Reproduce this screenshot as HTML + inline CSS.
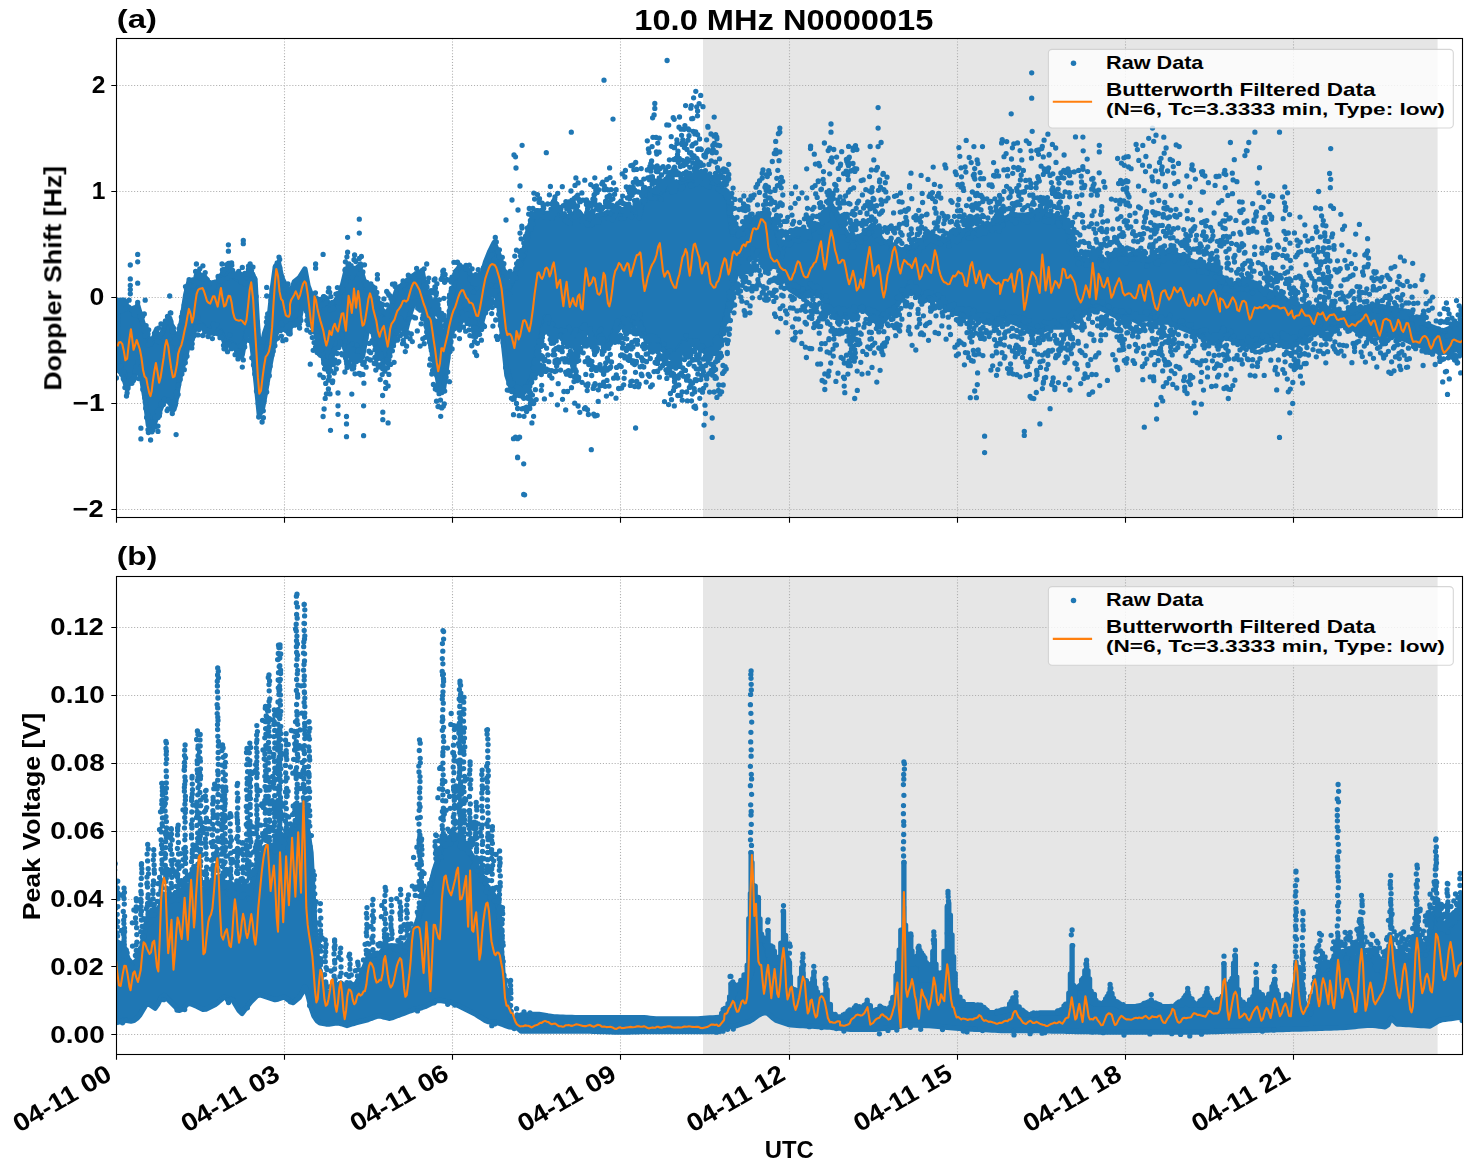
<!DOCTYPE html>
<html><head><meta charset="utf-8"><title>10.0 MHz N0000015</title><style>html,body{margin:0;padding:0;background:#fff;}</style></head><body><svg width="1471" height="1172" viewBox="0 0 1471 1172" style="display:block;font-family:'Liberation Sans',sans-serif;font-weight:bold">
<rect width="1471" height="1172" fill="#fff"/>
<clipPath id="cliptop"><rect x="116.5" y="38.5" width="1346.0" height="479.0"/></clipPath>
<rect x="703.0" y="38.5" width="734.6" height="479.0" fill="#e6e6e6"/>
<path d="M284.50 38.5V517.5M452.50 38.5V517.5M620.50 38.5V517.5M789.50 38.5V517.5M957.50 38.5V517.5M1125.50 38.5V517.5M1293.50 38.5V517.5M116.5 85.50H1462.5M116.5 191.50H1462.5M116.5 297.50H1462.5M116.5 403.50H1462.5M116.5 509.50H1462.5" stroke="#b0b0b0" stroke-width="1.1" stroke-dasharray="1.1 1.83" fill="none"/>
<g clip-path="url(#cliptop)">
<path d="M117.5 311.6 L120.7 305.2 L124.9 305.2 L129.2 307.4 L133.5 311.6 L137.7 305.2 L142 320.2 L146.3 333 L149.5 341.5 L152.7 341.5 L155.9 330.8 L159.1 337.2 L162.2 333 L165.4 322.3 L169.7 318 L172.9 330.8 L176.1 345.8 L179.3 333 L182.5 315.9 L185.7 294.6 L188.9 281.8 L193.2 290.3 L196.4 275.4 L200.6 277.5 L203.8 275.4 L208.1 281.8 L212.4 286 L216.6 288.2 L220.9 275.4 L226.2 273.2 L230.5 269 L234.8 277.5 L238 279.6 L242.2 275.4 L246.5 277.5 L250.8 271.1 L255 279.6 L257.2 320.2 L259.3 350 L261.4 350 L264.6 333 L268.9 320.2 L272.1 290.3 L275.3 266.8 L278.5 262.6 L281.7 277.5 L284.9 283.9 L290 294.6 L290 294.6 L294.3 281.8 L299.6 277.5 L304.9 269 L308.1 286 L311.3 294.6 L315.6 298.8 L319.9 303.1 L324.1 296.7 L328.4 303.1 L332.7 305.2 L336.9 298.8 L341.2 290.3 L345.4 273.2 L349.7 275.4 L354 271.1 L358.2 266.8 L362.5 275.4 L366.8 290.3 L371 290.3 L375.3 294.6 L379.6 307.4 L383.8 311.6 L388.1 315.9 L392.4 303.1 L396.6 290.3 L400.9 286 L405.2 281.8 L409.4 279.6 L413.7 275.4 L418 273.2 L422.2 271.1 L426.5 294.6 L430.8 307.4 L435 328.7 L439.3 333 L443.6 335.1 L447.8 324.4 L452.1 296.7 L456.3 271.1 L460 266 L464.3 268.2 L468.5 270.3 L472.8 283.1 L477.1 287.4 L481.3 276.7 L485.6 261.8 L489.9 251.1 L494.1 242.6 L498.4 253.2 L502.7 266 L505.9 285.2 L509.1 287.4 L513.3 278.8 L517.6 266 L524 255.4 L528.2 230.7 L532.5 217.9 L536.8 210.7 L545.3 213.3 L556 212.8 L566.6 217.1 L577.3 212.8 L588 219.2 L598.6 214.9 L609.3 212.8 L619.9 210.7 L630.6 212.8 L640 210.7 L646.6 189.1 L658.9 193.2 L671.2 185 L683.5 180.9 L695.8 176.8 L708.1 180.9 L720.4 185 L728.6 201.4 L732.7 234.2 L740.9 230.1 L749.1 221.9 L761.3 213.7 L773.6 221.9 L781.8 248.7 L790.2 237.3 L800.5 235.6 L810.7 230.4 L821 225.3 L831.2 204.8 L841.5 225.3 L851.7 240.7 L861.9 235.6 L872.2 225.3 L882.4 240.7 L892.7 245.8 L902.9 250.9 L913.2 245.8 L923.4 240.7 L933.6 235.6 L943.9 240.7 L954.1 235.6 L964.4 230.4 L974.6 230.4 L984.9 225.3 L1000 225.3 L1000 220.2 L1012.8 215.1 L1025.6 215.1 L1038.4 212.5 L1051.2 215.1 L1064 220.2 L1076.8 256 L1087.1 261.2 L1097.3 256 L1107.6 261.2 L1117.8 250.9 L1128 256 L1138.3 250.9 L1148.5 261.2 L1158.8 256 L1169 250.9 L1179.3 256 L1192.1 261.2 L1204.9 266.3 L1220 271.4 L1220 281.7 L1232.4 284.1 L1244.8 281.7 L1257.1 286.6 L1269.5 291.6 L1281.9 296.5 L1294.3 306.4 L1306.6 306.4 L1319 311.4 L1331.4 311.4 L1343.8 313.8 L1356.1 311.4 L1368.5 306.4 L1380.9 306.4 L1393.3 308.9 L1405.6 311.4 L1418 321.3 L1430.4 326.2 L1442.8 331.2 L1455.1 326.2 L1467.5 321.3 L1467.5 349.8 L1455.1 349.8 L1442.8 352.3 L1430.4 349.8 L1418 344.9 L1405.6 339.9 L1393.3 335 L1380.9 335 L1368.5 335 L1356.1 330 L1343.8 325.1 L1331.4 327.5 L1319 330 L1306.6 335 L1294.3 344.9 L1281.9 339.9 L1269.5 339.9 L1257.1 344.9 L1244.8 344.9 L1232.4 339.9 L1220 335 L1220 342.5 L1204.9 337.4 L1192.1 332.2 L1179.3 327.1 L1169 322 L1158.8 322 L1148.5 316.9 L1138.3 322 L1128 316.9 L1117.8 316.9 L1107.6 311.7 L1097.3 306.6 L1087.1 311.7 L1076.8 316.9 L1064 327.1 L1051.2 327.1 L1038.4 332.2 L1025.6 327.1 L1012.8 322 L1000 316.9 L1000 319.4 L995.1 322 L984.9 322 L974.6 316.9 L964.4 316.9 L954.1 311.7 L943.9 306.6 L933.6 296.4 L923.4 301.5 L913.2 291.3 L908 286.1 L902.9 296.4 L892.7 311.7 L882.4 322 L872.2 316.9 L861.9 306.6 L851.7 316.9 L841.5 316.9 L831.2 311.7 L821 296.4 L810.7 291.3 L800.5 296.4 L790.2 289.5 L777.7 263.8 L769.5 263.8 L761.3 255.6 L753.2 255.6 L745 263.8 L736.8 272 L728.6 304.8 L720.4 337.5 L708.1 353.9 L695.8 345.7 L683.5 341.6 L671.2 358 L658.9 345.7 L646.6 341.6 L640 322.1 L630.6 326.3 L622.1 326.3 L613.6 330.6 L607.2 347.7 L600.8 334.9 L594.4 343.4 L588 330.6 L579.4 334.9 L573 339.1 L566.6 330.6 L562.4 339.1 L556 330.6 L549.6 326.7 L545.3 317.3 L541 337.8 L536.8 356.1 L532.5 376.7 L528.2 385.3 L524 392.5 L519.7 388.3 L515.4 392.5 L511.2 388.3 L506.9 375.5 L502.7 337.1 L498.4 303 L494.1 285.9 L489.9 294.4 L485.6 307.2 L481.3 324.3 L477.1 332.8 L472.8 324.3 L468.5 311.5 L464.3 311.5 L460 324.3 L456.3 314.4 L452.1 320.3 L447.8 358.7 L443.6 388.5 L439.3 388.5 L435 362.9 L430.8 345.9 L426.5 324.6 L422.2 303.2 L418 299 L413.7 303.2 L409.4 316 L405.2 333.1 L400.9 324.6 L396.6 333.1 L392.4 341.6 L388.1 358.7 L383.8 362.9 L379.6 352.3 L375.3 345.9 L371 320.3 L366.8 333.1 L362.5 356.5 L358.2 350.1 L354 354.4 L349.7 345.9 L345.4 350.1 L341.2 337.3 L336.9 341.6 L332.7 354.4 L328.4 371.5 L324.1 362.9 L319.9 337.3 L315.6 333.1 L311.3 324.6 L308.1 316 L304.9 290.4 L299.6 318.7 L294.3 323 L290 327.2 L290 333.6 L284.9 329.4 L280.6 327.2 L276.3 331.5 L273.1 348.6 L269.9 365.6 L265.7 391.2 L262.5 408.3 L259.3 414.7 L256.1 382.7 L252.9 352.8 L249.7 327.2 L246.5 331.5 L242.2 354.9 L238 352.8 L233.7 344.3 L229.4 342.2 L225.2 344.3 L220.9 331.5 L216.6 331.5 L212.4 327.2 L208.1 331.5 L203.8 327.2 L199.6 323 L195.3 327.2 L192.1 340 L188.9 342.2 L184.6 361.3 L181.4 369.9 L178.2 386.9 L175 406.1 L171.8 406.1 L167.6 399.7 L163.3 401.9 L159.1 412.5 L155.9 418.9 L152.7 429.6 L148.4 425.3 L145.2 399.7 L142 380.5 L137.7 365.6 L133.5 380.5 L130.3 378.4 L127.1 389.1 L123.9 378.4 L120.7 367.7 L117.5 369.9 Z" fill="#1f77b4" stroke="#1f77b4" stroke-width="5.3" stroke-linejoin="round"/>
<path d="M116.2 310.7h0M115.9 314.3h0M116.5 307.4h0M116.6 319.1h0M117.6 300.2h0M118.4 311.6h0M119.5 305.6h0M118.8 302.9h0M119.8 305.8h0M121.1 300.1h0M120.6 307.7h0M122.2 303.9h0M122.1 310.6h0M123.3 303.1h0M124 300.2h0M126.3 302.6h0M125.5 309.1h0M129.1 300.2h0M132.2 309.8h0M134.2 307.9h0M133.7 314.5h0M135.3 309h0M134.9 315.3h0M136 311.6h0M137.9 310.4h0M139.7 312.1h0M140.1 316.6h0M140.9 316.7h0M141.5 318.9h0M142.6 316.5h0M144.3 313.9h0M143.6 330.6h0M144.6 328.8h0M144.8 336h0M145.7 332.2h0M145.9 331.6h0M146.1 325.7h0M146.8 333.2h0M146.6 332.3h0M148 333.9h0M147.8 344.9h0M148.7 329.8h0M150 340.6h0M150.5 344.2h0M151.7 338.8h0M154.5 333.3h0M156.9 328.8h0M156.8 340.9h0M158.5 328.2h0M159.7 334.5h0M160.1 342.4h0M161 323.8h0M162.2 332.8h0M164.3 326h0M164.5 323.8h0M165.4 320.8h0M165.7 320.9h0M167.5 316.5h0M167.6 322.2h0M170.3 312.8h0M170.8 321.5h0M170.8 325h0M172.4 326.3h0M172.1 330.9h0M173.4 328h0M173.5 331.5h0M173.5 342.5h0M175 339.4h0M176 342.9h0M177.1 341.5h0M177.3 347.9h0M178.3 333.3h0M179 328.6h0M180 325.7h0M181.4 316.9h0M182.4 313.8h0M182.9 311.9h0M182.7 312.2h0M183.3 312.9h0M184.2 305.2h0M185.5 286.6h0M186.5 289.5h0M187 286.1h0M186.8 295.9h0M187.9 287.8h0M189.1 279.6h0M190.5 291.8h0M191.9 295h0M192.8 279.9h0M193.1 280.4h0M193.6 285.9h0M195.4 281.3h0M195.6 271.5h0M198.4 271.4h0M198 283.2h0M198.7 276h0M198.8 283.1h0M199.8 268.8h0M200.5 274.8h0M200.5 275.6h0M202 275.4h0M202.9 265.8h0M204.2 278.7h0M205.2 272.6h0M205.6 283.6h0M207.2 279.7h0M206.6 286.9h0M208.8 288.7h0M209.9 282.7h0M211.5 290.6h0M213 282.6h0M212.5 289.4h0M213.9 286.3h0M213.8 294.7h0M215 282.2h0M217.5 292.3h0M218.1 276.5h0M218.4 279.4h0M220 280.9h0M222.4 269.8h0M222.5 273h0M222.6 279.4h0M224.1 269.3h0M224.5 269.8h0M226 269.2h0M226.8 264.6h0M227.2 278.3h0M228.5 263.5h0M229.2 266.6h0M229.6 263.4h0M230.2 275.4h0M230.5 265h0M231.2 275.8h0M231.8 265.3h0M232.6 270.3h0M235.3 274h0M235.7 276.5h0M236.6 273.9h0M238 275.6h0M238.7 271.4h0M239.5 277.5h0M240.6 274.5h0M241.3 281.9h0M242.3 267.4h0M242.4 274.8h0M242.9 280.5h0M244.8 273.5h0M245.3 284h0M246 283.1h0M247.5 274h0M248.4 269.4h0M248.5 266.2h0M250.1 264h0M250.4 279.9h0M250.8 267.8h0M251.5 270.2h0M251.8 267.3h0M252.7 274.5h0M253 267.1h0M254.7 278.7h0M254.6 284.7h0M256.1 296.5h0M257 321.5h0M257.6 329.6h0M259.1 341.9h0M259.7 348.2h0M260.5 353.9h0M262.2 346.7h0M262.9 341.6h0M264.7 339h0M266.4 322h0M267 317.3h0M267.7 313.8h0M268.8 326.1h0M271 300h0M272.1 289.6h0M272 296.6h0M275.5 267.2h0M276 265.8h0M277.2 262.8h0M277.8 263h0M277.7 263.2h0M279 257.1h0M279.7 259.5h0M279.8 267.7h0M281.9 276.7h0M282.7 284.7h0M283.6 289.8h0M287.4 287.1h0M287.9 284h0M287.7 295.6h0M288.9 290.6h0M290.3 299.5h0M291 299.2h0M313.3 294.6h0M313.6 297.1h0M315.4 292.8h0M315.5 304h0M316.2 297.9h0M315.5 305h0M318 307.4h0M318.9 308.2h0M320.2 299.5h0M321.9 305.2h0M323.3 304.8h0M323.5 296.6h0M325.6 297.6h0M326.2 302.7h0M326.9 299.2h0M328.3 291.8h0M328.8 288.1h0M329.7 292.3h0M329.7 309.9h0M330.8 296.6h0M332.3 302.4h0M333.3 308.2h0M333.6 308.8h0M335.9 294.1h0M337.4 287.6h0M337.1 300.3h0M337.6 293.6h0M338.1 302.6h0M338.8 302.6h0M339.7 298.1h0M341.9 286.6h0M343.2 289.8h0M344.5 284.5h0M344.9 270.1h0M345.5 269.1h0M346.2 271.9h0M346.4 281.5h0M346.9 256.8h0M347.5 272.5h0M348.1 265.3h0M348.9 263.8h0M348.6 266.9h0M349 271.2h0M350.3 267.4h0M349.6 272.6h0M350.6 267h0M351.1 265.7h0M352.3 271.3h0M352.3 277.5h0M352.7 270.2h0M352.9 275h0M354.2 268.5h0M354.3 273.3h0M354.6 254.9h0M355.8 261.5h0M355.9 271h0M358.1 266.9h0M359.3 258.4h0M359.6 265.8h0M359.6 274.4h0M360.5 267.3h0M362.3 264.9h0M362.9 271.9h0M364.5 264.8h0M365.5 282.2h0M366.4 284.7h0M367.3 286.1h0M366.8 282.4h0M368 288.9h0M369 287.9h0M368.5 287.2h0M369.4 297.1h0M369.6 287.6h0M370.9 284h0M372.4 286.3h0M372.8 289.1h0M374.9 288h0M374.5 292.7h0M376.5 297.5h0M376.8 292.5h0M376.6 307.4h0M378 298.1h0M379.2 303.2h0M378.9 313.6h0M379.7 303.2h0M381.1 306.3h0M381.6 306.6h0M382.4 310.7h0M382.8 304.7h0M383.1 311.5h0M383.9 298.9h0M385 312.2h0M384.6 318.9h0M386.1 313.6h0M387.1 311.7h0M387.1 304.9h0M386.7 291.4h0M386.5 320.3h0M388.2 293.7h0M388.3 315.7h0M389 295.2h0M388.6 309.8h0M388.8 320.9h0M390.3 296h0M390.9 298.6h0M392.1 301.3h0M392.5 284.2h0M392.7 298.8h0M394.8 283.8h0M395.1 286.5h0M399.1 286.9h0M399.6 288.1h0M400.6 293.7h0M401.5 291.9h0M403.1 281h0M403.9 284.7h0M407.6 279.8h0M408.3 275.2h0M409.6 286.3h0M410.9 283.4h0M411.8 276.3h0M414.9 279h0M416 273.7h0M416.6 268.5h0M417.7 273.2h0M419 276h0M419.8 275.4h0M422.2 270.4h0M422.6 270.1h0M424.1 268.8h0M423.9 285.3h0M425.4 285.4h0M424.8 292.8h0M426.7 264h0M427 286.9h0M427.8 282.1h0M427.7 292.6h0M428.7 278.1h0M429.3 291.9h0M430.4 293.2h0M429.7 299.9h0M430.2 298.2h0M430.7 305.1h0M431 300.4h0M430.8 304.9h0M431.2 290.7h0M431.9 311.1h0M432.7 304h0M432.6 292.7h0M432.5 323.2h0M434.2 280h0M434.1 304.3h0M433.6 306.3h0M435.4 287.9h0M435.1 311.6h0M434.9 286.9h0M435.2 320.8h0M436.4 292.7h0M436.1 294.7h0M435.8 311.1h0M435.6 299.3h0M436.3 313h0M436.9 321.7h0M437.1 311.7h0M437.2 314.2h0M437.2 324.4h0M436.9 283.7h0M438 330.4h0M438.3 326.1h0M437.6 308.4h0M438 304.6h0M439.3 299.8h0M438.9 308.9h0M439.2 325.1h0M439.3 316.6h0M438.9 311.5h0M439.9 322.9h0M439.9 332.9h0M440.2 315.5h0M439.8 319.2h0M440.4 331.8h0M441.3 325.7h0M440.7 317.5h0M441.3 329.3h0M441.1 279.3h0M442.5 325.8h0M442.1 319.9h0M442.3 277.7h0M441.8 313.4h0M442.9 274.8h0M442.8 271.2h0M442.8 319h0M442.7 316.2h0M443.2 334.7h0M442.8 340.8h0M444.1 315.4h0M443.9 298.3h0M443.6 270.1h0M444.6 282.3h0M445.1 274.4h0M445.5 339.4h0M445.6 320.1h0M445.7 324.2h0M447.4 321.5h0M446.7 279.5h0M448.2 279.9h0M449.2 311.1h0M449.2 297.4h0M449.4 301.9h0M449.6 304.2h0M449.6 294.8h0M449.6 295.9h0M451.4 288.4h0M451.3 303.6h0M451.1 291.2h0M451.3 282h0M451.5 307.9h0M452.1 280.1h0M452.1 296.7h0M452.4 277.8h0M452 277.2h0M453.2 290.7h0M453.9 262.3h0M454 277.7h0M454.9 274.1h0M455.3 272h0M454.9 274.9h0M456 271.2h0M456.8 262.4h0M457.1 275.7h0M457.5 262.1h0M459.5 264.9h0M466 265.5h0M466.5 268.9h0M469.3 265.2h0M469.9 272.9h0M470.1 278.8h0M470.5 279.8h0M472.1 268.8h0M472.9 283.2h0M473.4 276h0M473.6 279.9h0M473.7 275.7h0M473.5 292.2h0M475.5 284.2h0M474.6 279h0M475.7 275.1h0M475.7 274.6h0M476.2 283.9h0M476.6 275.5h0M478.4 280.2h0M478.2 269.7h0M479.2 282.4h0M480.2 278.1h0M480 274.2h0M481.1 275.8h0M480.6 277.6h0M482.1 275.1h0M483.4 268h0M489.4 257.3h0M491.8 254.8h0M495.3 237.4h0M496.3 241.9h0M498.1 251.9h0M499.4 249.8h0M499.2 256.5h0M500.3 264h0M502.3 257.3h0M502.4 266h0M503 264.2h0M503.7 272.3h0M503.9 263.7h0M504.6 271.5h0M505.5 279.6h0M505.1 287.3h0M506.1 282.8h0M506 279.1h0M506.5 293.1h0M507.1 275.6h0M507.3 281.3h0M507.3 273.5h0M507.5 281.8h0M507.7 283h0M508.1 294.3h0M509.4 276.7h0M509.1 286.2h0M509.5 294.4h0M510.1 271.3h0M510.7 273.5h0M511.8 280.8h0M512.4 274.4h0M513.3 278.7h0M513.6 275.9h0M514.8 256.1h0M515.8 269h0M516 277.9h0M516.6 263.6h0M516.5 250.2h0M518.4 264.8h0M518.4 261.4h0M518.9 261.2h0M519.4 262h0M519.8 252h0M520 233.1h0M520.6 256h0M521.1 238.8h0M521.4 257.7h0M520.7 264.6h0M521.8 226.2h0M522 255.4h0M521.6 250.3h0M523.4 255.9h0M523.8 243.1h0M523.7 249.7h0M524.5 246.8h0M524.8 247.6h0M524.8 248.4h0M526.3 243.4h0M525.6 236.2h0M526 239.2h0M527.4 227.8h0M527.1 233.5h0M527.3 244.5h0M527.6 228.3h0M528.1 230.5h0M527.7 237.8h0M529.3 208.4h0M528.7 214.1h0M528.9 227.2h0M530.3 224.5h0M530.4 220.5h0M531.4 222.2h0M531.4 213.4h0M531.3 228.9h0M531.9 217.1h0M532.9 208.5h0M533.2 224.1h0M533.8 193.1h0M534.6 199.1h0M536 215h0M537.5 210.6h0M536.6 217.4h0M537.5 194.6h0M537.7 210.7h0M539.1 202.3h0M538.6 210.9h0M539.5 198.7h0M540 215h0M540.9 210.6h0M541.1 210.5h0M542.2 203.1h0M542.3 210.4h0M543.3 206.5h0M542.9 204.3h0M543.7 208.2h0M544.5 216.9h0M546.5 216.2h0M547.1 217.4h0M547.6 204h0M547.5 216.3h0M549.4 194.8h0M550.4 186.5h0M549.8 213.9h0M551 209.1h0M551.9 203.7h0M552.1 218.4h0M553.5 201.5h0M552.8 203.8h0M552.6 215.6h0M553.8 211.1h0M553.8 206.2h0M553.6 209.3h0M554.1 208.1h0M554.7 199.2h0M555 196.8h0M555 214.2h0M555.7 209.2h0M555.9 203.4h0M557.4 207.4h0M557.1 209.6h0M556.8 204.2h0M557.7 193.3h0M557.9 207.3h0M558.9 207.1h0M560.5 210.7h0M560.9 208.8h0M562.3 186.7h0M562.2 213.8h0M563.3 205.7h0M564.4 213.9h0M564.1 213.9h0M565.3 220.6h0M565.9 201.6h0M566.2 220.5h0M567.1 208.7h0M566.8 208.9h0M567.9 205.1h0M567.6 222h0M568.6 201.8h0M569.3 211.1h0M569.9 212h0M570.1 223.4h0M571 191h0M572.2 203h0M571.9 206.9h0M571.9 200.2h0M572.6 202.4h0M572.9 206.9h0M573.1 201.1h0M573.9 203.3h0M574.5 198.2h0M574.3 216.8h0M575.5 207.5h0M575 185.4h0M575.4 211.8h0M575.9 177.9h0M575.8 210.6h0M575.7 216.4h0M577.1 196.9h0M577.5 205.9h0M576.5 196.6h0M576.8 210.1h0M577.8 213.2h0M578.1 182.9h0M577.7 195.1h0M577.8 215.6h0M579.5 201.1h0M578.9 199.4h0M578.7 211.6h0M579.7 212.6h0M580.3 201.7h0M580.5 213.9h0M581.9 192.9h0M581.6 221.4h0M582.8 200.1h0M582.6 220.8h0M584.5 200.3h0M583.7 218h0M584.8 180.2h0M586.5 199.8h0M586.4 204.5h0M586.2 222.6h0M587.4 211.2h0M587.3 205.3h0M586.7 213h0M587.5 225.2h0M587.6 202.2h0M587.9 203.5h0M587.6 208.6h0M587.9 214.9h0M588.8 214.4h0M588.5 213.2h0M590.2 214.9h0M589.8 216.4h0M591.3 206h0M590.7 184.6h0M590.9 217h0M592.5 212.8h0M591.7 203.2h0M592.2 224.6h0M592.9 199.2h0M593.1 211.4h0M592.6 210.8h0M593.8 200.9h0M593.9 186.8h0M594.1 195h0M593.6 221.3h0M594.8 177.8h0M594.6 194.3h0M594.9 199.6h0M594.8 202.3h0M594.7 221.8h0M595.8 190.5h0M596.4 205.5h0M596.4 185.8h0M596.5 209h0M597.2 192.6h0M597.2 219.9h0M598.3 209.4h0M598.1 206.4h0M598.4 222.3h0M598.5 189.7h0M598.7 221.6h0M599.5 205h0M600.1 207.1h0M600.1 209.8h0M600.9 208.5h0M602.3 214.2h0M601.8 183.8h0M602.1 208.8h0M602.6 208.3h0M602.7 182.1h0M603.9 189.6h0M604.3 185.8h0M603.6 207.1h0M605.2 189.6h0M605.6 201.1h0M605.9 188.9h0M605.6 203h0M607.2 212.3h0M606.8 179.5h0M607.1 196.8h0M607.6 207.1h0M607.9 203.9h0M607.6 218.4h0M608.7 189.9h0M609 207.1h0M608.9 201.6h0M609.6 167.9h0M609.8 195.5h0M610 177.6h0M611.1 189.6h0M611.3 199.6h0M611.9 205.1h0M611.6 207.4h0M612.2 218.7h0M612.8 209.5h0M612.9 198.8h0M612.5 219.5h0M613.6 182.8h0M614.6 194.2h0M614.7 215.7h0M616.4 211.3h0M616.1 189.7h0M616.7 205.1h0M616.5 208.1h0M617.7 203.6h0M619.3 208.1h0M619.7 202.3h0M621.1 201h0M621.3 201h0M621.1 218.6h0M622.2 173.8h0M622.7 196.1h0M623.1 203.5h0M622.7 211.1h0M623.5 209.4h0M624.2 218h0M625.4 170.5h0M624.9 177h0M625.2 204.2h0M624.8 215.8h0M626.3 187h0M625.8 207.8h0M625.8 214.1h0M626.8 210h0M627.5 197.9h0M628.3 189.9h0M628.1 212.4h0M629.5 192.7h0M629.1 197.2h0M628.8 204.2h0M630.2 207.7h0M629.6 198.7h0M629.9 187.2h0M629.9 192.2h0M629.9 214.8h0M631.4 208h0M630.6 193.8h0M630.8 165.6h0M630.8 215.4h0M631.7 193.3h0M631.6 192.2h0M632.1 195.3h0M631.6 216.8h0M633.1 164.8h0M633.3 182.4h0M633.2 187.5h0M633.9 169.7h0M634.5 207.5h0M634.3 192.3h0M633.6 209.5h0M634.5 200.7h0M634.7 190.2h0M635.2 203.3h0M635.1 204.4h0M636.4 191.7h0M635.7 162.5h0M635.8 178.8h0M636.6 169.4h0M637.2 200.1h0M636.5 180.6h0M638.3 192h0M638.4 208.2h0M637.8 184.1h0M637.9 206h0M638.5 208h0M639.3 208.1h0M639.1 206h0M639.2 202.6h0M639.4 217.8h0M640.3 182.4h0M639.8 210.3h0M640.4 213.8h0M640.7 206.6h0M641.2 168.6h0M640.7 210.9h0M642.4 193.4h0M641.6 183.9h0M641.7 195.6h0M642.7 200h0M643 191.5h0M643.5 188.3h0M643.8 179.1h0M644.5 201.4h0M645.2 191h0M644.8 187.4h0M645.1 200.3h0M647.3 169.9h0M647.3 140.8h0M647.8 178h0M648.4 148.9h0M649.3 179.8h0M649 152.5h0M649.9 166.3h0M649.8 188.4h0M650.5 178.6h0M649.7 195h0M650.6 176.8h0M651.4 190.3h0M650.9 171.2h0M650.8 163.6h0M650.8 198.1h0M652.1 146.6h0M652.4 176.7h0M651.6 161h0M652.1 184.2h0M652.9 137.3h0M652.6 117.8h0M653.4 167.2h0M652.8 179.5h0M652.7 190.4h0M652.7 190.7h0M654.1 183h0M654.1 115h0M654.2 183.1h0M655.3 188.6h0M654.8 108.4h0M655 198.4h0M656.4 151.8h0M655.8 182.8h0M656.1 137.4h0M655.8 192.3h0M656.5 171.6h0M656.8 154h0M657.1 165.9h0M657 180.9h0M657.4 192h0M656.6 169.9h0M657.8 143.1h0M657.7 189.1h0M658.3 186.9h0M658.3 189.2h0M658 171.6h0M659.1 152.2h0M659.2 177.8h0M659.2 181.8h0M659.3 138.1h0M659.3 179h0M660 180.3h0M659.5 187.2h0M660.2 168.4h0M661.3 182.4h0M660.5 188.4h0M661 199.4h0M662.4 184h0M661.6 175h0M662.2 184.2h0M663.3 189.5h0M663.5 180.9h0M663.1 166.6h0M663 187.2h0M664.2 186h0M664.1 187.5h0M663.6 183.8h0M665.4 171.9h0M665.8 179.2h0M665.7 170.4h0M666.3 181.2h0M667.1 180.3h0M667.4 182.5h0M666.8 124.9h0M667.8 176.9h0M668.4 166.7h0M668.2 181.7h0M669.4 159.8h0M669.4 179.2h0M669.3 172.7h0M668.7 125.1h0M669.5 174.9h0M670.5 182.2h0M670.4 185.5h0M670.2 180.8h0M669.7 182.6h0M671.4 172.4h0M671.4 146.3h0M670.7 184.1h0M671.2 136.7h0M671 184h0M670.6 189.2h0M672.4 173h0M672 180.8h0M671.9 180.2h0M672.2 178.6h0M672.2 179.8h0M671.9 191.9h0M672.7 171h0M673.2 117.7h0M672.7 174.5h0M672.6 174.8h0M673 183h0M672.9 186.7h0M674.2 147.7h0M674 159.5h0M674.5 147.5h0M674.2 119.3h0M673.8 168.2h0M674.5 167.1h0M673.9 188.7h0M675.1 183.6h0M675.1 174.5h0M674.7 168.9h0M675.3 190.9h0M676.2 181.8h0M676.1 171h0M675.8 158.3h0M676.4 181.8h0M677.5 154.6h0M677.1 174.6h0M676.9 140h0M676.9 143.6h0M677.1 159.4h0M678 151.2h0M678.1 174.7h0M678.4 172.9h0M678.2 162.3h0M677.7 186.2h0M679 158.3h0M679.3 158.4h0M678.7 173.7h0M679 127.2h0M679.5 117h0M680.3 166.6h0M680.8 176.3h0M680.9 178.2h0M681 129.2h0M680.9 189.1h0M681.9 142.9h0M682.3 160.3h0M681.6 135.3h0M681.9 144.4h0M681.9 187.5h0M682.5 165.4h0M683.1 173.8h0M682.7 179.1h0M682.8 139.8h0M683.3 187.1h0M684.4 147.6h0M683.9 173.4h0M684.1 129.3h0M683.5 165.5h0M683.9 161.6h0M685.1 163.2h0M684.9 125.6h0M685.1 164.4h0M685.2 163.5h0M685.8 143.7h0M686.3 177.6h0M686 164.2h0M686.3 171.9h0M687 149.4h0M687.3 158.8h0M687 161.6h0M687 160.1h0M687.2 175.5h0M687.5 161.7h0M688.1 140.2h0M688.3 129h0M687.7 175.1h0M687.6 175.5h0M689.1 130.1h0M689.2 177.1h0M689 135.7h0M689.2 177.1h0M689.1 160.1h0M689.8 173.1h0M689.5 152.8h0M689.8 167.3h0M690.4 184.7h0M690.9 152.6h0M690.8 176.5h0M691.3 105.6h0M690.8 108.2h0M691 186h0M692 155.2h0M691.9 145.9h0M691.7 118.7h0M691.8 185.7h0M693.1 158.1h0M692.8 163.2h0M692.8 118.5h0M693.3 131.5h0M693 144.3h0M693.6 97.8h0M694.1 155.9h0M694.4 175.5h0M694.1 174.6h0M694.4 169.9h0M694 174.1h0M694.8 133.9h0M695.3 168h0M695.4 171h0M694.6 168.2h0M695.3 173.2h0M694.8 177.5h0M695.7 132h0M696.2 174.6h0M696.3 175.2h0M695.7 163.4h0M695.8 143h0M696.4 183.7h0M696.7 106.8h0M697.5 115.8h0M696.5 158.2h0M697.1 158.9h0M697 167.5h0M697.2 180.8h0M697.6 134.7h0M697.6 111h0M697.8 149.4h0M698.3 161.4h0M697.6 166.9h0M699.1 103.7h0M698.6 148.9h0M698.8 172.3h0M700.1 177h0M700.4 162.7h0M699.6 139h0M699.7 182h0M701.3 171.4h0M700.6 165.7h0M700.6 148.9h0M701.3 149.6h0M702 177.6h0M702.1 175.2h0M702.1 173.8h0M702.2 183.6h0M703.4 172.7h0M703.3 165.1h0M703 106.7h0M702.6 173.5h0M704 155.9h0M704 175.2h0M704 173.3h0M703.9 155.1h0M703.7 183.9h0M705.4 170.6h0M705.4 156.2h0M705.4 179.4h0M705.3 157.1h0M704.7 179.7h0M705.8 174.6h0M705.9 179.2h0M706.4 185.8h0M706.7 152.2h0M707.3 150.9h0M706.6 139.8h0M707.5 182.1h0M708.2 149.8h0M707.8 126.5h0M708 127.2h0M708.9 164.4h0M709.2 187.2h0M709.8 176.4h0M709.7 176.8h0M709.8 173.8h0M711 134h0M711.3 160.9h0M711.7 151.9h0M712.3 152.8h0M712.8 145.4h0M713.5 177.3h0M713.2 149.7h0M713.4 178.2h0M714.3 143.5h0M714.1 136.2h0M714.3 178.7h0M715.5 173.3h0M715.4 162.1h0M715.5 179.8h0M715.7 134.6h0M716 177.6h0M716 176.3h0M716.2 152.5h0M716.3 180.8h0M716.9 138.8h0M717.2 181.5h0M716.8 137.2h0M717.5 145.2h0M717.5 167.6h0M718.3 181.3h0M718.1 170.8h0M717.8 169.1h0M718.3 189.1h0M718.6 176.3h0M719.2 177h0M719.2 170.7h0M719.5 158.8h0M719.7 145.6h0M720.5 177.7h0M720.4 191.1h0M721 175.1h0M722.3 183.6h0M721.5 191h0M723.3 177.1h0M722.9 184h0M723.4 192.6h0M724.4 182.2h0M723.6 168.8h0M723.9 171.4h0M725.1 171.7h0M725 184.4h0M725.4 170.7h0M724.9 179.9h0M725.2 189.6h0M726.3 184.3h0M726.2 169.9h0M725.8 195.5h0M726.5 193.3h0M727.1 181h0M726.9 197.3h0M727.1 171.4h0M727.3 191.8h0M727 191.5h0M727.1 179.5h0M727.9 179h0M728.2 177h0M727.7 194.1h0M728.8 174.4h0M729 201.9h0M728.7 164.3h0M728.7 179h0M728.8 212.4h0M729.8 208.4h0M729.8 208.1h0M729.8 220h0M731.5 209.4h0M730.7 213.5h0M731.3 206.8h0M731.3 197.1h0M731.3 227.6h0M732.2 208h0M731.8 193.3h0M732.4 217.3h0M731.8 209.6h0M731.8 203.5h0M733.1 188.1h0M733.4 222.6h0M732.7 225.9h0M733 232.1h0M734.3 220.5h0M733.8 230.6h0M734.5 208.3h0M734.9 199.4h0M735.9 223.8h0M737.4 228h0M737 217.3h0M737.8 228.7h0M738 235.8h0M739.1 209.5h0M738.8 233h0M740.3 200.1h0M740.3 230.7h0M742.4 208.5h0M742.2 228.4h0M742.6 221.7h0M743.3 210.1h0M742.7 234.2h0M744.5 205.3h0M743.9 195.9h0M743.6 203.9h0M745.1 225.9h0M744.8 223.1h0M744.9 224.8h0M745.3 210.5h0M744.6 221.6h0M745.8 206.2h0M746.1 217.3h0M746.3 220.3h0M746.3 220.1h0M747.3 223.3h0M747 223.4h0M747.1 231.5h0M747.9 206.6h0M748.1 209.6h0M748.5 216.8h0M748.6 199.9h0M750 218.6h0M750.2 200.1h0M749.7 226.3h0M750.7 214.5h0M751 196.1h0M751.2 227h0M752.1 214.2h0M752.5 197.7h0M753.2 195.6h0M752.5 225.6h0M754.1 195h0M753.7 223.5h0M754.7 225.6h0M756 187.2h0M755.7 224.4h0M757.5 204.8h0M757.6 184.2h0M758.1 213.8h0M757.8 222.3h0M759.4 192.4h0M758.9 214h0M759.6 180.7h0M759.7 214.3h0M761.3 213.7h0M762.4 213.3h0M761.8 221.6h0M763 169.9h0M764.4 209.3h0M763.6 204.8h0M765 210.9h0M765.1 195.4h0M764.9 187.2h0M764.6 215.1h0M766.2 204h0M765.7 185.5h0M766.2 190.6h0M765.6 200.8h0M767.5 210.2h0M766.9 210.6h0M767.3 176.5h0M767.2 190.9h0M766.6 216.4h0M766.5 174.6h0M767.4 223.5h0M768.4 187.1h0M768.4 189.8h0M767.7 209.6h0M768.3 217.6h0M768.5 215.1h0M768.7 170.7h0M768.6 197.8h0M769.4 173.6h0M769.1 213.4h0M770.1 198.1h0M770.3 191.8h0M770 227.1h0M770.5 203.9h0M772.3 161.5h0M771.6 200.3h0M772.6 201.9h0M772.6 226.4h0M774.3 153.5h0M773.9 219.1h0M774.3 209.8h0M774.5 224.5h0M774.6 226.1h0M775.2 221.6h0M775 190.4h0M774.9 202.4h0M775.1 189.2h0M776.2 153.5h0M776.2 228.3h0M775.9 150.1h0M775.7 141.4h0M776.8 178.3h0M776.8 217h0M776.6 215.4h0M777.5 206.8h0M777.4 185.6h0M777.8 170.3h0M777.9 222.6h0M777.7 235.2h0M778.4 133.7h0M778.3 217.4h0M779 160.7h0M779.3 233.9h0M779.1 220.7h0M779.5 242h0M780.1 203.8h0M780.4 202.9h0M780.4 215.8h0M780.5 182.5h0M779.7 237.9h0M780.4 225.3h0M780.2 248.6h0M780.9 236.3h0M781.2 187.8h0M781.3 177.4h0M780.8 231.7h0M781.2 244.6h0M780.8 234.2h0M782.2 205.3h0M782.2 204.5h0M781.6 231h0M781.9 256.4h0M783 241.8h0M782.8 195h0M782.7 181.3h0M782.9 252.6h0M784.2 221.4h0M783.8 234.9h0M785.3 243.2h0M785.4 234.7h0M785.5 231.9h0M786.4 235.8h0M786.1 243.5h0M786.6 235.6h0M786.9 221.3h0M787.7 217.3h0M787.5 238.5h0M788.6 238h0M789.9 231.7h0M789.7 244.8h0M790.9 230.4h0M790.7 207.8h0M790.9 243.5h0M792 215.1h0M791.6 193.6h0M792.5 230.9h0M792.6 224h0M792.6 236.1h0M793.7 221.4h0M793.9 230.5h0M793.6 233.7h0M794.4 240.2h0M794.7 234.7h0M795.1 203.3h0M795.6 186.9h0M796.7 228.9h0M797.8 233.6h0M798.6 198.6h0M798.7 241.1h0M799.6 222.5h0M800.5 229.3h0M802 234h0M802 192.8h0M802.1 238h0M803.3 229.3h0M804.4 218.8h0M803.7 227.2h0M804.7 230.4h0M804.9 232.1h0M805.2 239.8h0M806.2 215h0M806.4 232.4h0M806 236.3h0M807.5 208.3h0M806.7 198h0M806.7 168.8h0M808.5 222.5h0M807.9 217.7h0M807.5 232.1h0M809.3 224.7h0M809.1 231.3h0M809.1 235.1h0M809.7 225.2h0M810.5 225.9h0M810 237.8h0M810.6 146.2h0M810.7 220h0M812.4 209.3h0M812.4 187.6h0M811.9 217.9h0M812.5 225h0M812.8 215.9h0M814 207.3h0M814.3 154.2h0M814.7 223.4h0M815.1 185.6h0M815.4 164.1h0M816.4 224.6h0M815.7 194h0M816.9 216.4h0M817.2 197.4h0M817.2 224.2h0M818.3 181.5h0M818 226.4h0M818.2 180.8h0M818.7 163.3h0M819.5 203.3h0M819.5 230.6h0M820.2 214.9h0M820.2 207.4h0M819.6 165.8h0M819.8 232.1h0M820.9 219.2h0M820.6 202.6h0M821.4 189.1h0M820.9 189.6h0M822 215.3h0M822.2 222.5h0M821.9 216.1h0M823.1 179.5h0M823.5 171.6h0M823.3 212.4h0M822.8 206.7h0M824.4 143h0M823.7 183.5h0M824 218.6h0M824.5 214.4h0M825.2 209.7h0M824.7 217.1h0M825.5 216.6h0M826.4 210.5h0M826 220.4h0M827 192.2h0M826.6 201.6h0M826.7 209.8h0M827.2 214.4h0M828.2 150.6h0M828 195.1h0M828.4 203.2h0M827.7 218.9h0M829.2 190.6h0M829.3 199.3h0M829.7 173.8h0M830.3 160.7h0M829.7 147.9h0M830.1 207.6h0M831.1 197.2h0M831.1 201h0M830.8 194.9h0M831.2 207.9h0M831.7 157.8h0M832.1 193.4h0M832.1 162.1h0M833.2 194.2h0M832.7 196.9h0M833.3 198.6h0M833.8 149.5h0M833.6 209.5h0M834.5 208.8h0M834.7 184.3h0M835.7 190.1h0M836 209.4h0M835.9 185.4h0M836.6 157.1h0M836.9 213.5h0M836.8 190.2h0M838 203h0M838.3 168.4h0M837.9 199.8h0M839 215.9h0M838.8 179.4h0M839.5 218.8h0M840.1 196.8h0M839.6 207.8h0M840.3 165.6h0M839.9 229.8h0M840.8 222.2h0M840.6 164.1h0M840.7 231.9h0M841.7 151.7h0M842.3 218.2h0M841.8 203.1h0M842.5 232.2h0M843.2 215.1h0M843.5 200.9h0M844.2 202.9h0M843.6 173.6h0M844.5 220.1h0M843.8 225.4h0M845 218.2h0M845.4 223.9h0M844.7 214.3h0M845.9 223.3h0M846.4 159.3h0M845.5 196h0M846.1 171.2h0M847.3 216.8h0M846.8 161.2h0M846.9 214.3h0M846.9 215.2h0M847.4 239.8h0M848.4 192.1h0M847.7 175.1h0M848.5 165.7h0M848.3 179.7h0M847.8 163.7h0M848.6 158.4h0M848.8 203.5h0M848.8 163.2h0M849.3 157.2h0M848.6 146.4h0M850.2 189.6h0M850.4 236h0M850 204.1h0M850.3 220.3h0M850.8 229.2h0M850.6 227.3h0M850.5 222.5h0M850.7 171h0M851.2 247.1h0M851.9 213.7h0M852.5 170.4h0M852.1 224.5h0M852.2 232.4h0M853.1 150.3h0M853.1 235.2h0M853 163.5h0M852.9 211.4h0M853.2 148h0M852.9 244.9h0M853.6 187.9h0M854.1 238h0M854.2 215h0M854 246.8h0M854.9 171.4h0M855.2 228.1h0M854.7 168.7h0M855.5 145.7h0M854.9 214.3h0M855.8 228.7h0M856.2 221.2h0M856 229.5h0M856.2 208.3h0M856.5 224.6h0M856.7 168.9h0M857.3 203.1h0M856.9 149.6h0M858 236.5h0M858.6 201.1h0M860.1 212.4h0M859.8 223.4h0M860 239.5h0M860.8 235.8h0M861.2 180.6h0M861 242h0M862.4 194.9h0M862.1 225.6h0M863.2 179.9h0M863.3 220.6h0M863.6 208h0M864.2 230.3h0M865.1 205.7h0M864.7 230.3h0M865.9 223.9h0M865.8 189.7h0M865.6 237.8h0M867 214.1h0M867 221.7h0M867 213.2h0M867.7 202h0M868.6 220.5h0M869.5 176.6h0M868.9 206.3h0M869.2 233.5h0M870.4 220.4h0M869.5 191.1h0M870.2 146.5h0M870.1 208.8h0M870.8 202.4h0M871.2 192.1h0M871.4 169.9h0M870.9 219.8h0M872.2 187.6h0M872.4 207.9h0M871.9 191.6h0M871.6 216.9h0M872.8 225.4h0M873 198.3h0M873.4 207h0M873 207.9h0M873.8 199.4h0M874.1 206.4h0M873.8 159.9h0M873.9 207.6h0M874 218.9h0M875.3 211.3h0M875.2 221.6h0M874.7 228.5h0M875.3 226.8h0M874.6 235.7h0M876.2 170h0M875.6 221.2h0M876.7 205.7h0M877.4 167.5h0M877.4 239.8h0M878.5 190.3h0M877.6 232.2h0M877.5 227.6h0M878.7 229.8h0M879.1 225.9h0M879.5 181.8h0M879.5 214h0M878.8 240.1h0M879.7 180h0M879.7 227.8h0M879.6 235.7h0M880.5 187.1h0M881.3 212.5h0M881 199.9h0M881.1 142.5h0M881.4 243h0M881.6 204.2h0M881.9 231.7h0M883.3 173.4h0M882.5 210.8h0M882.9 174.3h0M883.9 189.7h0M884.9 227.6h0M885.4 230.1h0M885.3 182.7h0M885.8 200.9h0M885.8 191.9h0M887 177.2h0M887.4 232.1h0M887.3 232.3h0M888.1 198.1h0M889.4 227.4h0M888.6 241.5h0M890.4 241.1h0M890.2 228.3h0M890.1 243.3h0M891.2 225.9h0M891.2 238.2h0M891.4 249.7h0M892.3 247.5h0M893.4 228.3h0M893.5 231.1h0M893.2 253.1h0M893.6 212.9h0M893.6 245h0M894.7 232.8h0M894.5 196.3h0M895.4 254.3h0M896 246.4h0M896.2 228.1h0M896.6 241.6h0M896.6 195.6h0M896.8 251.1h0M898.3 228.2h0M898.4 239.4h0M898.1 239.9h0M899.1 201.6h0M899.4 224.5h0M899.4 256.2h0M900.2 212.1h0M900 240.8h0M900.5 193h0M901.1 211.8h0M900.7 232.7h0M901 253.5h0M902.1 235h0M902.1 202.1h0M901.9 243.3h0M903.5 252.8h0M903.8 223.2h0M903.7 249.4h0M904.1 256h0M904.9 210.2h0M906.4 222.5h0M905.9 211.3h0M905.8 217.5h0M906.5 246.6h0M906.7 221.2h0M906.6 224.5h0M908.4 208.6h0M908.2 209.3h0M907.9 256h0M909.1 234.9h0M908.9 247.6h0M909.5 187.2h0M909.7 239.5h0M909.6 185.6h0M911 173.2h0M911.5 233.3h0M911.2 228.9h0M911.5 242.5h0M911.8 198.7h0M911.9 240.8h0M914.2 239.3h0M913.9 217.4h0M914.7 239.5h0M915.1 239.2h0M916.1 219.9h0M915.9 215.6h0M915.6 252.3h0M917.3 234.4h0M917.3 234.2h0M917 251.2h0M918.3 229h0M918.2 234.5h0M919.4 218.3h0M918.7 210.3h0M918.6 240.3h0M919.1 250.2h0M920 229.4h0M919.7 232.5h0M920.4 247.6h0M920.7 222.1h0M920.6 240.2h0M921.1 175.4h0M920.6 243h0M921.6 226.9h0M922.2 193.4h0M921.7 216.1h0M922.6 202.5h0M922.9 247.1h0M924.2 237.1h0M925.2 228.9h0M925.2 244.3h0M925.6 233.3h0M926.4 214.7h0M927 214.2h0M927.2 231.3h0M926.8 235.3h0M928 179.4h0M927.6 241.8h0M929.1 196.4h0M930.3 194.2h0M929.8 233.3h0M930.2 239.3h0M930.9 196.3h0M930.8 194.4h0M931.6 236.3h0M932.4 192.6h0M933.2 167.1h0M932.9 231.8h0M932.5 198.6h0M933.4 240.8h0M934.4 223h0M934.4 184.4h0M935.4 201.7h0M934.7 208.3h0M934.8 239.6h0M936.1 212.7h0M935.8 228.3h0M936 213.2h0M935.7 237.1h0M937.3 226.3h0M937.3 196.2h0M937.4 243.2h0M937.8 221.8h0M938.2 220.3h0M938.7 193.5h0M938.9 217.8h0M939.3 243.1h0M939.7 230.8h0M940.2 186.3h0M940.8 198h0M940.5 244.1h0M942.2 213.3h0M942.8 230.8h0M943.3 236.1h0M943.8 223.6h0M944.2 216h0M944.9 164.9h0M944.8 219.8h0M945.8 233.2h0M945.8 167.9h0M946.7 218.1h0M948.4 233.8h0M947.9 216.7h0M948.9 237.3h0M948.9 246h0M950.2 222.1h0M951.2 236.3h0M950.8 200.6h0M951.4 231.6h0M952.1 202.3h0M951.5 221.5h0M952.1 237.4h0M952.7 231h0M952.9 240.4h0M954.5 230.8h0M953.7 230h0M954.5 216.3h0M955.3 171.9h0M955 232.6h0M955.9 232.4h0M956.1 224.3h0M956.3 174.5h0M956.3 239.2h0M957.3 222h0M957.5 210.8h0M957 230.3h0M956.5 224.5h0M956.9 241.5h0M957.8 205h0M958 184.7h0M958 226.1h0M958.4 238.4h0M958.9 147.6h0M959.1 216.5h0M958.8 199.4h0M959.5 229.5h0M959.2 240.3h0M959.8 216.4h0M959.8 156.3h0M960.5 210.5h0M959.7 237h0M960.9 187.1h0M960.7 210.7h0M961 167.8h0M961.5 176.8h0M962.5 221.3h0M962.2 184.1h0M961.7 235.1h0M963.2 187.9h0M963.1 218.6h0M962.7 232.5h0M964.1 214.8h0M964 224.6h0M963.6 190.4h0M964 230.7h0M965.1 167h0M964.9 219.9h0M965.9 172.1h0M966.5 205.6h0M967.1 225.8h0M967.4 229h0M968.3 217.6h0M968.3 222.4h0M968.4 238.3h0M969.2 157.5h0M969.4 199.1h0M969.4 221.1h0M968.8 238.2h0M970.1 227.4h0M969.7 225.2h0M969.8 216.3h0M971.3 206.8h0M971.4 217h0M971.2 162.6h0M971.4 237.8h0M972.4 192h0M972.2 224.1h0M972.3 205.1h0M971.7 205.7h0M973.3 175.3h0M973.2 218.9h0M972.7 210.1h0M973.5 220.5h0M973 233.4h0M974.2 174.2h0M973.9 146.6h0M973.8 221h0M974.2 177.5h0M973.7 233.2h0M975 204.8h0M974.7 168.6h0M974.9 179.1h0M976.1 217h0M975.9 203.7h0M975.7 195.6h0M975.5 207h0M977.1 159.9h0M977.1 193.3h0M977.3 224h0M977.4 215.8h0M977.9 163.5h0M978.5 185.5h0M977.6 220.6h0M978 208.2h0M978.4 235h0M978.7 222.1h0M978.7 195.3h0M979 203.6h0M979.3 231.3h0M979.5 219.3h0M980.1 172.6h0M980.3 234h0M980.7 178.7h0M981.1 195.5h0M981 209.9h0M981.2 228h0M982.2 197.2h0M982.3 222.8h0M982.6 215.7h0M982.6 215.5h0M982.8 201.5h0M982.9 229.9h0M983.6 178.7h0M983.5 216.5h0M984.2 232.9h0M985.3 233h0M985.6 230.7h0M986.9 198.8h0M987.3 223.1h0M987.9 218h0M989.1 185h0M989.1 202.3h0M989.4 227.6h0M990.4 208.1h0M990.1 224.8h0M990.6 201.5h0M991.2 211.9h0M992.2 186.5h0M991.5 184.9h0M992.1 230.6h0M993.2 220.1h0M992.8 222.4h0M993.6 162.6h0M993.6 175.4h0M994.9 176.2h0M994.9 217.8h0M994.9 198.8h0M994.8 228.1h0M995.9 206.8h0M996.5 215.4h0M996.1 210.4h0M996.8 171.2h0M996.5 220.9h0M997.4 202.4h0M996.9 216.6h0M998 218.9h0M998.4 203.8h0M997.9 227.6h0M999.4 201.9h0M999.1 210.9h0M998.6 175.9h0M999.2 230.8h0M999.6 202h0M999.5 195.5h0M999.7 213.9h0M999.7 227.5h0M1001.3 214.1h0M1000.8 199h0M1001.3 209.2h0M1000.6 218.3h0M1002.1 199.2h0M1001.6 142.9h0M1002.2 216.8h0M1003 206.5h0M1002.9 211.1h0M1003.1 206.3h0M1003.1 224.7h0M1004 156.7h0M1003.6 208.6h0M1004 191.4h0M1003.9 169.9h0M1003.8 211h0M1006.1 153.6h0M1006.5 209.1h0M1006.6 186.3h0M1006.7 141.6h0M1006.7 218.7h0M1007.6 169.5h0M1007.6 175.9h0M1008.2 217.7h0M1009.5 208.5h0M1008.9 197.8h0M1009.2 216.3h0M1010.1 196.7h0M1009.7 188.8h0M1011.5 159h0M1011.3 192.1h0M1011.2 214.3h0M1012.4 147.8h0M1012.3 203.6h0M1011.8 191.1h0M1012.3 212.2h0M1012.7 173.3h0M1013.1 208.7h0M1012.6 220.2h0M1013.7 167.3h0M1013.8 143.8h0M1014.9 203.3h0M1014.9 214.6h0M1015.4 223h0M1016.5 215.1h0M1015.8 205.2h0M1016.2 222.3h0M1016.7 188.3h0M1017.5 202.2h0M1017.4 191.2h0M1017.5 142.9h0M1018.3 167.6h0M1018 169.6h0M1018.8 185.3h0M1018.7 195.5h0M1019.1 167.8h0M1020.4 179.9h0M1020.1 150.6h0M1019.9 204.7h0M1021.2 199.4h0M1021.2 175h0M1022 192.2h0M1021.8 159.9h0M1022.3 216.3h0M1023.4 170.4h0M1022.6 209.8h0M1023.4 220.2h0M1024.3 192.1h0M1024.6 207.6h0M1024.5 191.5h0M1025.5 219.3h0M1026.3 140.8h0M1025.7 180.4h0M1025.9 218.3h0M1026.8 187.2h0M1027.8 205.7h0M1027.6 221.9h0M1029.2 143.4h0M1029.5 180.1h0M1029.8 195.2h0M1030.9 183.3h0M1030.9 187.4h0M1031.2 209.8h0M1031.1 150.8h0M1031.4 215.6h0M1031.5 158.2h0M1032.2 131.3h0M1032.3 204.1h0M1033.1 202.5h0M1032.8 195h0M1034 197.7h0M1034.1 204.3h0M1035 212h0M1035.5 212.1h0M1036.1 187.8h0M1036.2 183.4h0M1037.4 197.8h0M1037.3 210.4h0M1037.1 211.6h0M1036.7 150.5h0M1037.2 219h0M1037.8 176.7h0M1038.5 178.5h0M1038.5 154.3h0M1037.9 215.5h0M1038.7 149.8h0M1039.3 181.1h0M1040 200.6h0M1040.3 205.9h0M1040.4 215.3h0M1040.7 197.5h0M1040.8 207.5h0M1041.1 166.2h0M1041 209.7h0M1042.3 146.5h0M1042.4 203.7h0M1041.7 148.6h0M1042.4 213.2h0M1043.3 156.9h0M1043.3 174.4h0M1043.3 198h0M1044.2 168.9h0M1044.1 140.2h0M1043.8 201.1h0M1044.4 220.6h0M1045.2 203h0M1044.6 170.4h0M1045.6 199.8h0M1046.3 201.2h0M1045.7 210.2h0M1047.4 197.6h0M1046.6 207.4h0M1047.6 171.7h0M1048.2 203.4h0M1047.9 134.2h0M1047.8 222.2h0M1049.2 154.4h0M1049 155.1h0M1048.6 168h0M1048.8 220.2h0M1049.8 205.5h0M1050.4 202h0M1050 175.4h0M1050.4 205h0M1051.4 182.6h0M1050.8 203.5h0M1051 210.8h0M1052.5 193.4h0M1051.9 189.9h0M1052.4 144.4h0M1052.1 222.5h0M1052.8 173.8h0M1052.8 187.7h0M1053.4 219.4h0M1054.5 190.9h0M1054.1 206.4h0M1055.5 195.8h0M1055.3 215.6h0M1055.7 148h0M1056 162.4h0M1055.7 196.3h0M1057.5 213.7h0M1056.9 207.6h0M1057.1 196.4h0M1057.9 178.4h0M1057.6 213.3h0M1058.1 189.1h0M1058.5 194.5h0M1057.9 222.8h0M1059 183.1h0M1058.8 196.4h0M1059 203.3h0M1059.5 195h0M1058.6 224.6h0M1060.3 201.9h0M1060.3 208h0M1060 195.6h0M1059.6 226.3h0M1060.9 172.9h0M1062.1 216.6h0M1061.7 177.4h0M1062 217.6h0M1062.1 218h0M1062.7 196.4h0M1062.7 211.6h0M1063.8 170.3h0M1064.1 155h0M1063.9 178.1h0M1064.5 226.7h0M1065.1 191.9h0M1064.8 218.6h0M1065.3 212.2h0M1064.9 222.4h0M1065.8 172.5h0M1066.2 214.6h0M1066.2 210.8h0M1066.3 207.7h0M1067.5 208h0M1067.4 228.1h0M1067 227.2h0M1067.3 207.3h0M1066.7 212.2h0M1068 168.9h0M1068.3 229.7h0M1068 220.4h0M1067.8 231.3h0M1068.3 182.8h0M1069.2 174.2h0M1069 223.7h0M1069.2 192.7h0M1068.8 224.1h0M1068.8 241.4h0M1069.7 196.8h0M1069.6 175.6h0M1069.6 172.1h0M1069.8 232.2h0M1070.4 242.7h0M1071.2 223.8h0M1071.1 182.9h0M1071.4 225.7h0M1071.8 222.9h0M1071.9 231.7h0M1072.3 241.3h0M1072.4 250.4h0M1072.6 233.4h0M1072.6 222.4h0M1072.8 235.4h0M1074 229.5h0M1074.2 171.9h0M1074.3 238.6h0M1074.8 217.1h0M1075.4 243.4h0M1075.5 136.9h0M1077.3 214.3h0M1077 232.6h0M1076.7 196.4h0M1078.2 245.3h0M1077.8 254.3h0M1078 263.5h0M1078.6 170.4h0M1079.4 203.7h0M1079.3 263.4h0M1079.9 235h0M1080.4 241.9h0M1081.4 214.7h0M1081.3 251.3h0M1081.2 176.2h0M1082.3 252.7h0M1081.8 187.8h0M1081.9 195h0M1081.5 182h0M1083 169.3h0M1082.8 166.7h0M1082.5 215.6h0M1082.6 222h0M1083.2 150.8h0M1083.4 241.5h0M1084.2 254.9h0M1084.1 187.6h0M1084.4 258.7h0M1084.1 227.7h0M1085.4 258.5h0M1084.5 242.6h0M1085.5 252h0M1084.7 185.5h0M1085.2 252.2h0M1085.9 252.8h0M1085.6 264.8h0M1087.5 255h0M1087.2 159.1h0M1087 260.8h0M1088 252.1h0M1087.6 171.6h0M1088.7 243.3h0M1089.1 226.6h0M1089 252.7h0M1089.5 246.6h0M1089.6 265.1h0M1091.4 257.3h0M1091.4 223.7h0M1091.2 195.1h0M1091.7 189.2h0M1092.1 215.6h0M1091.7 179.2h0M1092.3 254.5h0M1092.7 251.6h0M1093.2 252.3h0M1093.1 186h0M1093 178.5h0M1093.1 248.4h0M1094 211.2h0M1094.1 183.8h0M1093.9 250.5h0M1093.9 229.1h0M1093.9 262.6h0M1095.5 233.1h0M1094.5 252.3h0M1094.9 190.9h0M1094.9 258.9h0M1096.4 255.9h0M1096 239.4h0M1096.4 264.3h0M1096.8 242.2h0M1097.3 195.2h0M1096.9 223.9h0M1097.4 253h0M1098.1 250.2h0M1098.6 248.9h0M1098.6 190.1h0M1099.2 172.8h0M1099.4 249.3h0M1100.1 252.1h0M1099.7 229.6h0M1100.8 244.7h0M1100.8 214.6h0M1101.3 228.4h0M1101.2 247.7h0M1101.5 245.6h0M1101.6 211h0M1102.1 231.5h0M1101.8 206.7h0M1101.6 256.6h0M1101.8 265.1h0M1102.8 222h0M1103.7 181.7h0M1103.9 243.9h0M1103.6 265.9h0M1104.9 239.3h0M1104.9 187.2h0M1105.3 264.4h0M1106.4 232.1h0M1106.5 245.7h0M1105.9 260.4h0M1107.4 253.5h0M1107.2 238.1h0M1107 229.3h0M1106.8 267.5h0M1107.5 220.9h0M1108.8 256.1h0M1109.1 255.6h0M1109.8 244.6h0M1109.8 242.4h0M1111.4 199.1h0M1111.7 254.5h0M1112 242.3h0M1112.7 229h0M1114.5 252.5h0M1114.3 240.8h0M1113.9 255.3h0M1114.6 237.4h0M1115.5 250.2h0M1115.8 200.3h0M1115.6 238.2h0M1116.8 209h0M1116.9 242.4h0M1116.7 238.9h0M1117.7 219.1h0M1117.6 158.5h0M1117.7 242.5h0M1118 218.8h0M1118.4 249.9h0M1119.3 249.6h0M1118.8 250.7h0M1119.1 244.6h0M1118.6 183.5h0M1119.4 235.9h0M1120.3 200.2h0M1119.7 228.5h0M1119.8 203.9h0M1119.7 245.6h0M1119.9 259.1h0M1120.9 216.6h0M1120.6 180.5h0M1121.4 234.6h0M1121.4 163.1h0M1122.1 183.6h0M1121.8 247.4h0M1122.4 248.4h0M1121.9 235.6h0M1122.2 260.3h0M1123.4 182.2h0M1122.6 236.4h0M1123.2 189.2h0M1122.8 232.7h0M1123 249h0M1123.8 235.4h0M1124.2 221.7h0M1123.9 157.8h0M1123.9 200.9h0M1124.3 165.3h0M1123.8 258.9h0M1124.8 182h0M1124.7 250.5h0M1125.3 252.7h0M1125.1 220.7h0M1125.1 258.8h0M1125.6 250.1h0M1126.1 204.5h0M1126.2 180.6h0M1125.7 262.9h0M1127 247.9h0M1126.7 187.9h0M1127.4 221.1h0M1126.9 192.3h0M1126.8 225.6h0M1127.8 202.9h0M1128 194.7h0M1127.9 181.5h0M1128.2 156.7h0M1128.1 228.1h0M1129.4 255.2h0M1129 197h0M1128.6 166.9h0M1129.3 254.8h0M1129.5 205.9h0M1129.6 248.9h0M1129.8 215.4h0M1129.6 258.9h0M1131.1 168.7h0M1130.8 226.8h0M1132.6 249.8h0M1132.6 233.4h0M1133.3 231.6h0M1133.7 241.1h0M1133.6 258.8h0M1135.2 235.4h0M1135.1 213.1h0M1135.2 235.5h0M1136 221.4h0M1135.5 235.9h0M1135.7 253.4h0M1137.4 149.6h0M1137.8 241.7h0M1138.5 186.2h0M1137.9 259h0M1138.6 206.9h0M1138.8 160.4h0M1139.7 234.4h0M1140.3 208.1h0M1140.2 255.2h0M1140.9 248.1h0M1141.5 239.5h0M1142.1 238.8h0M1142.4 256.6h0M1142.8 145.4h0M1142.5 165.2h0M1143.4 227.3h0M1143.1 260.4h0M1144.2 190.7h0M1144.4 251.3h0M1144.2 252.7h0M1143.6 233.7h0M1144.3 222h0M1145.5 171.6h0M1144.8 216.3h0M1145.5 217.9h0M1145.9 156.5h0M1146.3 213.5h0M1145.5 252.9h0M1146.6 211.7h0M1146.9 266.2h0M1147.5 228.7h0M1147.6 259.9h0M1149.4 166.2h0M1148.7 138.3h0M1149.1 259.1h0M1149.9 259.3h0M1150.1 244.8h0M1149.6 246.9h0M1150.9 245.3h0M1150.8 237.2h0M1150.7 222.6h0M1151.2 230.2h0M1150.7 256.8h0M1152 202.2h0M1152.2 253h0M1151.9 195.1h0M1152.1 251.5h0M1152 177h0M1152.1 259.3h0M1153 246.9h0M1153.4 212.5h0M1152.8 211.6h0M1153.1 244.3h0M1152.7 180.8h0M1154.4 229.5h0M1154.2 225.1h0M1153.7 141.3h0M1154.5 233.8h0M1153.8 254.5h0M1154.1 256.9h0M1154.5 194.1h0M1154.5 253.7h0M1154.5 225.3h0M1155.1 214.9h0M1154.9 252.4h0M1156.1 232.1h0M1155.8 212.8h0M1155.5 170.9h0M1155.8 241h0M1156 135.2h0M1156.1 262.9h0M1157.3 250.4h0M1157 228.9h0M1156.9 225.9h0M1158.2 181.7h0M1158.3 264.2h0M1158.8 200.5h0M1159.4 238.6h0M1158.5 213.7h0M1158.6 260.9h0M1159.5 162.4h0M1159.6 225.6h0M1161.3 169.8h0M1160.5 247.9h0M1161.3 249.6h0M1161 158.3h0M1160.6 249.3h0M1162.5 254.3h0M1162.3 225.4h0M1162.1 166.8h0M1162.4 173.7h0M1161.7 252.7h0M1163.5 231.5h0M1162.9 250.6h0M1163.5 246.6h0M1163.2 217.1h0M1163.3 214.5h0M1163.2 258.2h0M1163.8 137.2h0M1164.2 153.2h0M1163.9 208.2h0M1163.6 260.9h0M1164.5 246h0M1165.2 186.5h0M1164.7 202.5h0M1165.3 185.5h0M1165.9 209h0M1165.6 236.1h0M1166.1 148h0M1166 258.3h0M1167 233.3h0M1167.4 218h0M1167.1 207.4h0M1167.5 228.1h0M1167.6 171h0M1168.2 257.7h0M1169 249.9h0M1168.8 250.6h0M1168.7 226.5h0M1168.8 250.8h0M1168.9 256.2h0M1169.5 231.6h0M1170.2 159.5h0M1169.5 217h0M1170.4 238h0M1170.3 257.8h0M1171 245.3h0M1170.6 210.2h0M1171.1 232.5h0M1171.1 195.3h0M1171.5 248.8h0M1172.4 160.6h0M1172.3 248.4h0M1171.7 257.4h0M1173.3 166.6h0M1173.4 228.7h0M1173.1 237.7h0M1173.6 229.2h0M1173.7 173.1h0M1173.8 246h0M1175.4 216.4h0M1174.7 183.6h0M1174.7 215.4h0M1174.6 260.8h0M1176.2 144.9h0M1175.7 249.8h0M1176 209.3h0M1175.6 253.1h0M1175.6 256h0M1177.1 241.1h0M1176.8 217h0M1178 227.8h0M1178.5 163.4h0M1178 181.7h0M1179.9 214.4h0M1180.3 243.2h0M1180 255.7h0M1181.2 196h0M1182.2 242.1h0M1181.9 245.4h0M1183 256.3h0M1182.6 263h0M1183.7 254.4h0M1183.8 229.6h0M1183.9 260.7h0M1185.1 257.4h0M1184.9 242.5h0M1185.2 239.9h0M1184.5 255.2h0M1185.9 247.8h0M1185.9 234.5h0M1187.5 218.7h0M1187.1 210.7h0M1186.8 176h0M1187 245h0M1188.2 256.3h0M1188.1 237.6h0M1187.9 250h0M1188.8 248.2h0M1188.6 240.3h0M1189.6 186.9h0M1190.3 235.6h0M1190.3 202.6h0M1189.9 252.9h0M1191.4 231.2h0M1190.8 230.7h0M1190.5 263.9h0M1192.1 165h0M1191.7 169h0M1192 230.8h0M1192.4 267h0M1193.1 228.6h0M1193.5 170.1h0M1192.6 219.7h0M1193.6 249.2h0M1194.1 228.7h0M1193.6 265.5h0M1194.8 226.6h0M1195.4 179.1h0M1195.9 239.9h0M1196.2 249h0M1196.5 265.8h0M1196.6 235.3h0M1197.3 266h0M1198.5 248.3h0M1198.1 263h0M1197.9 261.8h0M1199.4 252.2h0M1198.5 251.9h0M1198.9 271.4h0M1200.2 243.9h0M1200 262.7h0M1200.1 271.6h0M1201.3 246.3h0M1200.6 210h0M1200.6 259.5h0M1201.5 265.7h0M1201.6 172h0M1202.3 192h0M1202.5 235.3h0M1201.6 222.6h0M1202.1 272.2h0M1202.5 174.6h0M1203.5 265.1h0M1202.8 251.4h0M1202.6 171.6h0M1203.4 192.1h0M1202.5 267h0M1204.3 221.5h0M1203.6 232h0M1204.2 254.2h0M1203.6 262.1h0M1204.3 252.5h0M1204.5 270.8h0M1205.1 253.6h0M1204.9 176h0M1205.1 239.7h0M1205.8 225.9h0M1206.2 236.7h0M1206 265.7h0M1206.1 249.1h0M1206.8 220.6h0M1207 253.2h0M1207.3 273.2h0M1207.8 246.8h0M1208.4 182.7h0M1209.1 264.2h0M1209.4 266.5h0M1210.2 240.8h0M1209.9 259.9h0M1210.6 227.3h0M1210.8 256.9h0M1211.1 266.9h0M1212.4 231h0M1212 239.2h0M1212 253.3h0M1212.9 268.9h0M1213.1 258.8h0M1213 235.8h0M1213.5 265.1h0M1214.1 213h0M1215 268h0M1215.1 185.4h0M1215.4 276.8h0M1216.2 261.7h0M1216.1 176.5h0M1217.3 241.3h0M1216.6 250.9h0M1217.2 176.6h0M1216.6 270h0M1217.1 256.9h0M1218.1 265.5h0M1217.8 261.4h0M1218 263.2h0M1218.2 268.5h0M1218.6 202.8h0M1219 176.2h0M1219.2 278.5h0M1220.4 240.5h0M1219.8 245.6h0M1220.2 224h0M1219.9 287.4h0M1220.7 267.8h0M1221.2 246h0M1220.8 278.1h0M1221.8 200.6h0M1222 277.1h0M1223.2 279.5h0M1223 227.8h0M1223 220.9h0M1222.6 281.9h0M1224.1 173.5h0M1224.2 241.6h0M1223.9 243.7h0M1223.5 236.6h0M1224.5 290.2h0M1224.7 221h0M1224.8 170.3h0M1225.2 187.7h0M1225.2 228.7h0M1225 278.1h0M1225.8 174.6h0M1225.9 251.6h0M1226.4 278.1h0M1226 214.4h0M1226.4 236.3h0M1226.2 287.8h0M1226.8 241.7h0M1227.2 267.9h0M1227.4 258h0M1227 263.6h0M1226.6 287.9h0M1227.9 195.4h0M1228.4 263.5h0M1228.3 280h0M1228.9 218.9h0M1229.1 249h0M1229.4 237h0M1230.3 283.1h0M1230.2 217.9h0M1230.4 291.1h0M1231.5 243.4h0M1231.1 270.1h0M1231.1 279.8h0M1232.5 193.7h0M1232.3 173.2h0M1233.3 233.7h0M1233.1 179.9h0M1233.8 257.6h0M1234.3 159.7h0M1234.5 262h0M1233.8 291.4h0M1234.9 255.5h0M1235.9 220.4h0M1236.5 244.4h0M1236 286.2h0M1237 273.2h0M1236.9 181.7h0M1236.6 272.1h0M1238.1 280.1h0M1237.9 288.9h0M1238.9 246.7h0M1239 250.3h0M1238.7 269.4h0M1239.9 232.3h0M1239.5 201.8h0M1239.9 211.2h0M1240.8 246.6h0M1240.8 234.2h0M1240.9 212.4h0M1242.1 243.7h0M1242.2 202.1h0M1241.6 246.8h0M1241.6 274.7h0M1242.2 288.8h0M1242.7 265.2h0M1242.6 269.3h0M1243.1 209.6h0M1243.2 278.4h0M1244.2 222.7h0M1243.6 245.1h0M1244.4 253.2h0M1243.6 282.7h0M1244.9 155.6h0M1245 252.4h0M1244.7 263.4h0M1245 281.6h0M1246.4 150.7h0M1247.5 273.7h0M1247.1 150.8h0M1246.9 221h0M1247 289.5h0M1248.4 274.7h0M1248.4 228.8h0M1248.1 260.9h0M1247.7 278.5h0M1248.8 232.4h0M1249 278.1h0M1248.7 279.4h0M1250.3 261h0M1250.1 267.3h0M1249.6 281.7h0M1251 276.7h0M1250.9 286.5h0M1252.4 281.8h0M1251.8 231.2h0M1251.7 264h0M1253.1 228.5h0M1252.5 271.3h0M1252.7 203.7h0M1252.5 292.8h0M1254.1 221h0M1254 219.9h0M1254 271.2h0M1255.3 283.2h0M1254.7 246.8h0M1254.6 254.4h0M1255.7 213.8h0M1256.1 216.2h0M1256.5 211.8h0M1255.9 286.1h0M1257.3 183.1h0M1256.8 232.2h0M1258.3 262.7h0M1259 192.7h0M1259.2 284.2h0M1259.5 167.7h0M1260 287h0M1259.6 282.8h0M1260.6 273.5h0M1261.2 207.5h0M1261.1 289.8h0M1262 248.1h0M1261.9 253.2h0M1263.4 222.2h0M1263 207.8h0M1262.6 264.3h0M1263.4 291.5h0M1264.2 278h0M1264 196.8h0M1265 267h0M1264.9 217.4h0M1265.4 269.7h0M1264.7 294h0M1265.9 222.4h0M1266 230.1h0M1266.5 289.5h0M1266 271.4h0M1266.7 286.9h0M1267.4 281.5h0M1266.5 250.6h0M1267 273.2h0M1266.8 280.1h0M1268.1 276.5h0M1268 284.5h0M1267.6 234.2h0M1267.8 247.7h0M1268.7 240.9h0M1269.2 280.3h0M1268.6 201.6h0M1269 297h0M1270.2 247.9h0M1269.8 214.3h0M1269.9 240.2h0M1270.2 294.5h0M1270.7 195.4h0M1271.3 272.2h0M1271.5 267.9h0M1270.7 278.4h0M1271.7 217h0M1271.5 219.1h0M1271.9 285.6h0M1271.8 296.1h0M1273.5 257.5h0M1272.7 196.2h0M1273.7 254.6h0M1273.7 273.3h0M1274.1 282.1h0M1274.3 273.1h0M1275.3 289.1h0M1275.1 257.4h0M1275.2 279.8h0M1275.1 292.8h0M1276.3 276h0M1276.1 293.3h0M1276.2 254.1h0M1276 273.9h0M1275.6 292.5h0M1277.1 279.4h0M1276.7 279.4h0M1277.4 281.3h0M1277.2 287.7h0M1277.5 254.6h0M1277.6 245.2h0M1278.2 298.2h0M1278.6 247.1h0M1280.2 275.3h0M1281.3 291.5h0M1281.3 278.1h0M1282.5 197h0M1283.2 218.7h0M1283 267.1h0M1282.7 255.4h0M1283.3 292.4h0M1284 231.3h0M1284.2 249.4h0M1283.9 297.8h0M1283.6 301.8h0M1284.5 202.8h0M1285.3 210.3h0M1284.8 186.9h0M1285 273.3h0M1284.6 299h0M1285.6 283.4h0M1285.7 207.1h0M1285.7 239.3h0M1285.8 233.6h0M1286.3 307.3h0M1287.2 255.9h0M1286.6 279.3h0M1287.2 280.4h0M1286.6 258.1h0M1286.5 304.1h0M1287.6 271.9h0M1287.6 192.8h0M1288.3 233h0M1288 282.7h0M1289.5 279h0M1289.5 287.9h0M1288.9 284.6h0M1289.4 302.8h0M1290.5 293.6h0M1290 243.2h0M1289.6 214.6h0M1290.3 260.5h0M1291 300.8h0M1291.1 289.3h0M1291 280.4h0M1291.1 268h0M1291.7 289.8h0M1292.3 299.1h0M1291.9 298.4h0M1292.6 288.8h0M1293 292.2h0M1293 311.4h0M1293.6 298.6h0M1293.6 287.9h0M1293.6 300.3h0M1294.4 232.9h0M1294.3 302.8h0M1295.3 290.4h0M1294.5 302.6h0M1295.4 295.1h0M1296.1 302h0M1296.2 299.4h0M1295.7 256.8h0M1295.7 277.7h0M1297.1 255h0M1297.4 303.7h0M1297 240.2h0M1298 245.6h0M1298 292.4h0M1298 314.4h0M1298.7 252.4h0M1299.1 276.2h0M1300.2 276.6h0M1300 217.1h0M1300.2 242.2h0M1299.8 312.3h0M1300.8 278.5h0M1300.9 251.7h0M1302.1 299.3h0M1302.4 287.3h0M1303.3 300.2h0M1302.9 284.9h0M1303.2 281.5h0M1303.9 298.8h0M1303.7 306.1h0M1303.7 290h0M1304.2 313.4h0M1305.2 295.4h0M1304.5 291h0M1305.3 235.8h0M1304.8 224.8h0M1304.6 306.1h0M1306 264.7h0M1305.8 304.3h0M1306.5 284.8h0M1305.6 308.1h0M1307.3 250.5h0M1306.7 250.2h0M1306.5 295.3h0M1306.7 314h0M1307.8 241h0M1307.9 313.9h0M1309.3 302.8h0M1309.3 272.9h0M1308.6 315.1h0M1310.3 275.6h0M1309.7 313.5h0M1310.7 251.1h0M1311.8 278.1h0M1312.2 238.4h0M1313.1 306.8h0M1312.5 249.6h0M1314 286.2h0M1314.4 255.1h0M1314 255.3h0M1315 308h0M1314.8 281.4h0M1314.7 283.1h0M1315.2 289.9h0M1315.6 208h0M1316.2 270.5h0M1315.9 227.1h0M1316.5 300.1h0M1316.2 258.8h0M1315.6 286.9h0M1316.4 314.5h0M1317.1 231.3h0M1316.6 232h0M1317.1 261.7h0M1317.2 317.9h0M1317.8 247.5h0M1318.3 272.4h0M1318.4 251.8h0M1318.3 305.6h0M1318 312.1h0M1319.2 279.2h0M1318.6 191.5h0M1319.3 269.1h0M1319.4 304h0M1319.6 297.2h0M1319.9 296.3h0M1320.4 236.9h0M1320.5 261.8h0M1319.5 311.9h0M1320.6 309.9h0M1320.6 208.7h0M1321 289.3h0M1320.5 265.1h0M1321.2 304.1h0M1321 318.7h0M1321.7 308.3h0M1322.1 306.4h0M1321.6 216h0M1321.9 262.2h0M1322.8 251.3h0M1323 274.2h0M1323.1 280.5h0M1322.9 305.3h0M1323 278.4h0M1323.3 220.6h0M1322.9 225h0M1323.5 247.9h0M1323.7 297.2h0M1324.2 282.7h0M1324.4 310h0M1324.5 305h0M1324.3 248.3h0M1323.5 305.8h0M1325.3 240.9h0M1324.6 300.5h0M1325.1 261.4h0M1324.7 232.9h0M1325.5 254.7h0M1325.3 291.7h0M1324.9 236h0M1324.6 315h0M1325.7 288.8h0M1326.4 280.4h0M1326.4 254.4h0M1325.9 225.8h0M1326.1 292.1h0M1325.5 307h0M1326.9 282.3h0M1327.5 256.5h0M1327.5 280.3h0M1327.1 258.9h0M1327 308.5h0M1328.2 241.4h0M1327.6 254.4h0M1327.6 267.4h0M1328.5 297.1h0M1327.6 277.1h0M1328.1 318.9h0M1329.1 293.5h0M1329.2 310.4h0M1329 247.7h0M1328.5 271.5h0M1329 279.7h0M1328.8 283.5h0M1330.3 187.7h0M1330 261h0M1329.6 173.5h0M1329.5 292.4h0M1330 261.1h0M1331 286.5h0M1331.3 306.1h0M1330.7 276.3h0M1332 301.3h0M1331.8 304.4h0M1331.8 236.9h0M1331.8 317.6h0M1333.2 306.6h0M1333.5 208.4h0M1332.6 233.9h0M1332.6 318h0M1334.1 249.2h0M1333.8 305.3h0M1334.4 308.7h0M1334 245.6h0M1334.8 301.2h0M1335.1 302.1h0M1335 269.6h0M1336.2 294.6h0M1336 309.9h0M1335.9 310.7h0M1337.5 260.8h0M1337.1 272.1h0M1337.6 293.5h0M1338.4 309.6h0M1339.2 269.7h0M1338.7 271h0M1339.2 309.1h0M1339.1 320h0M1340.4 299.1h0M1340.2 268.7h0M1340.9 285.8h0M1341.3 293h0M1340.8 214.3h0M1342.2 313.1h0M1341.8 245.1h0M1343.3 296.1h0M1342.6 229.3h0M1343.9 299.3h0M1344 279.8h0M1344.1 321.4h0M1344.9 260.3h0M1344.5 226.1h0M1345.1 321.5h0M1346 301.9h0M1345.5 313.2h0M1347 266.1h0M1347.3 279.1h0M1347.4 268h0M1348.3 307.6h0M1348.4 296.1h0M1348.9 251.7h0M1348.6 310.1h0M1350.2 276.5h0M1350.1 294.6h0M1351.4 263.6h0M1351 292.7h0M1350.8 307.6h0M1352.2 291.1h0M1352.5 305.1h0M1351.9 311h0M1353.1 291.6h0M1353.5 308h0M1353 275h0M1352.8 318h0M1354 303.9h0M1354.1 298.7h0M1355.1 254.6h0M1355.2 308h0M1355.4 309.6h0M1355.7 234.1h0M1355.5 268.6h0M1357 286.6h0M1357.2 317.2h0M1357.8 308.4h0M1359.1 296.5h0M1359.4 291.9h0M1359.7 299.9h0M1359.8 287h0M1360.5 306.6h0M1360.6 314.8h0M1362.2 292.5h0M1362.6 272h0M1363.4 275.1h0M1364.4 302h0M1364.3 267.1h0M1363.5 309.5h0M1364.8 255h0M1365.2 307.7h0M1365.8 292.7h0M1366.5 253.5h0M1365.7 292.8h0M1366.8 288.8h0M1367.5 266.8h0M1366.9 301.5h0M1368.5 258.1h0M1368.2 264.5h0M1368.5 311h0M1369.5 294.3h0M1370.9 306h0M1372 278h0M1372.3 304h0M1373.3 286.4h0M1373 289.9h0M1373.2 305.1h0M1373.9 271.7h0M1373.9 280.5h0M1374.9 273.2h0M1375.1 310.4h0M1376.4 289.9h0M1376.4 305h0M1376.2 272h0M1376.9 278.7h0M1377.4 300.9h0M1378 301.8h0M1378 311.2h0M1379.5 288.3h0M1379.9 279h0M1380.8 281.1h0M1382 277.5h0M1382.5 300.5h0M1384.3 286.6h0M1385.2 297.4h0M1385.9 296.4h0M1386.3 311.7h0M1387.1 275.5h0M1388.4 277.7h0M1388 297.8h0M1388.4 313.8h0M1389.1 295.5h0M1388.5 303.7h0M1388.7 310h0M1389.8 299.8h0M1389.9 279.4h0M1390.5 298.2h0M1391.1 268.2h0M1392.4 291.1h0M1392.5 308.4h0M1394.1 308.8h0M1394.3 311.1h0M1394.8 266.6h0M1394.5 302.6h0M1395 315.1h0M1395.8 305.1h0M1395.9 310.3h0M1396.5 305.8h0M1397.2 289.3h0M1397.2 317.3h0M1397.7 281.9h0M1397.6 297.3h0M1398.4 314.8h0M1399.1 276.4h0M1400 284.2h0M1400.3 297.9h0M1400.2 314.6h0M1400.9 300.1h0M1400.9 316.8h0M1402 305.6h0M1402.3 312.6h0M1402.7 294.6h0M1403.2 285.6h0M1402.8 317h0M1404.3 260.9h0M1403.7 314.8h0M1404.7 315.7h0M1406 303h0M1406 311.4h0M1407.2 281.5h0M1407.1 318.4h0M1408.6 303h0M1408.6 311.7h0M1410 286.3h0M1412.1 297.2h0M1412.2 312.5h0M1413 310h0M1412.5 319.1h0M1413.7 303.4h0M1415.2 285.7h0M1415.8 318.2h0M1415.7 320.6h0M1416.7 316.9h0M1417 324.2h0M1417.8 303.1h0M1417.7 328.8h0M1419 317.3h0M1419.4 320.4h0M1420.5 320.3h0M1420.3 322.7h0M1421.4 321.5h0M1421.9 279.6h0M1421.9 317.6h0M1422.7 322.5h0M1423.4 319.8h0M1422.9 314.9h0M1423.6 311.1h0M1423.8 313.6h0M1424.5 317.3h0M1426.1 291.8h0M1426.3 317.4h0M1426.1 303.7h0M1427.2 324.6h0M1428.2 324.8h0M1428.6 323.7h0M1428.6 310.3h0M1429.9 300.9h0M1430.1 330.2h0M1431.2 334.3h0M1432.3 308.1h0M1432.6 297.1h0M1434.1 334.4h0M1435 331.4h0M1436.2 320.9h0M1438.7 329h0M1439.8 314.1h0M1440.3 322.5h0M1441 321.2h0M1442.6 330.3h0M1444.2 308.6h0M1444.5 321.9h0M1446.4 303h0M1447.2 322.4h0M1447 336.2h0M1447.6 319.4h0M1447.7 309.5h0M1449.1 313.8h0M1449 329.8h0M1450.3 331.7h0M1450.8 323.8h0M1452 318.2h0M1451.6 335.5h0M1453 332.7h0M1454.3 325.5h0M1454.6 321h0M1455.3 329.1h0M1456.5 300.6h0M1455.6 333.6h0M1457.4 323.6h0M1457.5 333.1h0M1458.1 314.8h0M1457.9 330.2h0M1459.2 305.8h0M1459.4 328.3h0M1460.1 319.1h0M1461 310.2h0M1461.3 315.1h0M1460.8 325.5h0M1461.9 309.4h0M1462.2 321.3h0M116.4 378h0M116.3 370.1h0M120.1 371.8h0M120.6 366h0M121.5 374.2h0M123.3 378.5h0M123.8 379.4h0M124.3 372.1h0M124.9 387.6h0M126.5 396h0M128 388.3h0M129.9 374.6h0M131.4 379.7h0M132.4 379.7h0M131.9 383.3h0M132.9 380.3h0M133.8 378.7h0M134.9 370.8h0M136 366.7h0M137.2 371.5h0M138.1 369.1h0M138.1 362h0M139.4 371.3h0M138.6 378.6h0M139.9 378.2h0M140.7 369.5h0M142.8 389.5h0M144.2 387.5h0M145.3 402.3h0M144.8 397.7h0M145.7 408.3h0M146.2 407.2h0M146.6 417.4h0M148 429.7h0M147.7 414.4h0M149.4 429.6h0M150 422.5h0M150.6 440h0M152 431.8h0M152.2 422.3h0M153.8 426.6h0M154.4 421.8h0M155.1 426.8h0M154.9 416.8h0M157.3 411.7h0M158.1 417.6h0M158.2 413.9h0M159.4 415.8h0M158.8 409.9h0M159.8 413.1h0M160.9 404.1h0M161.7 405.1h0M163.4 404.5h0M164.4 399.1h0M167.1 410.6h0M168 408.9h0M172 409.5h0M172.3 413.5h0M173.3 409.8h0M172.8 401.7h0M174.1 408.7h0M174.5 406.9h0M175.5 403.8h0M176.4 392.4h0M177 396.7h0M178.1 394.5h0M178.6 385h0M178.5 376.6h0M180.2 379.5h0M181.1 372.4h0M181.9 373.9h0M183 368.3h0M184.3 369.7h0M185.3 362.8h0M185.2 356.7h0M185.5 357.6h0M187 356.2h0M188.9 343h0M192.2 343.8h0M191.8 347.9h0M192.6 337.4h0M193.7 335.9h0M196.1 326.8h0M196 327.3h0M198 334.9h0M198.2 317h0M199 329.4h0M199.6 326.2h0M202 326.4h0M202.8 335.5h0M204.3 329.4h0M203.8 328.4h0M204.7 332.1h0M206.9 330.5h0M209.6 332.6h0M209.8 331.3h0M211.4 333.2h0M211.7 330.9h0M213.4 331.3h0M213.5 324h0M214.1 333.4h0M213.9 327.8h0M216.9 324.6h0M218 333.8h0M220.2 332.3h0M220 337.7h0M221.9 337.3h0M223.5 345.3h0M224 348.8h0M225.6 348.7h0M227.3 345h0M226.8 344.1h0M227.5 351.7h0M228.8 344h0M229.7 334.9h0M231.3 346h0M231.6 348.7h0M233.2 345.5h0M235.1 354.7h0M235.3 347.2h0M236.5 350.4h0M237.7 354.1h0M239.2 354.9h0M238.9 352h0M240 355.6h0M240.4 345.9h0M241.4 356.4h0M240.6 351.8h0M242.3 367.1h0M242.6 343.1h0M244.7 347h0M246.3 335.1h0M246.3 337.5h0M246.7 334.4h0M246.9 331.2h0M247.8 332.2h0M247.9 331.5h0M248.7 340.3h0M249.1 321.3h0M250.4 329.9h0M250.6 333.7h0M251.8 357.8h0M253.3 349.7h0M253.5 364.9h0M254.8 373.9h0M256.4 391h0M256.1 374.8h0M257.2 392.5h0M258.2 403.5h0M258.7 417h0M260 411.7h0M260.9 412h0M261.1 408.8h0M262.1 422h0M263.4 417.7h0M263.3 410.8h0M264 401.2h0M265.9 381.4h0M266.7 392.1h0M266.7 384.3h0M269.3 375.7h0M270.1 366.3h0M272 355h0M271.9 350.2h0M273.2 351.3h0M273.7 338.5h0M274.9 345.7h0M274.8 337h0M275.5 339.6h0M276.4 337.3h0M276.9 332.3h0M277.6 338.3h0M280.5 330.4h0M281.4 336.1h0M281.3 322.9h0M281.7 324.1h0M282.8 340.7h0M284.6 329.5h0M287.4 326.3h0M288.7 333.5h0M289.1 326.3h0M289.9 333.9h0M291.1 326.3h0M290.5 323.9h0M293.3 325.2h0M295 324.4h0M294.7 325.2h0M296 324.3h0M296.9 320.8h0M298.1 323.5h0M299.5 323.8h0M300.2 319h0M300.9 320.5h0M301.6 308.7h0M302.8 304.8h0M302.9 306.5h0M303.9 307.1h0M305 303.4h0M304.7 298.3h0M304.8 283.7h0M306.1 308h0M306.3 301h0M306.1 309.1h0M306.2 302.1h0M306.8 320.4h0M306.9 330.1h0M306.5 311.3h0M308.4 319.9h0M307.9 315.9h0M308.2 324.5h0M308.6 324.8h0M308.8 310.4h0M310.4 315.2h0M310.6 332.3h0M311.1 317.4h0M312.3 337.6h0M311.9 320.3h0M313.2 350.3h0M313.1 322.8h0M314.1 342.6h0M315.2 343.3h0M315.5 347.3h0M315.5 328.7h0M315.8 347.1h0M315.9 336.8h0M315.8 329.5h0M316.6 348.8h0M317.2 352.6h0M316.7 338.1h0M317.2 331h0M318.1 350.4h0M317.6 336.3h0M318.4 347.4h0M318.6 341.5h0M319.3 354h0M318.6 344.9h0M319.3 337.1h0M319.9 374.9h0M319.7 338.6h0M320.9 349.9h0M320.5 355.2h0M321.5 355.4h0M323.4 377.5h0M323.8 363.2h0M324.6 368.8h0M325.2 398.4h0M325.4 361.1h0M325.7 383.4h0M326.4 393.8h0M325.8 363.7h0M328.4 388.9h0M328.4 380.2h0M329.2 376.5h0M328.8 372h0M329.4 361.8h0M330 393.9h0M331 370.8h0M330.7 363.3h0M331.2 356.1h0M332.4 361.6h0M332.4 382.6h0M333.3 364.6h0M332.7 381h0M333.7 350.6h0M334.2 373.1h0M334.8 360h0M335.3 348.9h0M336.3 369h0M337 353.5h0M337.6 363h0M338.8 361.7h0M338.8 347.5h0M340.2 344.5h0M340.1 341.9h0M341.5 353.6h0M342.1 354.8h0M342.3 334.4h0M344.2 354.2h0M344.9 372h0M345.3 341.1h0M345.6 358h0M346.4 361.1h0M346.3 351.1h0M346.7 363.8h0M347.1 367.5h0M348.4 355h0M347.8 364.1h0M347.7 365.2h0M348 354.7h0M349 350.7h0M349.3 351.1h0M348.9 361.9h0M348.7 354.8h0M348.8 346.8h0M350 354.6h0M349.9 354.6h0M350.7 357h0M351 351.2h0M350.6 365.7h0M351.8 365.9h0M352.3 368.9h0M351.9 359.2h0M352.1 344.1h0M353.5 355h0M353.2 349.9h0M354.2 362.1h0M353.9 365.5h0M353.6 368.3h0M355 356.5h0M355 373.8h0M356.5 361.6h0M355.5 356.4h0M356.9 359.5h0M357.3 345.3h0M358.1 355.9h0M359 373.5h0M359.6 357.9h0M360.7 373.8h0M360.6 374.8h0M361 360.4h0M362.9 374.4h0M362.8 364.3h0M362.8 348.4h0M363.9 383.2h0M364.3 362.2h0M366.1 367.2h0M365.9 337.9h0M367.3 358.7h0M368.3 329.4h0M367.9 326.3h0M369.3 343.4h0M368.7 330.7h0M369 351.2h0M369.4 321h0M370 329.1h0M370.3 360h0M369.5 323.1h0M371.1 328.2h0M370.5 323h0M370.7 352.7h0M370.6 313h0M372.2 340.6h0M372 331.7h0M371.6 324.1h0M373.4 332h0M372.7 329.7h0M374.1 343.2h0M374.3 363.5h0M374.9 357.5h0M375 349.8h0M375.8 370.1h0M375.8 362.2h0M376.9 354.7h0M376.6 348.5h0M378.2 358.4h0M378.4 350.5h0M377.9 364.9h0M378.6 367h0M380.2 379.6h0M381 364.7h0M381.3 356.5h0M380.8 353.7h0M382.2 374.6h0M382.6 395.5h0M382.7 368.8h0M383.8 367.2h0M384.9 371.2h0M385.7 382.3h0M385.6 388.4h0M386.7 360.2h0M388.1 385.9h0M388.2 363.5h0M387.6 367.8h0M388.9 359.8h0M388.9 374.4h0M389.5 352.3h0M390 356h0M390.6 364.4h0M390.6 351h0M392.4 350.8h0M393.5 345.7h0M393.4 342.7h0M394 341.7h0M394.1 362.3h0M395.1 337.7h0M396.3 330.7h0M397.3 340.2h0M398.3 330.6h0M397.7 339.4h0M398.3 323.4h0M400.5 335.6h0M399.8 326.4h0M399.8 319.7h0M401.4 325.9h0M400.6 318.1h0M402 334h0M402 321.8h0M403.3 340.5h0M402.6 343.7h0M403.5 333.3h0M403.7 343.5h0M404.4 323.7h0M405.3 351.6h0M406.3 336.6h0M406.6 346.2h0M408.2 332.9h0M409 318.7h0M410.1 338.7h0M411.3 333.9h0M411.2 305.5h0M412.3 341.6h0M412.2 301.6h0M412.8 316.8h0M413.1 304.7h0M414.4 304h0M415.1 317.9h0M415.5 317.9h0M416.2 301.3h0M416.9 303.9h0M417.3 330.9h0M416.7 293.5h0M418.4 303.9h0M417.7 307.9h0M418.4 292.1h0M418.9 309.1h0M418.7 300.7h0M420.4 310.2h0M421.1 323.8h0M422.5 318.5h0M422.4 306.3h0M422.8 338.8h0M423.1 315.5h0M424.2 343.7h0M424.4 311.7h0M425.3 337.3h0M426 325.7h0M426.8 327.8h0M426.7 332h0M427.8 335.8h0M427.8 330.2h0M429.2 338.3h0M429.5 342.1h0M428.5 336.8h0M430.4 359h0M429.6 365h0M431.4 350.6h0M430.8 365.2h0M431.1 348.1h0M430.5 340.8h0M431.8 374h0M432.2 354.1h0M432.6 370.5h0M433.4 384.5h0M433.8 360.4h0M434 353.2h0M435.3 389.1h0M434.5 369h0M436.5 372.8h0M435.5 386h0M437.1 390.1h0M436.7 375.3h0M436.5 401.2h0M437.1 367.3h0M438 406.6h0M438.4 406.5h0M438.3 376h0M439.1 393.7h0M439.2 391.8h0M439.2 382.7h0M439.7 391.1h0M440.3 392.5h0M440.7 416.3h0M440.5 400.1h0M440.8 387h0M441.9 392.5h0M441.7 407.9h0M442.6 389.4h0M443.3 406.3h0M444.3 403.8h0M444.7 391.1h0M444.6 371h0M446.1 377.2h0M447.7 372h0M447.7 358.1h0M447.5 349.1h0M449.4 381.7h0M448.5 349.3h0M450.2 346.1h0M449.8 351.7h0M450.2 331.9h0M450.7 330.7h0M450.8 342.5h0M451 341.3h0M450.9 322.9h0M452 323.5h0M452.1 349h0M452.3 331.5h0M453 324.8h0M453.3 328.7h0M454.4 328.8h0M453.6 324.4h0M453.7 320.6h0M454.1 335.9h0M455 325.2h0M455.4 320h0M455.2 311.9h0M455.9 324h0M457 318.9h0M456.8 320.6h0M457.8 328.1h0M458.3 320h0M458.7 328h0M462.3 318.7h0M461.9 312.3h0M463.4 327.2h0M463.6 315.7h0M464.5 305h0M464.6 320.2h0M465.7 331.2h0M465.6 315.7h0M467.2 323.4h0M467 304.5h0M467.9 320.1h0M467.6 314.1h0M469.1 329.8h0M468.7 323.3h0M469.8 324.3h0M469.9 335.6h0M471.1 320.6h0M470.7 323h0M471.1 314.4h0M471.7 345.8h0M471.9 345.3h0M473.4 328.1h0M473.2 336.2h0M474.5 341.6h0M473.8 331.5h0M474.9 352.2h0M475.4 334.4h0M474.7 322h0M475.9 336.3h0M475.5 337.1h0M475.6 327.7h0M477.4 343.3h0M477.6 331.2h0M478.6 333.4h0M479.6 334.3h0M481.4 340.2h0M480.8 329.4h0M482.3 327.3h0M481.6 329.4h0M482.6 317.8h0M483 324.8h0M483.4 310.6h0M484.5 326.5h0M484.6 310.5h0M485.7 312.8h0M487.5 308.8h0M488.2 304.3h0M487.6 293.9h0M488.9 302.7h0M489.2 303.1h0M488.9 291.2h0M489.6 295.4h0M490.2 294.3h0M490.4 290.7h0M490.9 300.9h0M490.8 305.5h0M490.6 285.3h0M491.6 300h0M491.7 313.6h0M492.2 307.6h0M492.9 326.1h0M492.5 294.1h0M493.6 295h0M494.4 291.2h0M494.3 302.5h0M495.4 295.5h0M495.1 295.8h0M496.5 305.4h0M496.4 336.5h0M495.7 320h0M496.4 285.6h0M497.5 339.4h0M497.5 302.7h0M496.8 290.8h0M498.3 298h0M498.7 314.2h0M500.4 325.5h0M500.4 312.8h0M501.3 335.9h0M501.2 324h0M502.3 336.8h0M503.2 342.8h0M503.8 345.6h0M505.6 367.4h0M508.1 371.3h0M508.8 383.5h0M509.3 375.6h0M510 390.4h0M510.2 379h0M511.6 391.5h0M512.2 384.5h0M512.6 399.3h0M512.8 383.2h0M513.7 398.6h0M514.1 398.9h0M514.8 396.2h0M516.5 403.5h0M517.3 391.4h0M517.2 386.8h0M518.2 394.1h0M519.2 395.5h0M519.2 415.7h0M519.7 388.4h0M521.4 395h0M520.8 394.1h0M521.9 408.8h0M522.6 391.7h0M522.7 396.7h0M524 416.3h0M523.8 398.3h0M524.5 388.7h0M525.3 386.9h0M525.7 390.1h0M526.2 390.4h0M526.5 407.1h0M526.3 389.6h0M527.5 388.7h0M526.6 411.6h0M526.7 386.9h0M527.6 388.4h0M528 396.6h0M528.6 391.5h0M528.7 397.9h0M529.5 390.8h0M529.7 399.2h0M530.5 403.4h0M529.8 386.5h0M531.4 400.3h0M530.7 383.3h0M530.7 393.1h0M530.5 404h0M531.7 382.2h0M532.4 395.1h0M532.2 375.5h0M533.4 367.7h0M533.6 416.3h0M533.6 403.5h0M533.9 362.4h0M535.4 389.7h0M535.1 377.8h0M534.8 360.1h0M536.2 367.2h0M536.2 399.6h0M535.9 374.3h0M536.5 353.8h0M537 368.7h0M536.8 372.9h0M537.4 351.1h0M538 360.2h0M538.5 357.8h0M537.5 347.5h0M538.5 364.2h0M539 351.3h0M538.6 341.1h0M539.6 355.1h0M539.7 369.7h0M540.2 365h0M540 342.7h0M541.3 374.5h0M540.7 371.9h0M541.3 390.3h0M541.4 358.8h0M540.9 346.6h0M541.7 385.3h0M541.5 355.6h0M542.5 334.4h0M541.9 341.3h0M542.4 337.4h0M542.4 356.3h0M541.7 329.5h0M543.1 370.3h0M542.8 358.4h0M542.7 329h0M543.5 366h0M544.1 345.3h0M544.1 360.7h0M544.4 398.9h0M543.8 331.2h0M545.1 325.2h0M545.5 332h0M544.9 359.3h0M546.1 368.8h0M546 319.5h0M545.6 371.4h0M546.6 348.2h0M547.8 354.9h0M547.8 328.7h0M548 316.8h0M548.6 370.1h0M549 332.6h0M548.8 361.7h0M548.9 318.4h0M549.7 375.5h0M550.2 339.6h0M549.5 334h0M551 337.9h0M551.3 334.9h0M551.2 394.5h0M551.3 343.3h0M550.7 327.3h0M551.9 378.1h0M551.8 370.6h0M552 330.2h0M552 330.6h0M552.7 338.7h0M553 354.8h0M553 334.8h0M552.7 324.1h0M553.7 354.8h0M554 341.9h0M553.8 350.7h0M554 330.5h0M553.6 343.1h0M554.1 350.2h0M554.1 330.7h0M555 331.7h0M555.1 360.6h0M554.8 338.6h0M554.9 371.6h0M554.7 354.8h0M555 362.6h0M555.3 330.1h0M556 371h0M556.2 340.9h0M555.8 348.7h0M556.1 334.8h0M556.7 337.5h0M556.6 365.9h0M557.4 404.8h0M556.8 365.4h0M557.3 359.7h0M557.1 331.3h0M558.2 383.7h0M558.4 359.8h0M558.6 347.2h0M558.7 362.2h0M559.7 349.7h0M560.6 370.1h0M561 330.1h0M562.2 351.7h0M562.3 358.8h0M562.5 399.3h0M562.5 347.2h0M563.5 342.8h0M564.2 336.6h0M563.9 391.5h0M564.8 358.6h0M564.6 340.1h0M565 361.9h0M564.6 331.2h0M565.7 372.2h0M565.6 358.9h0M565.7 409.9h0M567.2 343.2h0M567.5 333.8h0M566.5 374.2h0M566.6 336.5h0M567.4 346.7h0M567.5 391.5h0M567.9 360.5h0M568.4 335.2h0M568.5 370.6h0M569 338.5h0M569.1 362.2h0M568.9 355.1h0M568.7 327.5h0M570.3 337h0M570.3 375.6h0M570.3 343.1h0M570.4 351.3h0M570 329.6h0M571.2 346.3h0M571.5 387.7h0M570.9 371.4h0M571.1 357.3h0M572.5 364.6h0M571.9 358.6h0M571.8 338.7h0M571.5 358.9h0M571.6 356.3h0M572.4 344.9h0M573 366.7h0M572.8 340.8h0M572.9 362.9h0M572.6 365.3h0M573.1 368.6h0M573.1 345.6h0M574 368.3h0M574 381.5h0M573.9 376.6h0M574.2 363.7h0M574.1 365.8h0M574.2 333.5h0M574.9 355.9h0M575.1 348.5h0M574.7 403.2h0M575 370.4h0M575.2 369.3h0M574.5 353.7h0M575.1 335h0M576.2 371.5h0M576.3 351h0M576.4 341.6h0M576 358.7h0M576 375h0M576.1 329.6h0M577.5 345.1h0M576.8 361.6h0M576.7 351.6h0M576.6 346.2h0M576.9 380.7h0M577.5 340.3h0M578.1 406h0M577.9 355.9h0M578.1 336.1h0M578.4 345.2h0M578.4 344.6h0M578.3 349.8h0M578.4 379h0M578.7 346.1h0M578.8 339.1h0M579.3 348.8h0M579 335.4h0M578.7 360.5h0M578.7 377.4h0M579.8 412.3h0M579.7 338.2h0M579.6 343h0M580.5 348.5h0M579.9 351.9h0M581.4 337.6h0M580.7 349.2h0M581.2 341.8h0M582 382.3h0M581.8 342.5h0M582.3 327.6h0M583.2 352.8h0M583.5 334.4h0M583.7 341.4h0M584.5 408.7h0M584.3 333.2h0M584.1 325.2h0M585.3 407.6h0M584.6 345.9h0M585.2 361.7h0M585.2 333.7h0M584.9 337.5h0M585 324.7h0M586 384.9h0M585.8 374.4h0M585.9 329.1h0M587.5 409.7h0M587.4 385.9h0M586.6 346.1h0M587 341.5h0M587.2 390.6h0M587.6 345.3h0M587.8 357.8h0M588.4 414.5h0M588.3 362.5h0M588 384h0M588.3 344.1h0M589.3 339.1h0M588.8 364.6h0M589.4 330.8h0M590.1 343.1h0M589.8 360.5h0M590.4 328.9h0M591 362.8h0M590.9 339.1h0M591.5 369.6h0M590.5 336.2h0M592.2 347h0M591.7 375.5h0M591.9 361.4h0M591.6 334.2h0M592.9 368.4h0M592.6 366.3h0M593.2 388.4h0M592.9 344.6h0M592.5 341.1h0M594.3 345h0M594 350h0M594.4 385.5h0M593.7 414.2h0M593.9 386h0M594.4 339h0M595 383.7h0M595 415.9h0M595.4 352.4h0M595.2 346.5h0M594.6 354.5h0M595.4 348.8h0M595.4 348.4h0M594.6 353h0M596.1 367.7h0M596.5 350.1h0M596.3 370.4h0M596.5 351.2h0M597.4 348.5h0M597.5 368.7h0M597.2 415.3h0M598.2 401.4h0M597.6 342.2h0M597.7 342.3h0M598.3 389.8h0M598.7 343.1h0M599.2 331.3h0M599.8 385.2h0M599.8 367.3h0M600 364.7h0M600.3 340.9h0M600.7 338.8h0M601.3 385.5h0M601.4 370.2h0M601 329.2h0M602.3 354.2h0M602.2 351.1h0M601.5 369h0M602.1 343.5h0M603.5 374h0M602.9 340.7h0M603.3 346.9h0M603.2 339h0M603.8 372.7h0M604.1 351h0M603.7 374.3h0M603.6 382.2h0M604.4 348.7h0M605.1 386.3h0M605 367.3h0M605.7 362.9h0M605.9 369h0M606.4 396.1h0M606.6 370h0M607.3 370.1h0M607 380.4h0M607.4 358.1h0M608.2 347h0M607.9 360.9h0M607.8 359.8h0M608 344.8h0M609 386.1h0M608.8 348.3h0M609.2 368.3h0M610.3 354.3h0M609.8 368.3h0M610.1 344.4h0M611.3 393.8h0M610.7 367h0M610.8 343.3h0M611.5 362h0M611.7 338.8h0M612.7 335.3h0M613.1 335.3h0M613.6 378.2h0M615.4 331.4h0M615 342.3h0M615.1 327.6h0M616 398.2h0M616 333.1h0M615.9 336.9h0M616.3 374.9h0M616.5 323.8h0M617.1 336.3h0M616.6 339.1h0M616.6 367.4h0M617.5 328.8h0M617.6 378h0M617.5 330.6h0M618.2 329.1h0M617.5 321.5h0M618.7 341.8h0M618.6 388.5h0M619.6 365.5h0M620.5 335.3h0M620 338.5h0M620.6 355.5h0M621.2 366.6h0M621.6 388h0M622 354.8h0M623.1 343.6h0M622.6 343.4h0M622.6 348h0M623.4 318.5h0M624.4 355.8h0M624.1 378.3h0M624.2 338.3h0M623.7 384.8h0M624.1 322.1h0M624.8 357.9h0M624.7 372h0M624.5 330.4h0M626.1 348.3h0M625.7 333.7h0M625.9 357.2h0M626.4 350.6h0M625.6 327.9h0M626.7 328.3h0M626.9 333.6h0M627.4 332.4h0M626.8 338.8h0M627.3 321.6h0M628.1 359.7h0M628.3 345.7h0M627.7 319.4h0M628.7 328.4h0M629.2 360.4h0M629.2 348h0M628.5 324.6h0M629.8 355.7h0M630.5 359.8h0M629.9 347.8h0M630.4 385.4h0M629.8 326.1h0M630.9 381.6h0M631.4 348.9h0M630.9 330.9h0M631.4 331.8h0M632.5 347.1h0M631.8 342.4h0M632.4 330.8h0M632 381.1h0M632.6 363h0M633.4 361h0M632.9 347.3h0M634.2 333.5h0M634.2 328.9h0M633.7 317.1h0M634.6 364.6h0M635.1 340.3h0M635.5 372.3h0M634.7 386.5h0M635.1 322.9h0M635.7 340.4h0M636.4 361.5h0M636.2 363h0M636.1 333.9h0M637 323.5h0M636.7 381.4h0M637.5 340.5h0M637 344.1h0M637.3 354.5h0M637.4 344.2h0M637.8 355.6h0M638 324.8h0M637.8 324.6h0M638.5 386.2h0M637.7 330.5h0M637.6 319.2h0M639 328.4h0M639.1 333.4h0M639 326.7h0M638.5 386.8h0M638.6 329.9h0M639.2 384.2h0M638.7 330.7h0M640.1 366.8h0M639.5 324.4h0M640.4 329h0M640.1 314.4h0M641.3 374.7h0M641.3 374.1h0M640.5 326h0M642.5 346.2h0M642 375.7h0M642.1 366.1h0M641.5 357.7h0M641.8 335.9h0M643.3 360.1h0M642.6 360.7h0M643.3 329h0M643.8 367h0M643.7 344.4h0M644.1 348.8h0M643.5 344.5h0M645.4 348h0M644.5 345.7h0M646.2 382.1h0M646.2 354.2h0M647.2 346.9h0M646.5 361.7h0M646.6 337.7h0M647.8 353.8h0M648.2 374.5h0M648.5 340.5h0M648.8 336.2h0M649.8 346.7h0M650.3 358.5h0M649.5 376.3h0M650.5 350h0M650.6 386.8h0M651.3 337.6h0M652.3 384.9h0M651.7 335.8h0M652.6 346.4h0M652.6 352h0M653.4 351.3h0M653.4 340.7h0M654 371.6h0M654.4 344.7h0M655.1 362.5h0M655.2 336.6h0M655.5 349h0M655.8 363h0M656.1 350.9h0M657.2 371.2h0M657.5 363.4h0M657.1 359.2h0M656.8 339.6h0M657.6 361.3h0M657.6 371.5h0M658.1 351.9h0M658.3 340.2h0M658.7 356.4h0M659.4 377.2h0M658.9 347.7h0M658.7 346.1h0M660.3 368.1h0M660.8 355.9h0M661.3 358.5h0M662.5 365.5h0M663.5 359.6h0M662.9 349.6h0M663.9 355.3h0M664.2 363.2h0M664.1 344.3h0M664.5 401.6h0M665.3 356.3h0M665.9 369.8h0M665.6 352.9h0M665.7 359.2h0M667.2 373h0M666.8 378.4h0M666.5 363.6h0M667.7 363h0M667.6 370.9h0M667.6 364.1h0M667.8 352.1h0M668.6 404.6h0M668.8 368.4h0M668.8 357.2h0M669.2 369.6h0M669.4 351.1h0M669.7 370.9h0M670.4 393.5h0M670.4 363.3h0M670 368h0M669.7 350.7h0M671.5 399.7h0M671.3 367h0M671.1 366.4h0M671.4 363h0M671.1 375.2h0M672.2 373.5h0M672.1 372.8h0M671.7 365.7h0M672.5 363.2h0M673.1 360.9h0M673.5 373.8h0M673.3 357.5h0M673.5 390.4h0M673.2 354.6h0M674.3 387.3h0M674.3 365.1h0M674.5 378.1h0M674.1 364.6h0M674.3 405.9h0M674.8 357.5h0M674.5 381.4h0M674.6 382h0M674.8 358.8h0M675.4 353.8h0M676.4 354.1h0M676.4 376.4h0M675.6 386.5h0M675.7 364.1h0M675.8 368.2h0M677.5 356.3h0M677.4 364.2h0M678.3 378.1h0M678 361.2h0M677.7 351.7h0M677.8 395.5h0M678.8 385h0M679.2 350.4h0M678.7 356.6h0M679 366.4h0M679.9 364h0M679.6 374.6h0M680.1 357.3h0M681.5 352.4h0M680.7 395.4h0M680.5 359.5h0M682.2 400.2h0M682.1 392h0M681.5 352.6h0M681.5 372.8h0M681.6 346.1h0M682.7 367.8h0M683.1 349.7h0M682.7 348.5h0M683.4 350.5h0M683.9 369.6h0M683.8 342.8h0M683.5 376.2h0M683.8 352.8h0M685 346.7h0M684.8 354.3h0M685.5 370.4h0M684.5 359.5h0M684.9 347.5h0M685.7 351.7h0M685.8 356.3h0M686.2 378h0M686.3 335.6h0M686.7 392h0M686.6 380.2h0M686.7 378.4h0M687.3 400.8h0M687.4 343.9h0M688.1 375.8h0M688.2 357h0M688 347.9h0M687.6 345.9h0M689.4 350.7h0M689 354.1h0M688.7 364.3h0M689.4 387.4h0M689.4 352.4h0M689.7 349.8h0M689.6 346.5h0M689.6 380.8h0M689.9 362.9h0M691.5 382.7h0M690.9 354.8h0M690.8 385h0M691.5 400.8h0M690.6 340.6h0M692.5 359.4h0M692.5 383.3h0M692.3 394.1h0M691.6 344.1h0M693 350.4h0M693.1 360.1h0M694 407h0M694.2 388.7h0M694.1 366.3h0M695.3 346.8h0M695.2 379.6h0M694.7 391.9h0M695.1 406.1h0M694.6 351.5h0M696.2 368.8h0M695.6 359.7h0M695.6 407.6h0M695.7 408.3h0M696.1 380.7h0M695.7 340.7h0M697 355.6h0M696.6 355.8h0M696.8 379.9h0M697.2 340.7h0M698.2 359.9h0M698.5 358.2h0M697.5 357h0M698 347.3h0M697.8 374.1h0M697.9 342.9h0M699.2 369h0M699.4 348.6h0M699 356h0M699.2 354.5h0M698.9 346h0M700.5 350.9h0M699.8 363.3h0M699.8 398.3h0M699.9 390.1h0M699.8 346.5h0M701.3 366.7h0M700.8 379.6h0M700.7 347.3h0M701.7 375.4h0M702.5 392.2h0M701.9 366.4h0M702.9 368.6h0M703.5 372h0M702.5 345.9h0M703.5 388.3h0M703.9 358.7h0M703.5 359.2h0M705.4 356.5h0M705.4 413.5h0M705 405.2h0M705.9 385.1h0M705.8 365.4h0M706.3 355.2h0M706.5 376.5h0M706.7 378.7h0M706.8 350.4h0M707.8 354.1h0M708.2 362.4h0M707.8 359.7h0M708.6 373.9h0M709 358.5h0M710 358.6h0M710 373h0M709.6 392.1h0M709.6 351.8h0M710.8 356.4h0M711.4 364.2h0M711.2 370.4h0M710.5 353.5h0M710.9 349.2h0M712.2 418h0M712.9 351.1h0M713.1 353.6h0M712.6 375.2h0M713 350.7h0M714.1 370.6h0M714.2 392h0M713.7 366.6h0M714.7 353.3h0M715.1 378.3h0M715 348.6h0M715.2 376.6h0M715.2 347.6h0M714.6 340.1h0M716.3 378.2h0M715.6 369.5h0M715.6 361.9h0M716.3 347.1h0M715.9 343.4h0M716.3 344.9h0M717.5 357.9h0M716.8 352.2h0M717.2 359.2h0M716.9 397.4h0M717.2 337.3h0M717.9 360.5h0M718.1 357h0M718.4 341.5h0M717.5 341.8h0M717.6 353.5h0M718.4 390.5h0M717.7 352.9h0M719 355.3h0M719.4 346.6h0M718.8 385h0M718.8 347.8h0M719.2 355.9h0M719.7 340.7h0M720.5 353.2h0M720.2 357.4h0M720 394h0M720.1 340.5h0M721.5 344.9h0M721.4 355.9h0M721.6 391.8h0M722 341.4h0M722.6 373.4h0M723 340.3h0M723 365.5h0M723.2 385h0M722.9 324.2h0M723.7 333.6h0M723.8 331.2h0M724.2 371.4h0M723.9 331.3h0M725.5 320.7h0M725.5 329.8h0M725.2 319.9h0M725.1 366.6h0M724.7 323.8h0M725.8 321.6h0M725.8 340h0M726.4 321.4h0M726.1 318.2h0M726 328.7h0M726.2 368.9h0M727.3 352.3h0M726.7 311.1h0M727.4 343.6h0M727.4 330.3h0M726.8 313.3h0M727.3 353.6h0M727.1 317.3h0M726.9 312.5h0M728.2 340.6h0M728.2 317.5h0M728 314.2h0M727.8 311.9h0M727.6 319.7h0M727.9 315.8h0M728.4 304h0M728.6 310.7h0M729.4 305.1h0M729.2 334.3h0M728.6 296.4h0M729.6 328.9h0M729.6 310.8h0M730.1 304h0M730.4 320.5h0M729.7 307h0M729.5 292.5h0M731 297.4h0M731.4 306.6h0M730.6 307.7h0M731.2 298.1h0M731.9 298.5h0M731.8 301h0M731.5 294h0M733.2 295.2h0M732.5 279.9h0M734 312.8h0M734 288h0M733.7 297.5h0M733.9 293.6h0M734.6 305h0M735.7 287.8h0M736.7 286h0M737.5 284h0M738.2 293.1h0M737.8 292.1h0M738.4 269.3h0M738.8 285.4h0M738.5 290.4h0M739.5 272.5h0M740 274h0M740.5 290.9h0M740 261.7h0M740.9 268.5h0M740.9 297.2h0M741.3 260.3h0M742.2 285.3h0M741.9 301.2h0M741.6 276.4h0M743 280.7h0M743.4 272.7h0M742.8 274.5h0M743.3 273.3h0M743.8 268.7h0M744 265.5h0M744.2 310.7h0M744.5 281.8h0M743.8 259.4h0M744.6 279.2h0M745.5 280.4h0M745.1 315.2h0M745 312.4h0M744.7 264.1h0M745.8 280h0M745.7 279.8h0M745.6 288.2h0M745.6 277.4h0M746.3 255.5h0M746.8 302.7h0M746.6 271.7h0M746.7 289.3h0M748.1 268.6h0M747.8 267.1h0M747.7 262.9h0M747.9 254h0M749.1 282.6h0M749.1 288.8h0M748.6 265.3h0M750.4 259.1h0M749.9 312.8h0M750.1 305.9h0M750.8 268.1h0M751.5 271.6h0M750.9 274h0M751.4 253.2h0M752.4 297.8h0M752 290.9h0M752.3 268.5h0M753.1 257.3h0M752.6 286.3h0M753 266.1h0M752.7 248.6h0M754.3 256h0M753.8 269.6h0M753.8 263.1h0M755.2 270h0M756.3 288.7h0M755.9 256.2h0M755.7 260h0M756.7 266.2h0M756.7 285.6h0M757.1 251.7h0M758.3 282.7h0M757.9 279.7h0M758.3 250.6h0M759.3 284.9h0M759.4 284.9h0M759.2 270.5h0M759.8 297.5h0M760.4 259.8h0M760.5 275.1h0M761.4 258.7h0M760.7 262.6h0M761.1 256.5h0M762.2 293h0M762.4 265.7h0M761.6 258.5h0M763.2 291.6h0M763.2 286.7h0M762.5 262.8h0M764 267.1h0M763.9 260.7h0M763.8 253.1h0M764.5 299.6h0M765.4 264.8h0M765.4 272.2h0M765 268.4h0M765.5 254.9h0M766 300.2h0M766.3 271h0M766.1 260.6h0M766 295.4h0M765.7 261.1h0M767.4 266.9h0M766.9 300.2h0M767 300.2h0M766.7 288.1h0M767.1 298.6h0M767.3 256.9h0M768.3 299.2h0M768.2 266.9h0M767.8 271h0M768.3 273.3h0M769.3 292.8h0M769.4 268.9h0M769.1 282.2h0M770.2 280.3h0M769.9 264.2h0M770 260h0M771.2 267.1h0M771 256.4h0M771.7 280.7h0M771.6 280h0M773.1 280.3h0M772.6 295.4h0M773.9 266.3h0M773.9 291.9h0M773.8 301.4h0M774.6 314h0M775 279.9h0M774.7 278.1h0M774.6 290.1h0M775.5 259.6h0M776.1 297.6h0M776.2 290.3h0M776.4 266.9h0M777.1 264.8h0M777.3 266.1h0M776.6 281.3h0M778.1 279.4h0M778.3 282.6h0M778 277.9h0M777.6 259.2h0M779.2 276.1h0M778.7 271.1h0M780.4 271h0M780.1 308.6h0M779.5 261.5h0M781.1 287.2h0M780.6 318.5h0M780.6 272.5h0M781.4 282.6h0M781.7 295.2h0M781.8 279h0M781.7 267h0M783.1 296h0M782.8 305.8h0M782.8 272.6h0M784.4 288.5h0M785 279.7h0M785.6 310.9h0M787 314.1h0M788.1 286.7h0M787.6 280.8h0M789 288.1h0M789.3 280.9h0M790.4 307.9h0M790.7 296.3h0M792.4 299.8h0M792.4 284.5h0M792.7 339.2h0M792.6 326.9h0M793.1 308.2h0M792.5 297.3h0M794 339.9h0M794.3 298.7h0M794.3 286.1h0M795 337.6h0M795.1 284.9h0M795.6 318.8h0M795.5 332.5h0M797 310.9h0M797.8 287h0M798.6 319.1h0M800.5 331.8h0M800.4 296.2h0M800.7 310.1h0M801.8 343.4h0M802.8 306.6h0M803.1 297.6h0M802.8 288.7h0M804.1 298.4h0M803.7 299.3h0M804.5 307.2h0M805.4 347.2h0M805.3 305.6h0M805.1 322.5h0M806.4 324h0M805.6 311.3h0M806 294.6h0M806.7 301.8h0M807.6 295.9h0M807.9 303.4h0M808.3 292.8h0M809.3 317.2h0M810.1 304.1h0M809.7 348.5h0M810.1 283.7h0M810.7 311.2h0M811.4 295.5h0M811.2 305.6h0M812.1 314.5h0M811.7 348.7h0M811.8 318.4h0M812.3 285.6h0M812.7 312h0M812.8 299.1h0M813 299.5h0M813.7 327.6h0M813.9 309.2h0M814.1 287.4h0M814.6 304.5h0M814.7 323.6h0M815.2 308.6h0M816.3 307.8h0M816.8 295.7h0M816.9 311.7h0M816.7 325.7h0M816.9 286.5h0M817.5 304.8h0M817.7 364.1h0M818.1 321.4h0M818.3 292.4h0M819.2 333.2h0M818.9 326.6h0M818.9 295.1h0M820.3 349.2h0M819.6 317.8h0M819.8 303.2h0M819.8 288.3h0M820.7 326.4h0M820.6 364h0M821.2 313.7h0M822.1 380.5h0M821.7 313.6h0M821.6 343.6h0M823.1 307.5h0M822.6 318.9h0M823.3 305.7h0M823.3 318.7h0M824.1 317.4h0M823.6 311.9h0M823.9 300.4h0M824.5 312.5h0M825.2 343.6h0M826 311.4h0M825.6 316.6h0M825.9 296.2h0M826.6 306.5h0M827.1 351.9h0M827.3 321.6h0M827.4 301.2h0M828 313h0M827.6 323.2h0M828.3 376h0M829 338.7h0M828.8 339.7h0M829 371.2h0M829.3 306.6h0M830 324.3h0M829.7 352.9h0M831 331h0M830.7 363h0M830.5 308.1h0M831.7 317.1h0M832.4 328.5h0M833 349.1h0M832.9 312.7h0M833.3 356.1h0M833.9 339h0M834.3 334.2h0M834.3 310.6h0M835 345h0M834.9 317.4h0M835.2 316h0M836.4 345h0M835.9 381.4h0M836 330.4h0M836.5 333.4h0M837.4 318.6h0M837.1 308.8h0M838.5 323.5h0M837.6 322.3h0M838.3 332.9h0M838 373.2h0M838.3 308.2h0M839.2 324.3h0M839.2 309.5h0M839.5 333.9h0M840.2 330h0M840.3 312.7h0M841.2 321.4h0M841.1 357.4h0M841 313.6h0M841.7 331h0M842.3 333.1h0M843.5 377.1h0M843.3 331.5h0M843.1 358.8h0M843.4 308.9h0M844.4 378.6h0M844.2 386.1h0M844.3 363h0M844.8 392.7h0M845.4 310.3h0M845.6 331.3h0M846.4 322.7h0M846.5 355.2h0M846.7 328.9h0M847 340.9h0M846.7 317.7h0M847.9 331.1h0M848.2 365.6h0M847.9 374.1h0M848 332.3h0M849 360.9h0M849.4 361.9h0M849 336.3h0M848.8 310.5h0M850.1 352.8h0M850.3 365.7h0M850.1 344.3h0M849.8 313.4h0M851 331.7h0M851 338.4h0M851.5 357.4h0M851.5 349h0M851.1 315.4h0M851.7 339.3h0M852.3 319.4h0M851.8 340.7h0M851.8 329h0M853.2 335.8h0M853 346.2h0M852.5 319.8h0M852.5 355.1h0M853.2 309.9h0M853.7 316.5h0M854.1 329.9h0M854.3 361.2h0M854.2 306.9h0M854.7 349.7h0M854.7 333.2h0M855.4 357.6h0M855 331.4h0M855.3 352.8h0M855.2 307.8h0M856.1 339.5h0M856.5 344.4h0M855.7 329.4h0M856.4 333h0M856.7 319.1h0M857.2 371.1h0M857.3 318.7h0M857.3 390.4h0M856.8 315.5h0M857.9 316.6h0M858.3 324.9h0M858.8 340.1h0M858.5 344.6h0M860 332.8h0M859.9 343.5h0M861.2 334.2h0M860.8 362.3h0M860.6 307.8h0M862.4 307.5h0M862 374.1h0M862.8 351.4h0M862.6 311.4h0M863.2 307.5h0M863.9 327.2h0M864.9 323.3h0M866 319.3h0M866.6 354.5h0M868.1 373.2h0M867.7 347h0M869.4 323.6h0M869.4 332.2h0M868.7 308.9h0M869.7 319.9h0M870 339.2h0M870.4 318.4h0M870 348.7h0M870.4 310.5h0M871.4 338.7h0M871.4 332.5h0M871.2 318h0M870.6 309.9h0M872 367.4h0M872 320.5h0M873.5 317.3h0M872.5 345.3h0M873.9 317.9h0M873.6 318.3h0M874.3 353h0M873.8 311h0M874.8 343.1h0M874.7 318.7h0M875.9 321.4h0M876.3 328.6h0M876.2 317.9h0M877 320.6h0M877.4 313.2h0M877.5 324.7h0M878.4 324.6h0M878.8 331.9h0M878.8 347.9h0M878.8 319.7h0M880.2 348.8h0M879.9 320.9h0M880.1 370.3h0M880.9 327h0M881.4 325.3h0M881.8 347.8h0M881.8 351.9h0M882.3 320.7h0M883 354.7h0M882.6 344.8h0M883.1 314.1h0M883.9 331.7h0M884.1 343.2h0M884.8 346h0M884.7 319.3h0M886.4 342.3h0M885.8 315h0M887.3 324h0M886.6 315h0M887.6 338.4h0M888.1 310.6h0M888.5 325.6h0M890.1 309.7h0M891.4 319.4h0M892.3 325.3h0M892.9 319.1h0M892.9 312.5h0M892.8 310.9h0M893.8 315h0M894.4 315.3h0M893.8 307.3h0M894.7 327.7h0M895.7 335.7h0M896.3 315.6h0M896.7 324h0M897.1 328.1h0M897 297.7h0M898.1 312.4h0M898.4 310.5h0M899.2 330.1h0M899.4 314.7h0M898.6 296.6h0M899.7 331.1h0M900 325.2h0M900.1 296.5h0M900.9 308.3h0M901.3 298.2h0M901.9 319.2h0M901.5 290.2h0M902.8 299.8h0M903.1 289.8h0M904.2 300.8h0M905.3 303.2h0M905.8 291.3h0M905.5 305.8h0M905.6 294.4h0M907 296h0M906.8 302.5h0M906.8 305.8h0M908.2 290.3h0M908.2 291.5h0M908.4 330.6h0M908.3 287.8h0M909.4 314.4h0M908.9 327.2h0M909.4 291.9h0M910.2 333.9h0M909.8 282.3h0M910.7 306.9h0M911.3 293.6h0M911 282.4h0M911.7 304.7h0M912.1 345.3h0M911.5 286.5h0M913.1 291.3h0M915.5 297.4h0M915.8 350h0M916 286.9h0M917 327.1h0M916.9 288.8h0M918.1 313.4h0M918.1 309.5h0M918 292.9h0M919.3 319.4h0M918.8 290.3h0M920.4 334.2h0M919.7 323.6h0M920.3 301.6h0M921.5 332.9h0M921.8 304.2h0M921.7 299.2h0M923.5 334.7h0M923.4 315.8h0M924.2 296.6h0M925.5 325.5h0M926 292.6h0M926.9 323.8h0M928 291.8h0M928.5 340.3h0M928.9 292.7h0M929.7 322.5h0M930.1 300.4h0M930.5 307.7h0M930.7 311.2h0M931.4 292.6h0M931.6 299.3h0M931.9 309.6h0M932.6 303.7h0M932.7 301.2h0M934.5 306.7h0M935.1 332.5h0M935 308.1h0M936 315.8h0M936.3 299.2h0M935.5 306.8h0M937.2 305.6h0M938.5 333.5h0M938 294.6h0M939 295.4h0M940.3 304.2h0M939.6 307.7h0M941.3 305.9h0M940.6 302.2h0M942.2 312.7h0M941.8 325.9h0M942.8 315.9h0M943.4 298h0M944.8 310.8h0M944.8 302.1h0M946.1 339.2h0M947.3 309.5h0M948.3 317.2h0M948.2 309.6h0M949 327.2h0M949.1 305.7h0M949.9 307.4h0M950.5 334.5h0M952.2 314.5h0M952 305.2h0M954.2 304.4h0M954.9 347.2h0M956.4 319.7h0M956.4 355.6h0M955.9 313.3h0M957.4 344.7h0M957.4 308.9h0M958.4 354h0M958.2 320.9h0M957.5 310h0M958.9 319.4h0M959.2 340.9h0M959.8 323.7h0M960.3 308.7h0M961.1 342.6h0M960.8 323.9h0M961.7 319.7h0M963.4 320.6h0M963 309.1h0M964.1 344.5h0M964.4 364.8h0M965.4 352.6h0M966.1 310.5h0M967 332.7h0M966.9 323.6h0M967.6 353h0M968.3 313.5h0M968.7 357.4h0M969.4 327.8h0M969.3 323.5h0M969 309h0M969.9 321h0M970 337.5h0M969.8 324.7h0M971.1 322.2h0M971.3 360.5h0M971.2 318.6h0M970.8 332.5h0M972.5 322.7h0M971.7 341.9h0M972.7 335.4h0M973.3 350.4h0M973.2 361.2h0M972.8 313.2h0M974.1 354.3h0M973.8 317h0M973.9 328.3h0M973.7 310.4h0M974.7 391h0M975.4 354.7h0M976.1 325.1h0M975.7 333.2h0M975.6 316.8h0M977.3 384.6h0M976.7 319.2h0M977 318.2h0M976.9 316.1h0M978.2 350h0M978.5 322.5h0M977.6 372.9h0M978.3 322.3h0M979 353.9h0M979 320.5h0M978.8 315.1h0M979.6 335.4h0M980.3 329.5h0M980.4 314.6h0M980.6 338.4h0M980.6 333.2h0M982.1 333.6h0M983 327.4h0M982.9 355.6h0M982.9 317.3h0M983.8 338h0M984.3 339.1h0M983.7 318h0M984.8 322.3h0M986.2 330.6h0M985.6 314.7h0M986.9 332.7h0M988.1 321.7h0M989.1 336.6h0M988.8 315.8h0M990.1 333h0M989.8 323.3h0M990.9 370.1h0M992.3 355.8h0M991.8 317.7h0M992.7 365.8h0M994.1 326.4h0M994.5 339.6h0M994.2 330.6h0M995.2 327h0M994.8 323h0M994.8 324.6h0M996.1 345.7h0M996.3 351.8h0M996.5 375.3h0M996.6 329.8h0M996.5 352.9h0M997.8 369.6h0M997.6 343.3h0M997.7 324.6h0M998.9 333.3h0M998.8 332.3h0M999.1 322.2h0M998.8 318.6h0M1000.1 363.9h0M999.9 322.3h0M1000.6 343.9h0M1000.6 339.1h0M1001.7 321.8h0M1002 352.7h0M1001.7 313.3h0M1002.6 319.8h0M1002.5 326.7h0M1002.9 311.6h0M1004.3 358.1h0M1004.3 345.1h0M1004.6 333.8h0M1004.9 356.7h0M1004.7 337.5h0M1005.9 324.2h0M1005.7 331.8h0M1007.4 320.1h0M1007.4 324h0M1007.5 368.6h0M1008.2 323.1h0M1008.6 330.9h0M1009.1 373.2h0M1009 318.3h0M1009.5 346.8h0M1010.5 363.8h0M1010.1 316.9h0M1010.8 371.8h0M1010.9 368.8h0M1012.4 350.9h0M1012 328.3h0M1011.6 336.3h0M1012.6 328.3h0M1013.2 374.1h0M1013 335.8h0M1012.5 318.8h0M1014.2 335.9h0M1015.2 356.8h0M1015.3 352.8h0M1015 316.7h0M1015.5 347.5h0M1016.4 345.2h0M1015.8 321.2h0M1016.8 374.7h0M1016.9 330.4h0M1017.7 337h0M1018.3 346.9h0M1018.1 353.5h0M1018.2 321.4h0M1019.5 325.2h0M1019.5 349.7h0M1020.4 331.9h0M1020.1 376.8h0M1019.8 325.5h0M1020 317.5h0M1021 333.6h0M1021.7 338.9h0M1022.4 349.4h0M1022.4 318.2h0M1023.5 352.4h0M1022.5 357.4h0M1023.2 327.8h0M1024 349.4h0M1023.6 333.1h0M1024.5 322h0M1025 327.6h0M1024.8 319.3h0M1025.8 361.9h0M1026.2 375.6h0M1027.3 331.1h0M1027.6 366.5h0M1029.4 374.4h0M1029.4 320.6h0M1030 332h0M1030.1 396.4h0M1029.5 361.7h0M1031.5 335h0M1030.8 359.1h0M1031.4 398.1h0M1030.7 342.4h0M1032.2 338.4h0M1032.9 340.2h0M1033 334h0M1033.8 398.6h0M1034.2 350.8h0M1034.9 344.7h0M1035.8 379.3h0M1036.3 392.5h0M1036.6 370.5h0M1036.9 372.2h0M1037.1 374.9h0M1037 326.3h0M1038.1 340.9h0M1038.4 338.5h0M1037.8 354.2h0M1037.9 326.3h0M1039.5 342.8h0M1040.5 367.4h0M1039.9 361.8h0M1040.5 331h0M1041.5 331.3h0M1042.4 388.6h0M1042.4 355.1h0M1041.9 335h0M1043.3 383.2h0M1043 360.8h0M1043.3 339.6h0M1043.5 382h0M1044.4 377.9h0M1044.4 322.3h0M1045.4 352.9h0M1045 336.1h0M1045.4 336h0M1045.7 377.5h0M1046.5 369.1h0M1047.3 328.4h0M1048 364.4h0M1047.8 355.5h0M1048.1 334.7h0M1048.8 338.9h0M1048.7 350.7h0M1048.9 323h0M1050.4 329h0M1050.2 338.9h0M1050.2 322.6h0M1051.1 351.2h0M1050.8 330.8h0M1050.9 326.6h0M1051.7 384.6h0M1051.6 350.7h0M1052.3 325.1h0M1053.2 378h0M1052.6 381.8h0M1052.6 350.1h0M1054.5 335.4h0M1054.3 320.8h0M1054.8 389.5h0M1054.9 387.7h0M1055.6 357.7h0M1055.9 341.3h0M1056.3 355.3h0M1055.7 340.4h0M1056.7 343.1h0M1056.9 340h0M1057.3 323.8h0M1058.3 343.2h0M1057.5 355.8h0M1058.4 382.6h0M1058.6 354.6h0M1058.7 350h0M1058.7 325.6h0M1060.2 348.7h0M1060.3 350.6h0M1061.1 345.9h0M1061.4 334.9h0M1062 342.5h0M1061.8 319.9h0M1063 322h0M1063.7 336.8h0M1063.6 338.9h0M1064.4 319.6h0M1064.8 348.2h0M1064.8 362.6h0M1065.3 384.4h0M1064.9 323.4h0M1065.5 334.2h0M1066.4 333.7h0M1066.2 356.8h0M1065.9 326.1h0M1067.3 359.1h0M1067.3 357.9h0M1066.7 330.5h0M1067.7 344.2h0M1067.8 349.9h0M1068.3 327.5h0M1069.1 377.8h0M1069 331.7h0M1068.8 327.6h0M1069.4 316.5h0M1070 390h0M1070 334.7h0M1070.5 337.4h0M1069.7 315.9h0M1070.6 338.3h0M1071.4 353.7h0M1070.8 348.5h0M1070.5 315.5h0M1072.3 337.4h0M1072.4 338.9h0M1071.8 325.1h0M1071.7 323.6h0M1073.2 344.4h0M1072.8 345.9h0M1074 325.4h0M1073.5 311.8h0M1074.9 363.2h0M1076.3 364.1h0M1075.9 327.2h0M1076.9 317.1h0M1077.3 369.2h0M1077.1 312.9h0M1078.3 343.2h0M1077.6 321.2h0M1078.1 341.3h0M1078.4 312h0M1078.8 310.5h0M1080.1 350.7h0M1080.3 318.6h0M1080.5 327.6h0M1080.7 383.6h0M1081.2 321.1h0M1082.5 324.7h0M1082.2 330h0M1081.9 352.5h0M1082.7 325h0M1083 315.1h0M1084.3 326.9h0M1083.8 378.6h0M1083.8 324.2h0M1085.2 355.5h0M1085 374h0M1084.7 312.4h0M1086.2 345.9h0M1087.4 377.2h0M1087.9 364.3h0M1088.1 365.5h0M1088.6 318.6h0M1089.4 314.8h0M1090.1 334h0M1090.6 311h0M1090.8 359.6h0M1092 334.6h0M1091.9 374.5h0M1092.6 392h0M1092.5 322.3h0M1093 309.9h0M1092.7 302.2h0M1093.9 339.8h0M1093.9 340.5h0M1094.5 300.8h0M1095.4 356.9h0M1094.6 311.8h0M1094.7 301.1h0M1096.1 374.6h0M1096 355.7h0M1097.2 312h0M1097.6 325.8h0M1097.6 318.8h0M1098 309.5h0M1098.8 352.9h0M1098.7 301h0M1099.7 385.6h0M1100 308.4h0M1100.7 340.5h0M1101.2 334.9h0M1101.4 327.8h0M1101.5 317.2h0M1101.6 324h0M1101.6 321.5h0M1102.4 303.1h0M1103 324.4h0M1103.3 301.9h0M1103.7 325.3h0M1103.7 317.9h0M1104.4 318.3h0M1103.7 309.3h0M1105.2 322.8h0M1105.6 334.7h0M1106.5 315.8h0M1107.4 380.4h0M1107.3 323.4h0M1107.6 320.1h0M1108 306.2h0M1108.8 327.9h0M1109.2 306.8h0M1111.2 323.6h0M1111.7 320.7h0M1111.8 326h0M1112.8 354.7h0M1113.5 329.1h0M1115.3 359.8h0M1115.3 310h0M1115.6 330h0M1116 311h0M1117.2 367.5h0M1117 336.8h0M1118 318h0M1118.4 330.7h0M1117.8 323.4h0M1118.3 316.3h0M1119.2 329h0M1119.3 350.2h0M1119.2 321.3h0M1118.7 324.1h0M1119.7 340.3h0M1120.4 312.1h0M1120.9 330.4h0M1121.2 336h0M1120.6 310.7h0M1122.3 343.4h0M1121.7 349.8h0M1123.1 322.4h0M1122.9 343.5h0M1123 346.2h0M1122.9 311.5h0M1123.7 349.3h0M1124.4 339.3h0M1124.3 360.4h0M1123.5 320.3h0M1125.2 325.3h0M1125 323.1h0M1124.5 317.9h0M1125.7 326.3h0M1126.2 363h0M1126.9 332.9h0M1127 358.7h0M1127.1 324.3h0M1127.4 318.9h0M1128.1 318.8h0M1127.5 332.7h0M1127.5 326h0M1129.4 322.6h0M1129.2 325.7h0M1129.1 346.5h0M1129.3 311.1h0M1130 327.5h0M1130.2 318.8h0M1131.2 328.5h0M1132.5 335.4h0M1132.1 316.7h0M1133 332.6h0M1133.1 360.7h0M1132.6 336.1h0M1134.5 331.3h0M1134.3 315.4h0M1134.6 363.4h0M1135.4 344.4h0M1136.3 327.2h0M1136.4 329.1h0M1136.2 313.6h0M1136.5 351h0M1137.4 318.1h0M1137.9 336.9h0M1138 348.1h0M1138 318.5h0M1138.8 332h0M1138.9 330.4h0M1139.2 316.8h0M1139.8 323.4h0M1140.8 330.8h0M1142.4 366.5h0M1142.2 324.8h0M1142.4 318h0M1142.8 379.7h0M1143 329.3h0M1142.8 316.8h0M1143.6 346.5h0M1143.6 326.8h0M1143.7 353.3h0M1144 324.7h0M1145 330.5h0M1144.9 363.6h0M1145.2 312.1h0M1145.9 318.9h0M1146.8 359.1h0M1146.9 313.8h0M1147.6 312.3h0M1148.6 324.3h0M1149.1 345.2h0M1150.2 376.9h0M1149.7 319.8h0M1150.2 323.9h0M1150.7 328.5h0M1150.9 355h0M1152 330.8h0M1152.3 338.5h0M1152.4 326.8h0M1151.9 352.6h0M1153.5 376.9h0M1153.3 342h0M1154.4 343.8h0M1153.8 380.7h0M1153.6 379.3h0M1154.1 339.7h0M1154.1 311.7h0M1154.7 364.7h0M1154.5 323.1h0M1154.5 352.4h0M1154.9 316.9h0M1156 326.7h0M1155.7 343.7h0M1157.2 322.2h0M1156.8 339.5h0M1158.2 360.5h0M1158.3 353.5h0M1157.5 323h0M1159.2 350.8h0M1158.6 332.8h0M1160.4 329.8h0M1159.8 331.1h0M1160.2 320.5h0M1161 397.4h0M1160.9 351.5h0M1160.5 348.2h0M1161.5 323.7h0M1161.5 317h0M1162.4 326.2h0M1162.1 343.9h0M1161.6 337.2h0M1162.3 332.6h0M1162.2 355.3h0M1162.7 370.9h0M1162.9 330.7h0M1162.7 400.9h0M1163.3 386.6h0M1164.3 327.9h0M1163.5 332.6h0M1164.2 359.5h0M1164.9 360.8h0M1165 335.3h0M1165.2 320h0M1165.5 342h0M1165.5 364.9h0M1166.1 382.7h0M1166.8 383h0M1168.3 342.6h0M1168.1 364.5h0M1168.3 362.4h0M1168.9 336.2h0M1169.3 378.3h0M1168.8 339.8h0M1168.9 318.6h0M1170.4 323h0M1170.4 340.6h0M1169.6 364.1h0M1169.9 330.8h0M1170.3 315.3h0M1171 329.9h0M1171.3 370.8h0M1170.7 346.9h0M1171.1 324.6h0M1170.7 351.5h0M1172.2 354.9h0M1171.8 334.6h0M1172.3 332.2h0M1172.8 342.4h0M1173.3 324.9h0M1172.8 384.4h0M1172.8 334.7h0M1174.3 339.4h0M1173.6 343.6h0M1174.8 373.6h0M1175.4 349.8h0M1174.7 332.1h0M1175.7 349.8h0M1176.2 366.3h0M1176.3 327.5h0M1176.8 388h0M1177.8 347.5h0M1178.4 334.6h0M1178.6 343.1h0M1179.1 367.5h0M1179.9 368.6h0M1179.9 321.3h0M1182.1 343.4h0M1182.5 320.9h0M1183.7 380.5h0M1184.7 387.2h0M1184.5 376.9h0M1184.8 390.7h0M1185.9 356h0M1185.9 335.8h0M1187.3 345.9h0M1187.1 393.5h0M1188.3 352.6h0M1188.5 325.3h0M1188.7 381.6h0M1190.5 378.3h0M1190.4 384.5h0M1190.2 375.5h0M1190.7 348.6h0M1191.4 324.6h0M1192 336.4h0M1192.8 377.3h0M1193.4 333.7h0M1192.8 360.5h0M1194 346h0M1194.1 402.9h0M1194.4 331.9h0M1195 340.8h0M1194.7 338.5h0M1195.5 340.7h0M1197 362.5h0M1199.1 331.8h0M1200.1 364.8h0M1200 331.1h0M1200.5 336.8h0M1201.4 404.2h0M1200.8 381.7h0M1202 360.9h0M1201.6 372.3h0M1203.2 339.7h0M1203.5 390.1h0M1202.8 345.1h0M1204.1 340.7h0M1204.3 347.9h0M1204.2 340.4h0M1203.8 330.2h0M1205.1 344.4h0M1206.2 338.9h0M1205.7 360.6h0M1206.4 330.3h0M1207.5 376.9h0M1207.5 334.7h0M1207.6 367.9h0M1208 336h0M1208.8 345.9h0M1208.7 353.7h0M1209.5 342.9h0M1210.2 336.8h0M1210.7 342.7h0M1211.6 386.5h0M1212.4 360.8h0M1212.3 338.9h0M1213.2 343.1h0M1213.4 340.7h0M1212.6 337.8h0M1214.2 355.5h0M1214 334.8h0M1214.5 368.3h0M1216.5 366.1h0M1215.9 385.8h0M1216 338.1h0M1217.3 364h0M1217.1 346.2h0M1217.4 335.1h0M1217.6 376.9h0M1218.2 349.2h0M1218.8 375.1h0M1219.1 355.1h0M1220.1 345.9h0M1220 337.4h0M1219.8 335h0M1220.8 365.5h0M1220.5 337.2h0M1221.6 339.6h0M1221.5 331.8h0M1223.1 354.3h0M1223.1 328.2h0M1223.9 355h0M1224 388.5h0M1224.3 329.7h0M1224.9 360.5h0M1224.9 346.5h0M1225.9 348.1h0M1226.5 387.1h0M1226.3 375h0M1226.2 338.5h0M1226.5 345.1h0M1227.2 356.8h0M1226.7 355h0M1228.5 389.1h0M1228.2 351.2h0M1227.6 335h0M1228.6 359h0M1230.4 389.4h0M1231 368.7h0M1231.3 331.4h0M1232.8 385.6h0M1233.4 342.9h0M1234.1 359h0M1233.6 336.4h0M1234.9 380.2h0M1237.1 355.4h0M1237.7 344.6h0M1238.8 359.7h0M1240 349.9h0M1241.2 359.8h0M1242.3 364h0M1241.8 341.7h0M1242.8 346h0M1243.5 347.9h0M1244.6 354.6h0M1245.1 344.8h0M1246.2 349.6h0M1247.4 358.9h0M1248.3 359.7h0M1248.3 337.3h0M1249.4 346.8h0M1248.6 341.2h0M1250.2 375.2h0M1249.9 342.2h0M1252.3 350.4h0M1252.3 365.9h0M1252 340.6h0M1252.7 359.7h0M1252.6 347.1h0M1255.2 346.6h0M1255 376h0M1255.6 351.9h0M1256 338.6h0M1257.4 366.4h0M1258.3 345.4h0M1257.6 362.6h0M1259.8 352h0M1259.9 358.7h0M1261 351.5h0M1262 336.8h0M1262.7 349.8h0M1262.6 334.7h0M1264.2 375.4h0M1263.8 334.7h0M1266.1 350h0M1266 340.5h0M1266.7 342h0M1267 347.5h0M1267 336.2h0M1267.8 349.6h0M1268.2 339.4h0M1268.9 342.8h0M1270.8 360.2h0M1271.7 348.8h0M1273 348h0M1272.8 344.3h0M1274 345.9h0M1275 369.9h0M1275 335.5h0M1275.8 340.6h0M1275.6 367.4h0M1276.7 389.9h0M1277.4 374.2h0M1277.3 337.7h0M1278.4 359.9h0M1279 345.4h0M1280.1 342.6h0M1280.8 345h0M1281.8 342.2h0M1282 333.2h0M1282.8 369.6h0M1282.7 336.8h0M1284.4 354.5h0M1284 346.4h0M1283.6 333.8h0M1285.1 361.8h0M1284.6 373.2h0M1286.3 346.9h0M1286.1 344.1h0M1286.5 352.2h0M1285.6 338.3h0M1287.3 379.1h0M1287.5 346.9h0M1286.8 346.8h0M1287.1 336h0M1288.3 391.8h0M1288.6 353.3h0M1290.3 389.1h0M1290 338.4h0M1290.8 365.3h0M1291.2 355.4h0M1291.3 346.1h0M1291.4 339.4h0M1291.7 366.1h0M1292.1 347.6h0M1291.8 353.4h0M1292.7 403.5h0M1292.8 382.5h0M1293.4 337.5h0M1294.3 359h0M1294.1 359.4h0M1294.3 369.6h0M1293.7 351.9h0M1295.3 344.6h0M1295.4 364.2h0M1295.3 336.9h0M1296.3 352.1h0M1295.7 367.9h0M1297 344h0M1296.7 366.5h0M1297.8 362.8h0M1297.9 361.2h0M1298.9 348.5h0M1299.4 355.8h0M1300.4 376.2h0M1300.4 367.2h0M1300.3 349.4h0M1301.2 354.2h0M1301.1 331.7h0M1302.5 383.1h0M1301.6 334.6h0M1302.6 340.6h0M1302.7 343.1h0M1304.2 363.7h0M1303.7 330.7h0M1304.8 338.3h0M1304.6 353.6h0M1305 354h0M1304.9 328.9h0M1306.2 363.5h0M1305.7 343h0M1306.9 347.5h0M1306.6 339.2h0M1307 332.8h0M1308.5 355h0M1307.9 329h0M1309 340.6h0M1309.3 328.4h0M1310.1 331.7h0M1311 338.6h0M1313 349.6h0M1313.5 327.8h0M1314.2 334.7h0M1314.1 344.1h0M1313.9 329.2h0M1315.1 343.7h0M1315.8 332.2h0M1315.5 333.6h0M1316.3 356.8h0M1315.7 324.7h0M1316.9 332.3h0M1316.8 324.4h0M1318.3 351.1h0M1318.5 332.6h0M1320.1 351.1h0M1319.9 322.2h0M1321.3 335.6h0M1321.4 344.8h0M1322.1 330.9h0M1323 331.4h0M1323.6 353.7h0M1324.2 334.1h0M1324.9 338.5h0M1324.9 336.2h0M1324.7 327.1h0M1326.1 344.3h0M1326 339.2h0M1325.8 362.8h0M1327.1 334h0M1326.5 324.3h0M1328.1 337.8h0M1327.6 351.7h0M1328 322.2h0M1330.1 339.1h0M1329.8 328.8h0M1331 332h0M1331 334.4h0M1332 332.4h0M1331.9 322h0M1332.8 330h0M1333.1 346.4h0M1334.4 331.2h0M1333.7 329.5h0M1334.4 323.3h0M1334.9 341.9h0M1334.6 349.2h0M1336.2 351.7h0M1336.4 330.3h0M1337.4 329.8h0M1337.2 318.5h0M1338 353.2h0M1338.1 318.5h0M1339.3 333.7h0M1339.2 322.3h0M1339.6 344.8h0M1341.1 351.2h0M1343.3 345.3h0M1342.9 319.6h0M1344 355.8h0M1345.6 328.1h0M1346.1 318.9h0M1346.5 345.8h0M1347.9 331.3h0M1349.4 330.7h0M1351.4 328.7h0M1351.9 362.7h0M1353.1 343.4h0M1352.8 321.4h0M1354.5 347.4h0M1354.6 351.5h0M1355.4 322.3h0M1356.1 343h0M1357.4 341.8h0M1356.6 331h0M1357.6 334.2h0M1358.5 326.7h0M1358.8 341.3h0M1358.9 324.9h0M1360.3 336h0M1361.1 352.2h0M1362.3 356.6h0M1363.1 333.7h0M1364.3 346.1h0M1365.4 362.1h0M1365.3 327.6h0M1366.5 343.3h0M1366.6 342.3h0M1366.9 329.9h0M1368.4 338.9h0M1369.4 336.8h0M1370.2 353.9h0M1369.5 332.7h0M1370.6 338.4h0M1372.3 341.3h0M1372.6 331.2h0M1373.5 358.3h0M1374.3 327.5h0M1375.2 339.8h0M1375.5 343.3h0M1376.2 329.1h0M1376.8 367h0M1377.5 348.3h0M1379.2 337.5h0M1378.8 329.7h0M1380.5 352.8h0M1379.8 347h0M1381.3 340.8h0M1381.4 330h0M1382.4 343.9h0M1382.1 328.5h0M1383.3 355.5h0M1383.7 358h0M1383.8 336.8h0M1383.6 331.9h0M1385.5 343.6h0M1385.3 339.4h0M1385.6 354.8h0M1386.8 328.7h0M1387.6 340.4h0M1388.4 351.3h0M1388.4 339.6h0M1388.8 372.1h0M1390.5 335h0M1390.3 332.1h0M1391.5 337.5h0M1391 373.4h0M1390.8 327h0M1391.6 361.8h0M1393.5 348h0M1393 335.5h0M1394.3 346.7h0M1394 370.8h0M1395.5 356.9h0M1396 341h0M1396.3 356.7h0M1395.6 329.5h0M1396.5 337h0M1397.5 340h0M1397.6 344.7h0M1397.7 339.4h0M1399.3 358.6h0M1399 353.5h0M1399.7 366.2h0M1399.6 339.6h0M1400.8 369.6h0M1401.8 351.7h0M1402.8 344.5h0M1403.4 333.6h0M1404.2 355.2h0M1404.3 337.7h0M1405.5 331.8h0M1406.5 367.3h0M1406 334.3h0M1406.9 359.4h0M1407.3 336.2h0M1408.4 348.2h0M1407.6 367.1h0M1409.4 358.7h0M1409.2 336.2h0M1410.4 341.8h0M1410.8 335.7h0M1413.5 346.5h0M1412.9 338.3h0M1414.2 343.8h0M1413.9 336.9h0M1414.5 343.1h0M1415.6 348.7h0M1418.4 337.1h0M1420.3 340.6h0M1422 350.9h0M1423.1 365.5h0M1423.3 349.3h0M1423.9 348.3h0M1424.5 349.4h0M1426 352.2h0M1426.2 344.3h0M1427.2 352.1h0M1428.4 343.9h0M1429 352.3h0M1429.4 347.2h0M1430.3 349.7h0M1429.8 341.9h0M1431.5 350h0M1431.2 342h0M1431.6 343.4h0M1432.5 354.2h0M1434 349.5h0M1435.2 364.5h0M1435.5 350.3h0M1436.9 344.7h0M1439.5 357.6h0M1439.5 347h0M1439.9 361.4h0M1439.8 353.5h0M1441.2 348.4h0M1442.2 359.5h0M1441.9 352.6h0M1442.7 381.9h0M1443.6 358.9h0M1443.7 344.3h0M1445.4 371.8h0M1447.1 352.3h0M1446.5 371.3h0M1448.2 357.8h0M1449.3 378.9h0M1449.5 354.9h0M1451.1 352.4h0M1451.4 344.5h0M1452.4 354.1h0M1451.7 357.1h0M1453.1 357.4h0M1453.6 356.5h0M1454.4 342.6h0M1454.9 355.2h0M1454.6 360h0M1456 360h0M1457.2 363.1h0M1456.7 345.9h0M1457.6 362.7h0M1459.3 355.9h0M1459.3 349.9h0M1459.6 351.9h0M1461.4 354.8h0M1460.7 372.9h0M1462 343.4h0M130.3 265h0M137.7 254.4h0M137.7 261.8h0M130.3 278.9h0M130.3 285.3h0M137.7 283.2h0M145.2 300.2h0M169.7 296h0M170.8 313h0M196.4 264h0M228.4 244.8h0M228.4 251.2h0M243.3 240.5h0M243.3 243.7h0M222 264h0M231.6 262.9h0M140.9 428.2h0M140.9 438.9h0M158 426.1h0M158 431.4h0M176.1 434.6h0M266.7 287.4h0M266.7 296h0M285.9 339.7h0M208.1 336.5h0M212.4 338.6h0M226.2 347.2h0M238 358.9h0M243.3 359.9h0M127.1 393h0M130.3 289.6h0M130.3 293.8h0M137.7 302.4h0M122.8 300.2h0M131.3 381.3h0M134.5 377h0M148.4 432.5h0M152.7 430.3h0M359.3 219.2h0M359.3 233.1h0M347.6 237.3h0M347.6 252.2h0M323.1 254.4h0M361.4 256.5h0M315.6 264h0M315.6 268.2h0M377.4 274.6h0M377.4 278.9h0M435 278.9h0M435 287.4h0M435 290.6h0M436.1 300.2h0M459.5 330.1h0M459.5 338.6h0M299.6 328h0M310.3 364.2h0M420.1 346.1h0M330.5 430.3h0M346.5 436.7h0M363.6 435.7h0M346.5 423.9h0M346.5 416.5h0M363.6 405.8h0M338 414.3h0M338 405.8h0M323.1 416.5h0M324.1 409h0M382.8 419.7h0M388.1 422.9h0M382.8 412.2h0M338 393h0M351.8 394.1h0M345.4 261.8h0M354 259.7h0M360.4 264h0M524.6 494.8h0M604 80.2h0M667.1 60.5h0M779.8 128.1h0M779.8 132.2h0M779.8 151.9h0M779.8 185.5h0M762.2 173.2h0M762.2 178.1h0M476.6 355.5h0M517.6 457.1h0M513.5 438.7h0M517.6 438.7h0M591.3 449.7h0M635.6 428h0M712.2 437.4h0M704 425.1h0M777.7 332.1h0M775.7 316.6h0M785.9 322.7h0M654.8 103.5h0M613 119.1h0M571.3 132.2h0M522.1 145.3h0M515.5 156.8h0M546.3 152.7h0M685.6 105.6h0M695.8 91.3h0M700.7 95.4h0M714.2 117.1h0M878.1 107.6h0M878.1 128.1h0M878.1 146.6h0M1031.7 72.8h0M1031.7 98.2h0M1011.2 113.8h0M984.6 436.2h0M984.6 452.6h0M1024.3 431.3h0M1024.3 435.4h0M1039.9 423.9h0M854.7 398.5h0M824.8 373.9h0M824.8 382.1h0M824.8 389.5h0M806.4 357.5h0M876.8 382.1h0M970.3 397.7h0M976.4 397.7h0M1089.1 394.4h0M1117.7 369.8h0M810.5 148.6h0M831 124h0M831 132.2h0M966.2 140.4h0M982.5 146.6h0M1002.2 139.6h0M1082.9 137.1h0M1099.3 145.3h0M1099.3 151.9h0M1125.9 156.8h0M1050.1 408.7h0M1144.3 427.2h0M1156.6 404.7h0M1156.6 419h0M1195.5 412.8h0M1228.3 398.5h0M1279.5 437.4h0M1289.8 412.8h0M1330.7 148.6h0M1330.7 179.3h0M1330.7 206h0M1359.4 224.4h0M1367.6 238.7h0M1254.9 132.2h0M1279.5 132.2h0M1248.8 142.5h0M1230.4 142.5h0M1179.2 146.6h0M1136.1 144.5h0M1152.5 128.1h0M1447.5 394.4h0M1367.6 251h0M1400.4 257.2h0M1412.7 263.3h0M1422.9 275.6h0M514 155h0M516 168h0M520 186h0M512 200h0M518 210h0M506 220h0M522 228h0M513.5 414.7h0M517.6 408.5h0M523.7 408.5h0M529.8 408.5h0M531.9 422.9h0M515.5 437.2h0M519.6 437.2h0M517.6 457.7h0M523.7 463.8h0M523.7 494.5h0M511.4 398.3h0M507.3 390.1h0M527.8 398.3h0" stroke="#1f77b4" stroke-width="5.3" stroke-linecap="round" fill="none"/>
<path d="M117.5 346.4 L118.9 342.4 L120.7 342 L122.3 344.2 L123.9 351.3 L125.4 360.3 L127.1 358.8 L129 342 L130.9 329.2 L132.2 338.6 L133.5 349.8 L135 345.5 L136.7 340 L138.3 344.7 L139.9 349.5 L141.5 357.9 L143.1 370.3 L144.6 376.6 L146.3 378.2 L147.7 385.9 L149.2 392.8 L150.5 396.1 L151.7 391 L152.7 382.4 L154.2 372 L155.9 363 L157.5 372 L159.1 382.6 L160.6 377.5 L162.2 366.9 L163.6 358 L165.1 345.7 L166.5 340 L168.2 346.2 L169.7 357.9 L171.3 368.9 L172.9 377.3 L174.6 376.3 L176.1 369.1 L177.2 363 L178.2 353.9 L179.8 348.6 L181.4 345.1 L183 338.5 L184.6 330.5 L186 324.7 L187.5 316 L188.9 308.9 L190.6 313.9 L192.1 322.5 L193.6 316.4 L195.3 302.8 L196.6 294.2 L198.1 290 L199.6 288.7 L201 288.6 L202.5 288 L203.8 290.8 L205.5 296 L207 301 L208.6 302.8 L210.2 303.6 L211.6 300 L213.1 296.2 L214.5 296.4 L216.2 301.9 L217.7 306.6 L219.3 297.1 L220.9 288 L222.5 298.3 L224.1 306.5 L225.6 305.4 L227.3 299.5 L228.6 295.7 L230.1 296.3 L231.6 302.6 L233 312.4 L234.5 317.7 L235.8 319.8 L237.5 320.3 L239 320.7 L240.6 320.1 L242.2 320.9 L243.6 322.9 L245 324.4 L246.5 320 L248.1 305.5 L249.7 289.7 L251.2 282.3 L253.1 298.9 L255 329.4 L256.4 351.8 L257.9 377.4 L259.3 393.7 L261 390.7 L262.5 377.7 L264.1 366 L265.7 356.8 L267.3 354.9 L268.9 351.6 L270.4 344.4 L272.1 327.4 L273.5 303.7 L275 282.2 L276.3 269.1 L278 275.9 L279.5 291.4 L281.1 299 L282.7 300.7 L284.3 308.9 L285.9 315.4 L287.4 316.4 L288.9 316.8 L290 313.4 L290 304.4 L291.1 300.1 L292.7 297.5 L294.3 294.7 L295.7 291.3 L297.2 294.7 L298.5 298.9 L300.1 295.1 L301.7 288.4 L303.1 283.7 L304.6 281.3 L306 283.1 L307.7 294 L309.2 306.5 L310.9 321.7 L312.4 331.1 L313.5 314.7 L314.5 296.4 L316 300.2 L317.7 310.1 L319.1 315.8 L320.5 321.1 L322 326.1 L323.5 331.6 L324.9 339.3 L326.3 345.6 L328 339.7 L329.5 330.9 L330.5 333.8 L331.6 334.9 L333.1 327.5 L334.8 323.8 L336.3 328.8 L338 331.3 L339.7 323 L341.7 313.8 L343.3 313.2 L344.8 324.1 L345.9 330.7 L347.2 313.8 L348.6 295.8 L350.3 303.2 L351.8 312.9 L353 300 L354 288.6 L355 298.4 L356.1 307.7 L357 298.9 L358.2 291 L359.5 300 L361 314.9 L362.5 325.7 L364 324.4 L365.4 318.2 L366.8 309.8 L368.4 298.9 L370 293.4 L371.6 298.6 L373.2 309 L374.8 315.2 L376.4 321 L377.9 331 L379.6 336.7 L380.9 331.8 L382.4 328.3 L383.8 325.9 L385.9 337.4 L387.7 346.6 L388.9 339.6 L390.2 328.7 L391.5 323.9 L393 321.8 L394.5 319.6 L395.9 315.1 L397.3 311 L398.8 309.1 L400.2 307.2 L401.7 304.1 L403 300.9 L404.7 300.6 L406.2 301.6 L407.8 300 L409.4 294.4 L410.8 289.5 L412.2 285.4 L413.7 282.6 L415.1 282.6 L416.5 284.4 L418 287.2 L419.4 289.7 L420.8 294.2 L422.2 298.8 L423.6 303.5 L425.1 307.3 L426.5 311.8 L427.9 316.8 L429.3 317.4 L430.8 320.4 L432.2 329.7 L433.7 340.4 L435 348.7 L436.7 362.2 L438.2 371.3 L439.9 363.6 L441.4 348.2 L442.4 348.2 L443.6 351.3 L444.8 346.3 L446.3 339.9 L447.8 333.7 L449.2 326.2 L450.7 319.9 L452.1 314.6 L453.5 310.4 L455 307.6 L456.3 303.7 L458.2 297.3 L460 292.6 L461.6 290.4 L463.2 290.2 L464.6 293.6 L466.4 297.8 L467.8 299.1 L469.5 302.8 L471.2 302.8 L472.8 304.3 L474.7 310.2 L476.4 315.8 L478.1 315.9 L479.9 308.5 L481.7 298.4 L483.5 287.7 L485.3 278.6 L487.2 272.8 L488.8 268.3 L490.5 265.1 L492 264.1 L493.3 264.5 L494.7 265 L496.3 267.8 L498 273.4 L499.8 279.8 L501.6 288.7 L503.1 303.1 L504.5 316.4 L505.9 329.2 L507.3 335.1 L508.7 333.9 L510.1 334.1 L511.6 336.5 L513.1 342.6 L514.4 348 L515.6 340.7 L516.5 331.1 L517.5 333.7 L518.6 339.4 L520.1 335.9 L521.8 327.5 L523.2 320.8 L524.7 320.1 L526.1 322.3 L527.6 327.1 L529.3 331.3 L531 322.9 L532.9 309.1 L534.6 294.1 L536.2 282.8 L537.6 273.1 L538.9 272.4 L540.6 277.2 L542.1 278.9 L543.6 275.3 L545.3 268.6 L546.6 267.7 L548.1 269.8 L549.6 276.5 L551 272.8 L552.5 265.6 L553.8 262.4 L555.5 274.1 L557 287.8 L558.6 282.8 L560.2 279.8 L561.8 294.1 L563.4 306.1 L565 292.1 L566.6 281.8 L568.2 296.3 L569.8 306.9 L571.4 302.4 L573 298.1 L574.6 304.2 L576.2 306.2 L577.8 296.3 L579.4 294.4 L581 307.8 L582.6 309.5 L584.2 286.9 L585.8 268.4 L587.4 276.2 L589 285.8 L590.4 284 L591.8 282.2 L593.3 277.3 L594.8 278.6 L596.2 286.7 L597.6 293.6 L599.2 294.7 L600.8 292.1 L602.1 284.6 L603.6 272.9 L605 275.6 L606.4 290.4 L607.9 303.1 L609.3 306.4 L610.7 300.8 L612.1 291 L613.6 278.3 L615.2 271.1 L617.1 268 L618.9 263 L620.7 264.7 L622.5 269.1 L624.2 270.6 L625.8 266.2 L627.3 263.1 L628.5 264 L629.5 269.7 L630.6 276.2 L631.8 272.1 L633.3 266.9 L634.9 260.9 L636.7 255.3 L638.6 254.5 L640 252.4 L640.5 253.1 L641.5 261.7 L642.9 279.5 L644.6 291 L646 285.6 L647.7 277.5 L649.3 272.6 L650.7 268 L652.2 264.5 L653.5 262.5 L654.8 260.1 L656.5 255 L658.2 246.4 L659.8 243.2 L661.3 255.8 L663 271 L664.4 276.7 L666 273.6 L667.6 271 L669.2 273.7 L671 280.4 L672.8 284.6 L674.5 287.7 L676.1 287.7 L677.7 279.6 L679.4 274.2 L680.9 266.1 L682.5 257.2 L684.1 254.3 L685.6 249.1 L687.1 252.8 L688.4 267 L689.7 275.7 L691 267.3 L692.4 253.3 L693.8 244.6 L695.1 243.7 L696.5 248.8 L697.8 253.3 L699.2 257.6 L700.6 267.6 L701.9 273.5 L703.2 267.9 L704.5 265.1 L706 262.3 L707.4 263.6 L709 273.3 L710.6 283.3 L712.2 285.5 L713.7 287.8 L715.3 287.3 L716.8 282.4 L718.3 281 L719.9 276.4 L721.5 268.4 L723.1 262.9 L724.5 258.2 L726 259.9 L727.3 267.7 L728.6 274.5 L729.9 270.5 L731.3 261.6 L732.7 253.8 L734 251.3 L735.4 253.3 L736.8 255.1 L738.1 253 L739.3 252.9 L740.9 249.7 L742.3 245.7 L743.8 244.4 L745.4 246.3 L747 242.1 L748.5 242.1 L750.1 241.5 L751.6 234.3 L753.2 228.8 L754.7 228.3 L756.2 229.4 L757.8 228.6 L759.3 224.3 L760.9 219.4 L762.5 219.5 L764.1 221.8 L765.4 223.3 L767 234 L768.3 247.2 L769.5 252.2 L770.8 257.3 L772.1 259 L773.6 261.2 L775.1 261.5 L776.8 259.9 L778.4 262.7 L780 266.7 L781.8 268.7 L783.4 269.9 L785.1 270 L786.6 272.2 L788.2 276 L789.9 279.5 L791.5 279.4 L793.1 274.6 L794.6 272 L796.2 265.6 L797.9 261.2 L799.8 262.9 L801.8 270.3 L803.8 276 L805.6 277.5 L807.5 277 L809.1 273 L810.7 268.4 L812.4 266.3 L814.1 263 L815.9 261.8 L817.6 255.6 L819.4 246.7 L821 241.3 L822.8 256.7 L824.8 269.3 L826.3 263 L828 249.2 L829.7 238.3 L831.2 230.4 L833.2 238.6 L835.1 250.3 L836.7 255.4 L838.5 263.2 L840.2 262.6 L842.1 259.8 L844 260.4 L845.7 268 L847.5 277.7 L849.1 284.3 L851.1 278.4 L853 270.7 L854.9 278.7 L856.8 290.5 L858.8 287.4 L860.7 279.2 L862 284.9 L863.2 287.8 L864.4 280.1 L865.8 269.7 L867.6 258.4 L869.6 247 L871.5 259.8 L873.5 275.9 L875.1 273.7 L876.8 267 L878.6 265.2 L880.3 274.7 L882.1 289.7 L883.7 297.4 L885.6 289.5 L887.6 274.5 L889.2 269.6 L891 262.3 L892.7 251.4 L894.7 246.9 L896.5 253.4 L898.4 266.7 L900.4 273.5 L902.3 265.2 L904.2 259.9 L906.1 261.7 L908 264.1 L910 264.8 L911.9 268 L913.8 262.2 L915.7 258.1 L917.6 268.7 L919.6 279.2 L921.5 276 L923.4 267 L925.3 264.4 L927.2 266.6 L929.2 270.9 L931.1 272.9 L933 262.5 L934.9 250.2 L936.8 256.5 L938.8 269 L940.4 274.8 L942.2 279.4 L943.9 282 L945.9 282.8 L947.7 284.2 L949.6 284 L951.6 278.8 L953.2 275.7 L954.9 276.5 L956.7 274.3 L958.4 271.4 L960.1 273.2 L961.8 273.4 L963.5 277.2 L965.2 285.2 L966.9 286.2 L968.7 276.4 L970.4 265.9 L972.1 262.2 L974.1 273.4 L975.9 283.1 L977.8 277.6 L979.7 270.7 L981.7 279.4 L983.6 288 L985.4 280.2 L987.4 274.4 L989 275.1 L990.6 278.5 L992.5 280.5 L994.4 282.5 L996.6 284 L998.6 282.5 L1000 284.3 L1000 293.9 L1001.7 286.9 L1003.8 280.1 L1005.8 279.7 L1007.7 280.9 L1009.7 277.7 L1011.5 273.7 L1012.8 283.8 L1014.1 291.7 L1015.9 283 L1017.9 271.1 L1019.9 269 L1021.8 275.1 L1023 295.4 L1024.3 309.8 L1026.2 301.4 L1028.2 288.3 L1030.1 279.2 L1032 271.9 L1033.9 274.2 L1035.9 277.3 L1037.9 285.8 L1039.7 292.9 L1041 272.3 L1042.3 254.5 L1043.9 269.8 L1045.6 290.5 L1047.2 280.3 L1048.7 267.1 L1049.9 279.3 L1051.2 292.8 L1053.1 287.3 L1055.1 281 L1057 282.9 L1058.9 287.8 L1060.8 282.3 L1062.7 268.8 L1064.7 269.8 L1066.6 278 L1068.5 277.8 L1070.4 275.1 L1072.4 278.4 L1074.3 281.7 L1075.5 286.2 L1076.8 293.6 L1078.6 298.5 L1080.7 302.4 L1082.3 299.3 L1084.1 292.9 L1085.8 285.4 L1087.8 290.6 L1089.6 297.4 L1091.2 280.1 L1092.7 263 L1094.4 278 L1096 299.1 L1097.3 290.2 L1098.6 273.9 L1100.4 277.7 L1102.4 286.2 L1104.1 287.3 L1105.9 282.8 L1107.6 277.7 L1109.6 287.3 L1111.4 297.7 L1113.3 294.1 L1115.2 287.3 L1117.2 282.8 L1119.1 278.3 L1121 282.6 L1122.9 292.4 L1124.8 295.5 L1126.8 294.2 L1128.6 293.3 L1130.6 293.7 L1132.2 296.2 L1134 297.9 L1135.7 298.2 L1137.5 292.7 L1139.2 285.3 L1140.8 284.8 L1142.8 293.8 L1144.7 300.7 L1146.5 288.7 L1148.5 281.1 L1150.2 286.4 L1152 292.8 L1153.6 301.5 L1155.6 308.3 L1157.5 309.9 L1159.4 302.9 L1161.3 293.2 L1163.3 290.7 L1165.2 290.4 L1167 295.6 L1169 299.6 L1170.6 297.5 L1172.3 293.1 L1174.1 287.3 L1175.7 290.1 L1177.4 292.3 L1179.1 290.4 L1180.5 287.8 L1182.5 291.2 L1184.4 298 L1186 302.1 L1187.8 305.5 L1189.5 306.1 L1191.5 300.9 L1193.3 298 L1195.3 305.5 L1197.2 303.7 L1199.1 294.6 L1201 295.8 L1202.9 301.8 L1204.9 304.9 L1206.5 304.3 L1208.3 300 L1210 295.2 L1211.8 292 L1213.8 290.1 L1215.3 293.2 L1217.1 299.5 L1218.8 307.6 L1220 311.6 L1220 298.3 L1221.2 298.9 L1223 299.9 L1225 304.1 L1226.4 307.7 L1228 307 L1229.6 304.1 L1231.1 300.3 L1232.7 297.3 L1234.3 299.8 L1235.9 303.2 L1237.3 310 L1239.1 311.1 L1240.8 305.4 L1242.3 301.2 L1244.2 300.9 L1246 302.8 L1247.8 311.9 L1249.7 319.4 L1251.3 317.1 L1253 311.2 L1254.7 307.4 L1256.3 308.1 L1258 308.1 L1259.6 307 L1261.3 307.8 L1262.9 307.5 L1264.6 305.3 L1266.2 305.1 L1267.9 305.9 L1269.5 308.6 L1271.1 307.4 L1272.7 305.6 L1274.5 305.9 L1276 306.2 L1277.6 306.3 L1279.2 308 L1280.6 308.4 L1282.7 307.8 L1284.4 307.6 L1286.2 310.5 L1288.1 315.2 L1290 313.1 L1291.8 310.6 L1292.9 316.1 L1294.3 318.4 L1295.8 316 L1297.6 315.5 L1299.2 315.2 L1300.5 311.9 L1301.7 309.4 L1303.5 312.7 L1305.4 315.6 L1307.2 315.6 L1309.1 315.6 L1310.7 317.8 L1312.5 322.4 L1314.1 324.1 L1315.9 318.5 L1317.8 313.1 L1319.4 314.5 L1321.1 314.3 L1322.7 312.3 L1324.7 316.7 L1326.4 320.2 L1328.3 317 L1330.1 315 L1331.9 314.9 L1333.9 314.2 L1335.4 316.1 L1337.1 319.5 L1338.8 319.9 L1340.5 318.9 L1342.1 318.9 L1343.8 318.1 L1345.4 320.6 L1347.1 324.9 L1348.7 326.6 L1350.4 325.6 L1352 324.1 L1353.7 324.7 L1355.3 325.8 L1357 323.5 L1358.6 321.8 L1360.4 321.3 L1362.1 319.4 L1363.6 318.1 L1364.8 315.3 L1366 314.3 L1367.6 317 L1369.3 321.9 L1371 324.8 L1372.8 321.1 L1374.7 320.5 L1376.3 326 L1378 331.9 L1379.7 335.6 L1381.5 329.3 L1383.4 320.5 L1384.9 319.2 L1386.6 318.7 L1388.3 320.1 L1390 320.7 L1391.6 325.7 L1393.3 331.1 L1394.9 329.5 L1396.6 325.7 L1398.2 319.8 L1399.9 322.7 L1401.5 329.6 L1403.2 331.9 L1404.8 328 L1406.5 323.1 L1408.1 323.3 L1409.8 329.5 L1411.4 337.1 L1413.1 341.9 L1414.7 341.5 L1416.4 341.5 L1418 342.4 L1419.7 342.6 L1421.3 339.2 L1423 336.7 L1424.6 336 L1426.3 337 L1427.9 339.6 L1429.5 345.2 L1431.1 348.6 L1432.9 345.3 L1434.4 340.3 L1436 338.5 L1437.6 336.3 L1439.1 336.2 L1440.8 342.4 L1442.4 349.4 L1444 352.9 L1445.7 351.4 L1447.3 349.6 L1449 347.5 L1450.6 345.1 L1452.3 340.6 L1453.9 339.5 L1455.4 340.1 L1456.9 341 L1458.9 341.7 L1460.5 342.3 L1462.5 340.4 L1464.5 339.9 L1466.3 342.4 L1467.5 347" stroke="#ff7f0e" stroke-width="2.08" stroke-linejoin="round" fill="none"/>
</g>
<rect x="1048.4" y="49.4" width="404.9" height="78.6" rx="3.7" fill="#ffffff" fill-opacity="0.8" stroke="#cccccc" stroke-opacity="0.8" stroke-width="1.1"/>
<circle cx="1073.5" cy="63.3" r="2.75" fill="#1f77b4"/>
<path d="M1052.8 101.7H1092.1" stroke="#ff7f0e" stroke-width="2.08"/>
<g style="opacity:0.999">
<text font-size="18.5" transform="matrix(1.1699 0 0 1.0077 1106.03 69.10)">Raw Data</text>
<text font-size="18.5" transform="matrix(1.2140 0 0 0.9769 1105.99 96.00)">Butterworth Filtered Data</text>
<text font-size="18.5" transform="matrix(1.2247 0 0 0.9353 1105.98 115.16)">(N=6, Tc=3.3333 min, Type: low)</text>
</g>
<rect x="116.5" y="38.5" width="1346.0" height="479.0" fill="none" stroke="#000" stroke-width="1.1"/>
<path d="M116.50 517.5v5.2M284.50 517.5v5.2M452.50 517.5v5.2M620.50 517.5v5.2M789.50 517.5v5.2M957.50 517.5v5.2M1125.50 517.5v5.2M1293.50 517.5v5.2M116.5 85.50h-5.2M116.5 191.50h-5.2M116.5 297.50h-5.2M116.5 403.50h-5.2M116.5 509.50h-5.2" stroke="#000" stroke-width="1.1"/>
<clipPath id="clipbot"><rect x="116.5" y="576.5" width="1346.0" height="478.0"/></clipPath>
<rect x="703.0" y="576.5" width="734.6" height="478.0" fill="#e6e6e6"/>
<path d="M284.50 576.5V1054.5M452.50 576.5V1054.5M620.50 576.5V1054.5M789.50 576.5V1054.5M957.50 576.5V1054.5M1125.50 576.5V1054.5M1293.50 576.5V1054.5M116.5 627.50H1462.5M116.5 695.50H1462.5M116.5 763.50H1462.5M116.5 831.50H1462.5M116.5 899.50H1462.5M116.5 966.50H1462.5M116.5 1034.50H1462.5" stroke="#b0b0b0" stroke-width="1.1" stroke-dasharray="1.1 1.83" fill="none"/>
<g clip-path="url(#clipbot)">
<path d="M116 940.6 L119 944.5 L122 949.3 L125 954.1 L128 958.9 L131 962.2 L134 965.2 L137 968.2 L140 956.5 L143 940 L146 923.5 L149 917.1 L152 915.6 L155 914.1 L158 910 L161 904 L164 898 L167 895 L170 895 L173 895 L176 895 L179 895 L182 892.3 L185 889.3 L188 886.3 L191 883.3 L194 881.9 L197 884.9 L200 887.9 L203 889.8 L206 886.8 L209 883.8 L212 880.8 L215 877.8 L218 878.2 L221 881.2 L224 884.2 L227 887.2 L230 890.2 L233 889 L236 887.5 L239 886 L242 888.3 L245 891.3 L248 894.3 L251 886.9 L254 876.4 L257 865.9 L260 858.5 L263 852.5 L266 846.5 L269 846 L272 849 L275 852 L278 850.3 L281 844.3 L284 838.3 L287 833.6 L290 830.6 L293 827.6 L296 823.5 L299 817.5 L302 811.5 L305 812.7 L308 832.7 L311 852.7 L314 911.2 L317 954.3 L320 974.3 L323 992.1 L326 992.1 L329 992.1 L332 992 L335 989 L338 986 L341 983 L344 985.7 L347 988.7 L350 991.7 L353 988.2 L356 983.7 L359 979.2 L362 972.4 L365 964.9 L368 957.4 L371 955.1 L374 955.1 L377 955.1 L380 953.2 L383 950.2 L386 947.2 L389 945.9 L392 945.9 L395 945.9 L398 945.9 L401 945.9 L404 945.9 L407 943.6 L410 937.6 L413 931.6 L416 924.8 L419 915.8 L422 906.8 L425 897.8 L428 889.3 L431 884.2 L434 870.8 L437 861.8 L440 852.8 L443 844 L446 841 L449 838 L452 835 L455 836.3 L458 837.8 L461 839.3 L464 843.5 L467 848 L470 852.5 L473 858.2 L476 864.2 L479 870.2 L482 876.2 L485 882.2 L488 888.2 L491 892.3 L494 895.3 L497 898.3 L500 926 L503 973.8 L506 991.8 L509 1009.8 L512 1018 L515 1022 L518 1024.3 L521 1014.8 L524 1014.8 L527 1014.8 L530 1014.7 L533 1014.5 L536 1014.3 L539 1014.4 L542 1014.9 L545 1015.4 L548 1015.9 L551 1016.3 L554 1016.8 L557 1016.9 L560 1017.1 L563 1017.2 L566 1017.3 L569 1017.4 L572 1017.5 L575 1017.6 L578 1017.6 L581 1017.6 L584 1017.6 L587 1017.6 L590 1017.6 L593 1017.6 L596 1017.6 L599 1017.6 L602 1017.6 L605 1017.6 L608 1017.6 L611 1017.6 L614 1017.6 L617 1017.6 L620 1017.6 L623 1017.6 L626 1017.6 L629 1017.6 L632 1017.6 L635 1017.6 L638 1017.6 L641 1017.6 L644 1017.7 L647 1018 L650 1018.3 L653 1018.6 L656 1018.9 L659 1018.9 L662 1018.9 L665 1018.9 L668 1018.9 L671 1018.9 L674 1018.9 L677 1018.9 L680 1018.9 L683 1018.9 L686 1018.9 L689 1018.9 L692 1018.9 L695 1018.9 L698 1018.8 L701 1018.6 L704 1018.4 L707 1018.2 L710 1018 L713 1017.8 L716 1017.6 L719 1017.4 L722 1017.2 L725 1017 L728 1015.9 L731 1003.9 L734 994.1 L737 988.4 L740 988.4 L743 988.4 L746 984.4 L749 978.4 L752 970.4 L755 933.5 L758 939.5 L761 939.5 L764 939.5 L767 950.7 L770 962.7 L773 962.7 L776 962.7 L779 962.7 L782 962.7 L785 981.6 L788 989.6 L791 995 L794 995 L797 995 L800 995 L803 995 L806 987.8 L809 987.8 L812 996.6 L815 1000.3 L818 1000.3 L821 1000.3 L824 1008.1 L827 1013.8 L830 1015.3 L833 1016.8 L836 1016.8 L839 1016.8 L842 1016.8 L845 1016.8 L848 1016.1 L851 1013.9 L854 1011.6 L857 1009.3 L860 1008.6 L863 1008.6 L866 1012.1 L869 1012.1 L872 1012.1 L875 1012.1 L878 1012.1 L881 1011.1 L884 1010.4 L887 1010.4 L890 1010.4 L893 1010.4 L896 1009 L899 998 L902 984.5 L905 955.2 L908 963.5 L911 963.5 L914 963.5 L917 963.5 L920 964.6 L923 980.2 L926 980.2 L929 980.2 L932 980.2 L935 980.2 L938 979.6 L941 979.6 L944 979.6 L947 976.8 L950 989.4 L953 996.6 L956 1001.1 L959 1004.7 L962 1004.7 L965 1004.7 L968 1004.7 L971 1004.7 L974 1004.7 L977 1007.1 L980 1010.1 L983 1012.7 L986 1012.7 L989 1012.7 L992 1012.7 L995 1012.7 L998 1012.4 L1001 1011.7 L1004 1010.9 L1007 1010.2 L1010 1009.4 L1013 1008.8 L1016 1010.6 L1019 1012.4 L1022 1014.2 L1025 1014.8 L1028 1014.8 L1031 1014.8 L1034 1014.8 L1037 1014.8 L1040 1012.8 L1043 1012.8 L1046 1012.8 L1049 1012.8 L1052 1012.8 L1055 1012.8 L1058 1012.8 L1061 1012.8 L1064 1011.4 L1067 1009.9 L1070 1007.5 L1073 1001.5 L1076 988.2 L1079 988.2 L1082 988.2 L1085 986.2 L1088 994.9 L1091 1001.5 L1094 1003.5 L1097 1004.2 L1100 1004.2 L1103 1004.2 L1106 1004.2 L1109 1004.2 L1112 1002.7 L1115 1004.2 L1118 1005.7 L1121 1006.7 L1124 1006.7 L1127 1006.7 L1130 1006.7 L1133 1006.7 L1136 1006.4 L1139 1005.9 L1142 1005.4 L1145 1004.9 L1148 1004.1 L1151 1004 L1154 1005.5 L1157 1006.6 L1160 1006.6 L1163 1006.6 L1166 1006.6 L1169 1006.6 L1172 1006.5 L1175 1006 L1178 1005.5 L1181 1005 L1184 1003.3 L1187 1002 L1190 1004.5 L1193 1004.5 L1196 1004.5 L1199 1004.5 L1202 1004.5 L1205 1002.4 L1208 1004.7 L1211 1004.7 L1214 1004.7 L1217 1004.7 L1220 1004.7 L1223 1002 L1226 998.4 L1229 988 L1232 989.5 L1235 1001.5 L1238 1003 L1241 1004.5 L1244 1004.5 L1247 1004.5 L1250 1004.5 L1253 1004.5 L1256 1002.6 L1259 999.6 L1262 999.6 L1265 999.6 L1268 999.6 L1271 999.6 L1274 1004 L1277 1004 L1280 1004 L1283 1004 L1286 1004 L1289 1003.1 L1292 1003.1 L1295 983.8 L1298 983 L1301 976.4 L1304 1002.5 L1307 1014.4 L1310 1014.4 L1313 1003.7 L1316 987.7 L1319 969.1 L1322 969.4 L1325 969.4 L1328 969.4 L1331 962.4 L1334 957.9 L1337 957.9 L1340 957.9 L1343 956.2 L1346 950.2 L1349 955.5 L1352 957.5 L1355 957.5 L1358 957.5 L1361 942.8 L1364 955.5 L1367 956.2 L1370 956.2 L1373 956.2 L1376 964.1 L1379 965.2 L1382 965.2 L1385 965.2 L1388 959.2 L1391 941.8 L1394 957.5 L1397 957.5 L1400 957.5 L1403 953.5 L1406 955.6 L1409 956.8 L1412 956.8 L1415 956.8 L1418 940.4 L1421 949.7 L1424 949.7 L1427 949.7 L1430 933.3 L1433 916.7 L1436 908.2 L1439 919.9 L1442 923.9 L1445 925.3 L1448 925.3 L1451 925.3 L1454 920.2 L1457 914.2 L1460 909 L1463 907 L1463 907 L1463 1017 L1463 1017 L1460 1017.3 L1457 1017.7 L1454 1018.1 L1451 1018.5 L1448 1018.9 L1445 1019.3 L1442 1019.7 L1439 1020.6 L1436 1022.4 L1433 1024.2 L1430 1026 L1427 1025.8 L1424 1025.6 L1421 1025.5 L1418 1025.3 L1415 1025.1 L1412 1024.9 L1409 1024.7 L1406 1024.5 L1403 1024.4 L1400 1024.2 L1397 1024 L1394 1021 L1391 1018 L1388 1024.8 L1385 1026.8 L1382 1026.4 L1379 1026.1 L1376 1025.7 L1373 1025.4 L1370 1025 L1367 1025.3 L1364 1025.6 L1361 1025.9 L1358 1026.2 L1355 1026.5 L1352 1026.8 L1349 1027.1 L1346 1027.4 L1343 1027.6 L1340 1027.7 L1337 1027.8 L1334 1027.9 L1331 1028 L1328 1028.1 L1325 1028.2 L1322 1028.3 L1319 1028.4 L1316 1028.5 L1313 1028.6 L1310 1028.7 L1307 1028.8 L1304 1028.9 L1301 1029 L1298 1029.1 L1295 1029.2 L1292 1029.2 L1289 1029.3 L1286 1029.4 L1283 1029.5 L1280 1029.6 L1277 1029.7 L1274 1029.8 L1271 1029.9 L1268 1030 L1265 1030 L1262 1030.1 L1259 1030.2 L1256 1030.3 L1253 1030.4 L1250 1030.5 L1247 1030.6 L1244 1030.7 L1241 1030.8 L1238 1030.9 L1235 1031 L1232 1031 L1229 1031.1 L1226 1031.2 L1223 1031.3 L1220 1031.4 L1217 1031.5 L1214 1031.6 L1211 1031.7 L1208 1031.8 L1205 1031.8 L1202 1031.9 L1199 1032 L1196 1032 L1193 1032 L1190 1032 L1187 1032 L1184 1032 L1181 1032 L1178 1032 L1175 1032 L1172 1032 L1169 1032 L1166 1032 L1163 1032 L1160 1032 L1157 1032 L1154 1032 L1151 1032 L1148 1032 L1145 1032 L1142 1032 L1139 1032 L1136 1032 L1133 1032 L1130 1032 L1127 1032 L1124 1032 L1121 1032 L1118 1032 L1115 1032 L1112 1032 L1109 1032 L1106 1032 L1103 1032 L1100 1032 L1097 1031.9 L1094 1031.9 L1091 1031.8 L1088 1031.7 L1085 1031.7 L1082 1031.6 L1079 1031.6 L1076 1031.5 L1073 1031.4 L1070 1031.4 L1067 1031.3 L1064 1031.2 L1061 1031.2 L1058 1031.1 L1055 1031 L1052 1031 L1049 1030.9 L1046 1030.9 L1043 1030.8 L1040 1030.7 L1037 1030.7 L1034 1030.6 L1031 1030.5 L1028 1030.5 L1025 1030.5 L1022 1030.5 L1019 1030.5 L1016 1030.5 L1013 1030.5 L1010 1030.5 L1007 1030.5 L1004 1030.5 L1001 1030.5 L998 1030.3 L995 1030.2 L992 1030 L989 1029.9 L986 1029.7 L983 1029.6 L980 1029.4 L977 1029.3 L974 1029.1 L971 1029 L968 1028.8 L965 1028.7 L962 1028.5 L959 1028.4 L956 1028.2 L953 1027.9 L950 1027.6 L947 1027.3 L944 1027 L941 1026.7 L938 1026.4 L935 1026.1 L932 1025.9 L929 1025.7 L926 1025.6 L923 1025.4 L920 1025.3 L917 1025.1 L914 1025 L911 1024.8 L908 1025 L905 1025.5 L902 1026 L899 1026.5 L896 1027 L893 1027.4 L890 1027.7 L887 1028 L884 1028.4 L881 1028.7 L878 1029 L875 1029.4 L872 1029.4 L869 1029.4 L866 1029.4 L863 1029.4 L860 1029.4 L857 1029.4 L854 1029.4 L851 1029.3 L848 1029 L845 1028.7 L842 1028.4 L839 1028.1 L836 1027.8 L833 1027.5 L830 1027.2 L827 1027 L824 1026.8 L821 1026.7 L818 1026.5 L815 1026.4 L812 1026.2 L809 1026.1 L806 1025.9 L803 1025.7 L800 1025.5 L797 1025.3 L794 1025.1 L791 1024.9 L788 1024.3 L785 1023.3 L782 1022.3 L779 1021.3 L776 1020.3 L773 1017.9 L770 1015.3 L767 1012.7 L764 1012.8 L761 1013.8 L758 1015.3 L755 1017.6 L752 1019.8 L749 1021.6 L746 1022.6 L743 1023.6 L740 1024.6 L737 1025.6 L734 1026.1 L731 1026.4 L728 1026.7 L725 1027 L722 1029.7 L719 1031.7 L716 1031.7 L713 1031.7 L710 1031.7 L707 1031.7 L704 1031.7 L701 1031.7 L698 1031.7 L695 1031.6 L692 1031.5 L689 1031.5 L686 1031.5 L683 1031.5 L680 1031.5 L677 1031.5 L674 1031.5 L671 1031.5 L668 1031.5 L665 1031.5 L662 1031.5 L659 1031.5 L656 1031.5 L653 1031.5 L650 1031.5 L647 1031.6 L644 1031.6 L641 1031.7 L638 1031.8 L635 1031.9 L632 1031.9 L629 1032 L626 1032.1 L623 1032.2 L620 1032.1 L617 1032.1 L614 1032 L611 1031.9 L608 1031.8 L605 1031.7 L602 1031.6 L599 1031.5 L596 1031.4 L593 1031.3 L590 1031.2 L587 1031.2 L584 1031.1 L581 1031 L578 1031 L575 1031 L572 1031 L569 1031 L566 1031 L563 1031 L560 1031 L557 1031 L554 1031 L551 1031 L548 1031 L545 1031 L542 1031 L539 1031 L536 1031 L533 1031 L530 1031 L527 1031 L524 1031.1 L521 1031.2 L518 1028.3 L515 1027 L512 1027 L509 1026.8 L506 1025.7 L503 1024.5 L500 1023.4 L497 1022.6 L494 1022.2 L491 1021.9 L488 1021.5 L485 1020.2 L482 1018.3 L479 1016.4 L476 1014.5 L473 1013 L470 1011.5 L467 1010 L464 1008.5 L461 1007 L458 1005.5 L455 1004 L452 1002.7 L449 1002.1 L446 1001.5 L443 1000.9 L440 1000.3 L437 1000.6 L434 1002.1 L431 1003.6 L428 1005.1 L425 1006.6 L422 1007.6 L419 1008.4 L416 1009.1 L413 1009.9 L410 1010.9 L407 1012.1 L404 1013.2 L401 1014.3 L398 1015.4 L395 1016.6 L392 1017.7 L389 1018.3 L386 1017.5 L383 1016.8 L380 1016 L377 1016.2 L374 1017.3 L371 1018.4 L368 1019.6 L365 1020.4 L362 1021.2 L359 1021.9 L356 1022.7 L353 1023.6 L350 1024.6 L347 1025.6 L344 1024.6 L341 1023.6 L338 1022.8 L335 1023.2 L332 1023.6 L329 1024 L326 1024 L323 1023.5 L320 1023 L317 1020.6 L314 1016.1 L311 1007.3 L308 995.3 L305 986.9 L302 992.9 L299 997.8 L296 1000.2 L293 1002.6 L290 1001 L287 999 L284 997.1 L281 998.1 L278 999.1 L275 999.7 L272 998.7 L269 997.7 L266 996.7 L263 995.7 L260 994.7 L257 995.7 L254 998.7 L251 1001.7 L248 1005.4 L245 1009.4 L242 1013.4 L239 1010.3 L236 1005.3 L233 1000.3 L230 999 L227 998 L224 997.3 L221 999.8 L218 1002.3 L215 1004.6 L212 1006.1 L209 1007.6 L206 1009.1 L203 1009.3 L200 1007.8 L197 1006.3 L194 1005 L191 1003.8 L188 1003.3 L185 1006.3 L182 1009.3 L179 1010.4 L176 1007.4 L173 1004.4 L170 1001.4 L167 998.4 L164 995.4 L161 997.9 L158 1003.9 L155 1008.1 L152 1006.1 L149 1004.1 L146 1004.7 L143 1009.7 L140 1014.7 L137 1018.2 L134 1020.5 L131 1021.1 L128 1020.6 L125 1020.1 L122 1020.8 L119 1022 L116 1022.8 Z" fill="#1f77b4" stroke="#1f77b4" stroke-width="5.3" stroke-linejoin="round"/>
<path d="M721.6 1017.2V1013.5M723.2 1017.1V1009.3M724.8 1017V1008.4M726.4 1016.9V1009.6M728 1015.9V1003.7M729.6 1007.9V996.7M731.2 1003.9V989.7M732.8 997.1V981.8M734.4 994.1V984.3M736 988.4V987.4M737.6 988.4V986.7M739.2 988.4V984.4M740.8 988.4V980.5M742.4 988.4V982.9M744 988.4V975M745.6 984.4V976.3M747.2 982.4V965.2M748.8 978.4V918.6M750.4 976.4V893.3M752 970.4V862.3M753.6 964.4V885.7M755.2 933.5V886.2M756.8 937.5V914.6M758.4 939.5V897.5M760 939.5V918.8M761.6 939.5V934.1M763.2 939.5V937.6M764.8 941.3V940M766.4 946.3V940.5M768 954.7V941.6M769.6 962.7V946.5M771.2 962.7V945.8M772.8 962.7V947M774.4 962.7V951.2M776 962.7V959.2M777.6 962.7V961.2M779.2 962.7V956.9M780.8 962.7V943.2M782.4 962.7V945.8M784 976V944.9M785.6 984.3V935.3M787.2 987V957.5M788.8 992.3V960.5M790.4 995V976.3M792 995V988.3M793.6 995V989.3M795.2 995V989.9M798.4 995V993.3M800 995V977.9M801.6 995V967.6M803.2 995V972.7M804.8 993.2V980.5M806.4 987.8V980.6M809.6 987.8V983.8M811.2 992V985.7M812.8 1000.3V978.3M814.4 1000.3V980.2M816 1000.3V987.8M817.6 1000.3V992.1M819.2 1000.3V997.1M820.8 1000.3V998.2M822.4 1000.3V995.1M824 1008.1V997M825.6 1013.3V996.3M827.2 1013.8V989.7M828.8 1014.8V1006.5M830.4 1015.3V1004.5M832 1016.3V1013.9M833.6 1016.8V1015.3M835.2 1016.8V1014.3M843.2 1016.8V1014.8M844.8 1016.8V1014.2M846.4 1016.8V1014M848 1016.1V1011.3M849.6 1014.6V1009.8M851.2 1013.9V1010.2M852.8 1012.3V1010.4M854.4 1011.6V1007.7M856 1010.1V1005.7M857.6 1008.6V1006.7M859.2 1008.6V1006.7M864 1008.6V1005.5M865.6 1012.1V1004.5M867.2 1012.1V1000.2M868.8 1012.1V1006.3M870.4 1012.1V1005.6M875.2 1012.1V1010.2M876.8 1012.1V1009.6M878.4 1012.1V1009.2M880 1012.1V1006.2M881.6 1010.4V1007.4M883.2 1010.4V1008.4M884.8 1010.4V1008.5M889.6 1010.4V1007.4M891.2 1010.4V1002.7M892.8 1010.4V997.3M894.4 1010.4V997.8M896 1009V975.5M897.6 1001.7V963M899.2 998V950M900.8 990.7V930.1M902.4 984.5V932.9M904 964.5V906.4M905.6 951.5V925.1M907.2 958.5V933.9M908.8 963.5V935.1M910.4 963.5V948M912 963.5V950.8M913.6 963.5V962.1M916.8 963.5V956.1M918.4 963.5V951.8M920 964.6V950.5M921.6 980.2V952.8M923.2 980.2V955.3M924.8 980.2V957.6M926.4 980.2V962.6M928 980.2V979.3M929.6 980.2V973.7M931.2 980.2V964.2M932.8 980.2V951.3M934.4 980.2V939.8M936 980.2V964.2M937.6 979.6V972.7M940.8 979.6V972.9M942.4 979.6V972.7M944 979.6V951.3M945.6 979.6V970.2M947.2 976.8V906.9M948.8 978.4V903.1M950.4 989.4V915.2M952 995.1V934.8M953.6 998.1V956.7M955.2 999.6V973.4M956.8 1002.6V990.2M958.4 1004.1V997.9M960 1004.7V997.1M961.6 1004.7V1001.7M963.2 1004.7V1001.3M977.6 1008.1V1005M979.2 1009.1V1005.2M980.8 1011.1V1005.2M982.4 1012.1V1007.1M984 1012.7V1007.5M985.6 1012.7V1009.2M987.2 1012.7V1010.5M996.8 1012.7V1011.1M998.4 1012.4V1011.3M1000 1011.9V1010.6M1001.6 1011.4V1009.9M1003.2 1011.2V1009.7M1004.8 1010.7V1009.2M1006.4 1010.4V1009.4M1008 1009.9V1008.7M1009.6 1009.4V1003.8M1011.2 1009.2V1001.4M1012.8 1008.8V998M1014.4 1009.4V1002.4M1016 1010.6V1000.9M1017.6 1011.8V1007M1019.2 1012.4V1006.8M1020.8 1013.6V1010.3M1022.4 1014.2V1010.2M1024 1014.8V1011.7M1025.6 1014.8V1012.7M1027.2 1014.8V1014M1032 1014.8V1013.7M1033.6 1014.8V1012.8M1035.2 1014.8V1014M1036.8 1014.8V1013.1M1057.6 1012.8V1010.9M1059.2 1012.8V1010.7M1060.8 1012.8V1009.9M1062.4 1012.4V1009.3M1064 1011.4V1005.9M1065.6 1010.4V1004.2M1067.2 1009.9V1004.5M1068.8 1008.9V993.2M1070.4 1007.5V974M1072 1003.5V967.1M1073.6 999.5V985.3M1075.2 997.5V990.1M1078.4 988.2V986.7M1080 988.2V985.3M1081.6 988.2V979.8M1083.2 987.5V978.2M1084.8 986.2V970.7M1086.4 988.2V974.1M1088 994.9V970.6M1089.6 1000.8V978.8M1091.2 1001.5V991.2M1092.8 1002.8V998.6M1094.4 1003.5V994.3M1096 1004.2V1000.3M1097.6 1004.2V1003.6M1099.2 1004.2V1003M1104 1004.2V1002.2M1105.6 1004.2V998.9M1107.2 1004.2V996.5M1108.8 1004.2V993.4M1110.4 1004.2V996.3M1112 1002.7V993.4M1113.6 1003.7V998.4M1115.2 1004.2V1001.4M1116.8 1005.2V1001.7M1118.4 1005.7V1002.6M1120 1006.7V1004M1121.6 1006.7V1005.4M1123.2 1006.7V1004.7M1142.4 1005.4V1004.8M1144 1005.1V1003.5M1145.6 1004.7V1003.1M1147.2 1004.4V1002.3M1148.8 1003.8V1002M1150.4 1003.5V1002.5M1152 1004.5V1001.8M1153.6 1005.5V1004.3M1155.2 1006V1003M1156.8 1006.6V1003.6M1158.4 1006.6V1004.3M1160 1006.6V1005M1176 1005.8V1004.5M1177.6 1005.5V1002.8M1179.2 1005.3V1001.9M1180.8 1005V1003.1M1182.4 1004.8V1000.2M1184 1003.3V997.7M1185.6 1001.3V995.5M1187.2 1002V993.6M1188.8 1004.5V995.5M1190.4 1004.5V998.3M1192 1004.5V999M1193.6 1004.5V1002.3M1198.4 1004.5V1003.5M1200 1004.5V1001M1201.6 1004.5V1000M1203.2 1004.5V998.8M1204.8 1002.4V995.9M1206.4 1002.9V994.3M1208 1004.7V995.1M1209.6 1004.7V997.7M1211.2 1004.7V1000.2M1212.8 1004.7V1003.8M1216 1004.7V1002.4M1217.6 1004.7V999.5M1219.2 1004.7V999.9M1220.8 1004.7V998.5M1222.4 1003.4V996.1M1224 1000.7V969.7M1225.6 998.4V984.1M1227.2 998.4V984.4M1228.8 988V985.7M1230.4 988V981.4M1232 989.5V978.4M1233.6 1001V963.1M1235.2 1001.5V958.9M1236.8 1002.5V976.8M1238.4 1003V989.7M1240 1004V999.5M1241.6 1004.5V1002.7M1243.2 1004.5V1002.1M1249.6 1004.5V999.9M1251.2 1004.5V1000.3M1252.8 1004.5V996.7M1254.4 1004.5V989.7M1256 1002.6V988.7M1257.6 999.6V991.5M1259.2 999.6V992.1M1260.8 999.6V996.7M1262.4 999.6V994.7M1265.6 999.6V998.5M1267.2 999.6V997.8M1268.8 999.6V994.2M1270.4 999.6V996.3M1272 999.6V986.6M1273.6 1004V983.4M1275.2 1004V985.8M1276.8 1004V990.1M1278.4 1004V994.3M1280 1004V1002.3M1281.6 1004V1002.9M1283.2 1004V1000.4M1284.8 1004V1002.3M1286.4 1004V994.2M1288 1004V995.7M1289.6 1003.1V999.5M1291.2 1003.1V1002M1294.4 992.6V988.4M1296 976.8V961.8M1297.6 983V967.9M1299.2 981.2V973.5M730.9 1004.4V983.8M751.1 973.1V852.6M768.1 955V930.6M783.5 971.7V911.2M789.5 993.7V962.6M802.9 995V964.9M813.8 1000.3V971.9M825.9 1013.3V984M903.9 965.5V862.5M948 972.8V948.4M933.8 980.2V965.7M918.9 963.5V947.9M910.8 963.5V935.8M1015.9 1010.5V1000M1072.1 1003.3V945.6M1086.6 990.3V963.9M1110.1 1004.1V988.2M1151.3 1004.2V1000.2M1187.7 1003.1V992.2M1207.1 1004.7V992.2M1224 1000.6V963.6M1235.4 1001.7V955.7M1256.4 1001.4V979.1M1274.6 1004V979.3" stroke="#1f77b4" stroke-width="5.3" stroke-linecap="round" fill="none"/>
<path d="M115.9 908h0M117.3 943.9h0M118 948.1h0M119.2 944.5h0M119.9 943.1h0M119.6 947.3h0M121 946.6h0M121.2 894.9h0M121.2 954.7h0M121.5 930.4h0M122.4 947.1h0M121.6 954.6h0M123.2 933.7h0M122.8 955.6h0M124 940.3h0M124.2 937.7h0M123.7 956.1h0M124.9 948.4h0M126.3 950.1h0M126.4 951.2h0M127.1 952.9h0M127 960.3h0M127.6 957.2h0M129 964.8h0M130.8 966.4h0M132.3 922.8h0M132.5 946.1h0M133.9 909.9h0M133.7 968.5h0M135.3 961.7h0M137.8 954.8h0M137.8 963.7h0M139.1 908.2h0M138.6 963.3h0M140.3 948.7h0M141.4 911.2h0M140.7 950.7h0M142.2 943.3h0M141.6 952.8h0M143 935.7h0M143.7 918.7h0M143.9 936.7h0M144.8 919.6h0M146.3 908.8h0M146.4 926.6h0M146.9 883.7h0M147.1 918.4h0M148 914.2h0M148.5 916.1h0M148.9 915.3h0M149 924.1h0M150.2 901.5h0M150.1 904.8h0M151.5 915.2h0M151.2 922.2h0M151.6 910.4h0M153.6 905.2h0M157.5 901.4h0M156.5 909.6h0M157.7 908.8h0M157.9 883.6h0M158.6 894.2h0M159.5 829.6h0M159.6 877.5h0M160.5 811.8h0M159.6 912.6h0M160.8 893.9h0M161.3 887.8h0M160.7 883.8h0M162 898.8h0M161.8 888h0M163.4 870.9h0M163 894h0M164.4 880.6h0M164.4 805.4h0M165.2 895h0M164.8 853.4h0M165.3 895.4h0M165.8 874.8h0M166.3 878.3h0M166.3 900.1h0M167.5 869.4h0M168.1 834.5h0M168 902.8h0M169 891.7h0M169.6 874.5h0M171 901.1h0M172.2 839.9h0M173 869.9h0M172.5 869.2h0M172.9 900.2h0M174 859.9h0M174.1 898.4h0M175.1 875.1h0M175.2 871.6h0M175.8 886.3h0M176.4 872.1h0M175.5 892.3h0M177.4 877.1h0M177.4 864.7h0M177.7 830.5h0M177.7 875h0M178.2 900.3h0M178.8 890.1h0M179.6 890.6h0M181.3 880.7h0M180.8 853.6h0M182 865.9h0M181.6 884h0M182.5 889.3h0M183 809.8h0M183.4 886.7h0M183.1 859.6h0M184.1 770h0M183.8 848.8h0M184.5 853.2h0M184.2 896.6h0M185.3 857.1h0M184.7 853.3h0M184.8 871.8h0M185.4 896.2h0M185.6 878.3h0M185.6 858.2h0M186 895.3h0M187.5 874.9h0M187 885.2h0M187.8 879.7h0M189.5 878.5h0M191.3 883.1h0M192 874.7h0M191.6 873.2h0M193.5 845.9h0M192.7 880.9h0M193 878.1h0M193.8 866.5h0M194 850.1h0M194.3 873h0M195.1 879h0M195.4 876.3h0M195 890.2h0M196.2 856.4h0M195.9 845.3h0M196.6 847.4h0M196.7 806.4h0M197.6 881.5h0M198.1 849.9h0M198.4 891h0M199.1 877.2h0M198.5 871h0M199.3 886.4h0M200.3 820.5h0M200.5 879h0M199.5 775.4h0M200.2 873.9h0M199.6 862.6h0M200.4 880.3h0M201.2 822.8h0M201 871.7h0M201.4 843.2h0M201.8 855h0M202.5 827.5h0M202 893.5h0M203 797.3h0M203 832.5h0M204.5 874.6h0M204.3 812.1h0M204.6 882.4h0M205.1 871.9h0M206.1 847.3h0M207.2 885.5h0M206.6 873.9h0M208.1 883.7h0M208.1 892.2h0M209.4 883.6h0M209 828.9h0M209.6 821.7h0M209.8 882.8h0M211 842.6h0M210.9 869.1h0M211.5 860.2h0M213.2 874.7h0M212.9 867.5h0M213.8 788.7h0M215.3 846.6h0M214.6 784.2h0M215 885.2h0M216.2 859.1h0M215.9 879.6h0M216.7 852.1h0M217 868.2h0M217.7 876.9h0M218.7 823.8h0M219.4 882.6h0M219.7 879.3h0M220.8 841.8h0M220.5 860.8h0M220.9 876h0M221.8 826.6h0M221.6 854.2h0M221.5 887.2h0M222.9 851.5h0M223 838.5h0M222.9 887.8h0M224 863.7h0M224.3 796.5h0M224 795.2h0M225.2 803.3h0M225.3 884h0M224.6 886.6h0M225.9 841.9h0M226.3 869.5h0M227 873.8h0M226.8 872.9h0M227.3 855.8h0M228.5 817.7h0M227.7 882.8h0M228.5 894.1h0M228.9 882.4h0M228.8 886.7h0M230.2 813.7h0M230.4 875.1h0M230.6 870.7h0M230.8 896.4h0M232.3 859.3h0M232.3 888.9h0M232.5 886h0M233.3 895.9h0M234.3 884.6h0M234.1 851.3h0M234.5 893.1h0M234.9 886.2h0M235.2 862.2h0M236 850.6h0M236.5 851.8h0M236.7 838.5h0M236.6 872.7h0M238.1 828.2h0M238.2 829.9h0M238.3 885.2h0M238.8 841.8h0M239 883.5h0M239.4 891.2h0M239.9 851.5h0M239.6 889.2h0M240.6 852.2h0M241 879h0M240.5 887h0M241.7 868.4h0M241.7 895.3h0M242.5 886.5h0M242.5 897h0M243.8 867.8h0M243.9 894.6h0M245.1 885.2h0M246.3 824.5h0M247.2 784.1h0M246.9 848.9h0M246.6 888.9h0M248.4 869.4h0M247.8 861.6h0M248 869.1h0M249.3 890.3h0M249.4 831.2h0M249.5 899.4h0M250.4 798.6h0M249.8 826.1h0M250.1 855.2h0M250.5 892.4h0M250.9 842h0M251.3 872.5h0M251.1 890.5h0M252.5 874.2h0M251.5 833.1h0M251.6 864.6h0M252.5 773.3h0M253.4 852.1h0M252.8 872.7h0M253.4 833.7h0M252.5 886.2h0M253.5 826.9h0M254 869.8h0M255.1 770.8h0M255.1 827.1h0M255.1 850.4h0M255 871.6h0M255.6 847.1h0M255.6 764.6h0M255.9 868.2h0M256.9 855.4h0M257.3 852.4h0M257.2 852.9h0M258.1 837.1h0M258.4 854.3h0M258 862.5h0M258.6 856.3h0M259.8 845.2h0M260 790.6h0M259.7 859.3h0M260.9 841.8h0M260.7 825.2h0M261.3 849h0M261.3 859.3h0M261.8 803.9h0M261.6 805.4h0M262.5 720.3h0M263.3 807.4h0M263 750h0M262.7 833.6h0M263.2 836.4h0M262.5 853.9h0M263.9 838.8h0M264.2 758.8h0M263.9 850.8h0M265.1 836.2h0M265.1 851.6h0M266.1 773.3h0M265.7 832.4h0M266.9 836.8h0M266.9 716.9h0M266.6 846.9h0M267.5 710.8h0M267.8 837.2h0M268 852.7h0M269.2 844.6h0M269.1 800.8h0M269.5 847h0M269.5 821.3h0M269.9 845h0M270.9 787h0M271 846.3h0M272 827.5h0M272.3 800.6h0M273.3 757h0M272.6 776.4h0M273 719.9h0M272.7 848.3h0M274.2 848.3h0M274.2 778.6h0M275 840h0M274.8 810.4h0M275.5 806.4h0M276.2 831.2h0M277.3 801.5h0M277.4 731.8h0M277.8 734.2h0M277.6 659.6h0M277.6 810.6h0M278.8 845.1h0M278.7 778.7h0M278.8 836.5h0M278.7 851.4h0M279.5 680.9h0M279.7 831.3h0M280.1 800.3h0M280.4 801.7h0M281.1 836.4h0M281.3 838.3h0M280.8 768.8h0M281.6 817.4h0M282.3 847.9h0M282.9 806.1h0M282.9 753.9h0M282.9 848.1h0M284.2 814.8h0M283.6 841h0M285.2 815.1h0M285.4 821h0M284.7 843.6h0M285.7 830.4h0M286.4 827.5h0M287.2 777.9h0M287.1 795.9h0M288.1 791.3h0M288.3 744.4h0M288.7 816.9h0M288.8 833.3h0M290.4 767h0M290.5 823.9h0M290.2 834.7h0M291.3 730.5h0M292 828.2h0M292.4 825h0M291.6 829.4h0M292.6 814.6h0M293.2 805.9h0M292.8 773.2h0M292.7 835.5h0M294.2 812.8h0M293.6 759.3h0M294.3 731.3h0M295.2 820.5h0M294.5 737h0M294.6 750h0M294.9 809.6h0M294.8 743.8h0M295.2 804.4h0M294.6 829.8h0M295.5 721.8h0M295.8 770.4h0M295.7 747.1h0M296.2 776.4h0M295.6 629h0M296.6 819.9h0M296.9 802.9h0M296.7 821.3h0M297.5 818.4h0M297.6 811.9h0M298 757.2h0M298 809.5h0M298.8 774.3h0M299.5 745.6h0M300 729.9h0M299.9 748h0M300.3 808.2h0M299.6 788.6h0M300.2 821.8h0M301.1 685.8h0M301.2 805.8h0M301.1 776.4h0M300.7 788.6h0M301.5 815.3h0M302.2 762.5h0M301.9 713.2h0M301.6 805h0M303.2 784.3h0M302.9 771.4h0M303.3 797.7h0M303.5 653.1h0M304.3 691.8h0M304.5 812.2h0M304.5 623.6h0M304.8 726.5h0M305.4 809.4h0M306.1 774.2h0M306.2 813.7h0M306.3 800.1h0M305.8 825.8h0M306.9 806.7h0M306.6 790.8h0M308.1 806.5h0M307.5 798.4h0M308.4 798.6h0M308.3 838.5h0M309 774h0M309.1 846.5h0M309.6 810.6h0M310.1 846.7h0M311.4 835.6h0M311.7 882.2h0M313.1 871.2h0M313 877.2h0M314.4 911.5h0M315.4 923.8h0M315 933.9h0M316 901.7h0M316.3 952.9h0M317.2 952.9h0M318.4 943h0M318.4 938.3h0M319 922.6h0M318.9 964.8h0M318.5 960.5h0M319.6 970h0M320.8 962.4h0M321.4 985.2h0M322.1 937.9h0M322 994.6h0M323.2 994.7h0M324.8 987.5h0M325.7 981.9h0M325.9 983.3h0M326.9 969.5h0M327.7 986.9h0M327.6 992.6h0M329.3 986.8h0M331.1 971h0M331.2 994.5h0M331.6 986.3h0M331.6 998.7h0M333 984.8h0M334.3 947.2h0M334.1 997.2h0M335.1 986.8h0M335.1 979.3h0M336.6 987.7h0M338.3 984.6h0M338.7 957.3h0M339.3 990.2h0M346.3 974.5h0M346.9 982.7h0M347.6 985.6h0M347.9 994.6h0M349.4 990.2h0M350.2 984.3h0M349.7 997.8h0M351.3 974.9h0M350.6 998.5h0M351.8 988.6h0M352.9 984.6h0M355.4 970.7h0M355.2 992h0M357.4 988.9h0M359.1 978h0M361 969.8h0M362.5 975.9h0M362.9 977.8h0M363.5 959.9h0M364.3 972.1h0M365.1 944.3h0M366.5 954.1h0M368.4 951.5h0M367.8 961.7h0M369 944h0M370.4 954.8h0M371 926.4h0M371.2 961.6h0M371.9 938.5h0M373 962.2h0M374 954.4h0M374.2 960.4h0M375 960.1h0M377.2 953.2h0M378 944.4h0M377.9 961.9h0M379 945.9h0M379.4 957h0M380.2 943.4h0M381.4 916.7h0M381.8 905.4h0M382.3 956.9h0M382.8 947h0M384.2 930.3h0M384.1 943.9h0M385.1 941.5h0M385.4 952.7h0M385.9 943.2h0M385.7 946.6h0M386.9 935h0M388.6 939.3h0M389.6 951.7h0M390.7 917.6h0M392.1 933.8h0M395.8 949.6h0M396.7 898.6h0M397.9 940.5h0M397.8 948.2h0M398.9 941.3h0M399.9 913.1h0M400 950.4h0M401.3 928.4h0M401.6 930.1h0M402.5 953.3h0M404 937.8h0M404.1 924.6h0M405 951.8h0M405.8 925.9h0M408.5 894.9h0M407.5 943.6h0M409.3 928.5h0M411.1 924h0M412.3 886.1h0M413.6 857.4h0M414.9 889.2h0M415.3 895.4h0M415.3 930.3h0M416.1 887.2h0M416.3 928.8h0M416.9 847.2h0M417.3 912.1h0M417.2 864.4h0M417.6 818.1h0M418.1 914h0M418.4 923.9h0M419.5 885.6h0M419.1 852.6h0M418.9 912.4h0M419.9 889.8h0M420.2 903.8h0M420.7 908.5h0M420.8 908.8h0M421.5 894.7h0M424.2 886.1h0M424.1 873.4h0M426.8 898.7h0M428.1 891.7h0M429.5 889.2h0M430.3 889.3h0M430.9 891.7h0M431.9 879.2h0M432.8 876.4h0M436.1 851.5h0M436.4 866.6h0M437.1 849.9h0M438.1 849.4h0M437.9 797.7h0M439.4 788.8h0M438.9 840.7h0M439 852.8h0M440 848.2h0M439.7 768.4h0M440.7 767.4h0M440.9 818.3h0M441.4 857.2h0M442.2 721.6h0M441.9 842.4h0M441.8 836.2h0M443.3 843.5h0M442.5 842.4h0M442.6 674.9h0M444.3 839.5h0M444.3 813.9h0M444.9 781.4h0M445.1 835.9h0M445.7 800.9h0M446.1 810.3h0M445.5 846h0M447.5 748.1h0M446.9 844.5h0M447.6 791.6h0M447.8 829.1h0M449.5 831.6h0M448.8 841h0M450.2 808.3h0M449.6 796.4h0M450.9 832.2h0M451.2 713.5h0M450.8 724.4h0M450.7 843.6h0M452.2 833.3h0M451.5 833.5h0M452.8 752.7h0M453.3 829.6h0M454.1 791.1h0M454.5 834.2h0M454.1 829.3h0M454.3 839.2h0M454.9 823.5h0M455.2 820.9h0M455.3 760.8h0M455.8 791.3h0M455.7 785.9h0M456.3 726.2h0M457 797h0M456.6 789.2h0M456.9 805.9h0M458.4 743.7h0M457.8 822.5h0M458.2 834.8h0M458.7 778.4h0M458.6 762.5h0M458.9 732.9h0M460.3 831.9h0M459.5 772.1h0M459.9 845.8h0M461.4 794h0M461.2 842.2h0M462 712.5h0M461.7 847.7h0M463.1 811h0M463 836.6h0M464.3 747.3h0M463.6 846.7h0M464.5 819.7h0M465.7 800.2h0M466.1 843.5h0M466.2 849.1h0M467.4 779.1h0M468.2 825.3h0M468.2 834.1h0M468.5 852.6h0M469.1 848.2h0M469 844.6h0M471.1 838.5h0M472 845h0M472.2 855.9h0M473.2 824.6h0M473 841.6h0M473.3 865.9h0M473.9 828.5h0M474.4 824.9h0M473.7 858.5h0M473.5 867.5h0M475.4 860.1h0M474.5 822.2h0M475.5 862.3h0M475.6 862.1h0M477 837.6h0M476.6 848.9h0M477 870.8h0M478.2 823.8h0M479.1 858.8h0M478.9 861.5h0M480.2 832.4h0M479.8 879.9h0M480.8 861.9h0M482 868.7h0M482.3 872.2h0M483 865.5h0M484.1 858.6h0M485.2 878.5h0M485.5 882.9h0M486.4 891.5h0M487 869.6h0M486.7 888h0M488.3 775.7h0M488.9 871.4h0M488.7 892.6h0M489.7 897.4h0M490.8 870.2h0M491.6 840.6h0M493.4 890.2h0M493.7 860.8h0M494.4 901.1h0M496.1 854.5h0M495.9 887.7h0M496.8 887.3h0M499 901.9h0M499.2 859.1h0M499.5 917.1h0M499.8 912.6h0M501 931.2h0M502.1 931.2h0M502.6 962h0M504 975.2h0M503.6 985.1h0M504.6 980.1h0M505.4 991h0M506.5 991h0M505.8 980.1h0M507 989.8h0M508.1 994.4h0M509.2 1009.3h0M509.3 1012.4h0M509.7 1013.3h0M514.2 1028.6h0M515 1021.5h0M516.3 1018.4h0M518.2 1022.8h0M518.1 1027.4h0M519.4 1017.8h0M519.6 1021.7h0M523 1017.4h0M524 1012h0M525.2 1019.5h0M530 1013h0M533.5 1016.2h0M1295.5 973.6h0M1297.5 984.4h0M1297.7 978.4h0M1299.3 967.5h0M1299.8 969h0M1300.9 973h0M1301.3 974.4h0M1300.9 985.2h0M1302.1 957.9h0M1302.3 951.2h0M1302.7 985.9h0M1303.1 967.4h0M1303.1 954.7h0M1304.1 993.2h0M1304.1 992.9h0M1304.5 1007h0M1304.9 1003.4h0M1307.6 1007h0M1307.5 1006.3h0M1307.5 1018.7h0M1309.1 1006h0M1310.5 996.3h0M1309.8 1007.6h0M1310 999.9h0M1310.9 1013.6h0M1312.7 1002.5h0M1313.3 983.9h0M1314 986.9h0M1314.3 982h0M1315.5 980.9h0M1314.5 977.4h0M1315.9 952h0M1315.6 958.8h0M1315.7 992.8h0M1317.1 947.7h0M1317.3 966.4h0M1317.4 988.4h0M1318.2 973.3h0M1318.3 973.9h0M1318.1 960.2h0M1318.7 959.3h0M1319.5 933.5h0M1318.7 945.5h0M1320.4 950.9h0M1320.5 958.5h0M1320.1 940.6h0M1319.9 960.4h0M1321.4 935.1h0M1320.8 959.1h0M1320.6 964.1h0M1321.8 965.1h0M1321.9 963.4h0M1322.5 953.1h0M1322.5 954.5h0M1322.6 956.7h0M1322.8 956h0M1322.9 969.4h0M1323 968.3h0M1323.4 976.4h0M1324.1 963.8h0M1323.9 967.9h0M1323.6 958.1h0M1324.4 976.2h0M1325.1 956.9h0M1325 974.7h0M1325.7 961.3h0M1327.4 966.2h0M1327.5 962.1h0M1331.1 935.3h0M1332.7 948.7h0M1333.7 941.8h0M1334 955.9h0M1334.4 963.9h0M1335.2 950.8h0M1335.3 955h0M1335.1 956.1h0M1335.7 945.4h0M1335.9 954.4h0M1336.8 949.3h0M1336.8 956.4h0M1336.8 952.3h0M1337.4 954.8h0M1338.2 942.9h0M1338.3 941.5h0M1338.3 963h0M1339 950.5h0M1340.1 956h0M1340.2 945.6h0M1339.6 955.2h0M1340.7 957.6h0M1341.2 942.1h0M1341.7 960.6h0M1343.4 951.4h0M1344.1 945.4h0M1345.1 932.3h0M1345.1 943.9h0M1345.9 938.9h0M1346.5 958h0M1347.2 948.9h0M1347.3 949.9h0M1347.1 958h0M1347.6 937.4h0M1347.9 936.4h0M1349.3 939.9h0M1349.1 948.6h0M1349.1 953h0M1350.2 932.5h0M1350.5 953.5h0M1350.3 937.4h0M1351.3 952.6h0M1351.3 951.8h0M1351.3 962.7h0M1352.5 954.9h0M1352.3 942.5h0M1352.8 946.1h0M1353.4 951.3h0M1353.8 946.5h0M1354.2 949.9h0M1353.6 958.5h0M1355.4 947.1h0M1354.7 946.7h0M1355.9 957.3h0M1356 952h0M1356 942.1h0M1355.8 942.1h0M1356.8 945.2h0M1356.6 950.9h0M1356.9 929.5h0M1358.3 930.4h0M1357.6 929.2h0M1357.9 930.7h0M1358.2 944.8h0M1359.4 947.7h0M1358.8 934.7h0M1359.2 938.9h0M1359 944.8h0M1359.2 921.4h0M1359.2 934.5h0M1359.5 936.6h0M1359.6 919.3h0M1359.8 937.4h0M1360.2 922.9h0M1360.7 927.5h0M1361.1 938.2h0M1361.5 925.4h0M1362.1 903.8h0M1361.7 939.9h0M1361.9 932.1h0M1362.4 944.5h0M1362.9 912.6h0M1363.1 937.2h0M1363.2 945.3h0M1365.1 937.1h0M1366.3 950.5h0M1367 941.8h0M1367.4 958.9h0M1369.4 955.9h0M1369 949.8h0M1369.3 954h0M1370.5 951.6h0M1370 950h0M1370.8 944.5h0M1370.5 952.9h0M1372.1 934.9h0M1371.8 934.3h0M1372.8 935.7h0M1373.8 950.1h0M1374 948.3h0M1373.6 960.3h0M1374.9 948.4h0M1375.3 953.6h0M1374.6 960.3h0M1374.5 959.1h0M1375.2 966.5h0M1376 961.7h0M1375.7 949.4h0M1375.8 962.2h0M1376.9 951.7h0M1377 963.2h0M1376.7 954.2h0M1376.7 941.1h0M1377.1 970h0M1377.9 942.9h0M1377.9 956.1h0M1378.4 965.1h0M1378.3 959.4h0M1379.4 947.9h0M1379.2 960.5h0M1380.1 958.7h0M1380.1 966.5h0M1381.4 964.3h0M1380.9 964.8h0M1382.3 960.8h0M1382 972.4h0M1383.4 961h0M1383.3 962.3h0M1383.1 952.1h0M1383.7 961.2h0M1385.4 963.3h0M1385 952h0M1384.6 955.8h0M1385.7 951.2h0M1386.6 939.3h0M1387.4 939.7h0M1387.3 937.5h0M1387 950.4h0M1387.2 962.1h0M1388.3 938.2h0M1387.8 949.4h0M1388.4 920.3h0M1387.7 959.3h0M1388.7 949.1h0M1388.9 945.9h0M1389.9 940.4h0M1389.9 911.7h0M1389.9 949.6h0M1390.9 904.8h0M1390.9 921h0M1391.3 913.5h0M1391.2 953.4h0M1391.7 937.8h0M1391.9 927.6h0M1391.7 942.4h0M1392.1 914h0M1391.6 942.4h0M1393.1 947.9h0M1392.6 950h0M1392.6 957.2h0M1394.2 931.6h0M1395.6 939.6h0M1396 951.3h0M1396.8 935.6h0M1396.8 953.5h0M1398.3 956.2h0M1398.2 943h0M1398 951.8h0M1398.8 956.7h0M1399.6 950.3h0M1399.9 946.6h0M1400.8 934h0M1401.2 941.3h0M1401.3 959.3h0M1401.9 948.8h0M1401.9 938.6h0M1401.8 955.4h0M1402.6 946.7h0M1402.5 952.5h0M1403 938.7h0M1403.6 931.8h0M1403.9 947.9h0M1403.7 958.7h0M1405.1 948.9h0M1405.1 944.3h0M1404.9 959.9h0M1405.6 945.2h0M1406.2 939.8h0M1406.1 958.6h0M1406.5 956.1h0M1407.1 944.6h0M1407.7 955.6h0M1407.8 949.8h0M1409.1 937.1h0M1410.3 951.2h0M1410.5 942.4h0M1411.5 955.5h0M1410.9 945h0M1410.9 952.7h0M1411.2 956.4h0M1412.3 940.3h0M1412.7 928.5h0M1412.8 947.7h0M1413.3 936.5h0M1413.2 952.5h0M1414.1 950.3h0M1413.7 951.1h0M1414.3 941.8h0M1414.8 924.1h0M1414.6 945.7h0M1414.8 918.1h0M1415.3 944.3h0M1414.7 936.2h0M1414.8 948.7h0M1414.8 928h0M1415.5 946h0M1416.3 931.9h0M1416.5 930.7h0M1416.1 917.6h0M1416.4 900h0M1415.7 897.8h0M1415.9 939.6h0M1415.9 920.8h0M1416.7 934.6h0M1416.5 910.3h0M1417.3 932.4h0M1417.4 939.6h0M1417.2 925.6h0M1416.5 914.6h0M1416.6 933.8h0M1417.4 925.7h0M1417.3 922.2h0M1416.6 948.6h0M1418.4 921h0M1418.2 937.7h0M1417.7 912.1h0M1417.9 910.1h0M1417.8 921.9h0M1418.4 917.4h0M1418.6 941.3h0M1419.1 937.5h0M1419.3 929.3h0M1419.5 937.4h0M1419.2 943.1h0M1420.3 947.3h0M1420 910.8h0M1420.2 909.1h0M1421 943.1h0M1420.7 949.7h0M1420.6 940.3h0M1422.1 946.1h0M1422.2 934.4h0M1423.1 943.7h0M1423.5 931.1h0M1422.9 946.4h0M1424.4 947.6h0M1424.1 946.7h0M1425.2 921.2h0M1425.5 915.9h0M1425.6 938.4h0M1425.7 954.8h0M1427.1 924.9h0M1427.4 941.8h0M1427.5 921.9h0M1428.1 942.9h0M1427.6 943.1h0M1428.1 912.6h0M1428.9 919.6h0M1429.4 932.3h0M1429.3 912.2h0M1429.5 918.7h0M1428.9 931.4h0M1430.4 915.2h0M1430.2 907.2h0M1429.8 904.8h0M1430.1 894.2h0M1429.6 940h0M1431.1 923.5h0M1431.3 924.8h0M1430.9 927.5h0M1432.3 918.3h0M1431.7 907.7h0M1431.7 913.9h0M1432.7 898.2h0M1434.1 881.9h0M1433.6 889.9h0M1434.8 902.7h0M1434.7 884.6h0M1436 868.7h0M1435.9 865.5h0M1437.4 904h0M1436.7 882.5h0M1436.8 902.4h0M1436.5 912.7h0M1438 914.6h0M1437.8 913.5h0M1437.9 899.8h0M1438.1 905.9h0M1438.4 924.8h0M1439.3 919.8h0M1438.8 910.9h0M1439 903.7h0M1439.2 908.7h0M1439 924.3h0M1440.5 919.9h0M1439.6 913.5h0M1439.6 911.9h0M1439.8 929.1h0M1441.4 904.5h0M1441.3 908.6h0M1441.3 929.3h0M1442.3 915.5h0M1441.8 918.7h0M1443.4 923.3h0M1442.7 926h0M1444.5 914.1h0M1443.6 916.8h0M1443.5 927.5h0M1445.1 906.1h0M1444.9 929.7h0M1446.3 922.4h0M1447.9 932.2h0M1449.2 914.8h0M1448.9 923.6h0M1449.8 924.2h0M1450 920.3h0M1451 906.5h0M1451 914.9h0M1451.6 917.5h0M1451.9 917.5h0M1453.1 921.4h0M1453.1 920.8h0M1452.9 921.1h0M1453.8 900.9h0M1454.3 912.5h0M1454.3 918.3h0M1453.7 912.8h0M1454.7 915h0M1455 914.9h0M1455.4 921.7h0M1455.5 893.9h0M1456.4 910.4h0M1456.1 911.4h0M1456.6 910.5h0M1457.3 905.3h0M1456.5 903.7h0M1457.9 897.5h0M1457.9 917.9h0M1459.3 906.9h0M1460.9 906.8h0M1462.1 904.8h0M1461.8 899.3h0M122.5 1022.8h0M125.6 1020.5h0M163.7 999.7h0M177 1010.1h0M184.7 1009.5h0M227.6 999.8h0M228.5 1002.6h0M247.4 1007.8h0M290.4 1001.8h0M309.6 1005.5h0M417.5 1010.9h0M434.1 1002.8h0M447.7 1004.3h0M454.8 1005h0M491.8 1025.7h0M494.7 1023.9h0M716.4 1032.2h0M723 1031.2h0M727.6 1029.3h0M733.3 1029.1h0M809.4 1026.7h0M821.5 1027.6h0M836.4 1028.5h0M843.9 1031.1h0M879.4 1033.8h0M888 1030.4h0M896.8 1030.1h0M910.3 1027.3h0M920.7 1029.3h0M942.5 1029.5h0M963.3 1031.1h0M967 1031.9h0M974.8 1029.2h0M982.5 1030.6h0M1013.2 1031.3h0M1014 1034.9h0M1030.1 1033.7h0M1032 1030.9h0M1042.1 1033.2h0M1044.8 1032.7h0M1092.4 1031.9h0M1103.2 1032.7h0M1124 1035h0M1149.9 1033.9h0M1151 1032.3h0M1171.8 1033.7h0M1180.6 1034.4h0M1189.8 1035.9h0M1201.5 1034.2h0M1262.4 1031.2h0M1273.8 1029.9h0M1462.2 1020.6h0M114.6 940.6h0M115.9 936.7h0M115.5 932.1h0M115.3 926.7h0M115.8 924.1h0M115.5 919.2h0M115 913.5h0M114.4 909h0M114.5 904.8h0M115 899.7h0M115.4 895.8h0M114.4 889.8h0M115.4 887.2h0M115.4 883.5h0M114.5 877.9h0M114.7 870h0M115.1 863.9h0M115.2 863.7h0M118 942.4h0M117.6 936.1h0M117.1 932.8h0M117.3 926.8h0M117.7 921.5h0M117.2 914.3h0M117.9 906.6h0M117.9 898.7h0M118.4 895.9h0M117.8 892.7h0M117.3 887.9h0M117.7 881.2h0M124.1 952.5h0M124.3 944.6h0M124.1 941.4h0M123.9 935h0M124.6 931.7h0M124.5 928.1h0M123.9 923.6h0M123.7 920.1h0M124.6 916.2h0M123.3 911.5h0M124.3 904.1h0M124 898.5h0M123.3 895.9h0M124.5 892.3h0M124 888.2h0M136.3 967.4h0M137 964.1h0M136.7 960.2h0M135.4 955.5h0M136.3 950.5h0M136.1 944.8h0M136.9 942.1h0M136.8 934.6h0M136.6 927.7h0M135.8 922.7h0M135.5 918h0M135.9 911h0M136.2 907h0M136.5 900.8h0M136.2 898.7h0M141.8 948.5h0M142.1 942.9h0M142.2 936.8h0M140.8 931.6h0M142.1 926.4h0M141.4 920h0M140.8 914.4h0M141 906.6h0M141.1 901.9h0M140.7 899.3h0M141.3 893.9h0M140.9 891.4h0M140.7 884.8h0M141.3 878.4h0M141.8 872.9h0M141.8 868.8h0M141.4 865h0M141.5 863.7h0M147.6 917.7h0M148.2 912.4h0M147.1 906.8h0M147.6 903.5h0M147.9 897.7h0M148.2 894.6h0M147.5 887.1h0M147.3 883h0M147 877.1h0M148.5 873.8h0M148.2 868.7h0M147.6 860.9h0M147.1 854.1h0M148.3 848.9h0M147.7 844.5h0M154.2 914.8h0M153.9 908.9h0M154.3 904.4h0M153.1 898.8h0M153.1 893.5h0M152.9 890.4h0M153 885.1h0M153.5 880.9h0M154.4 873.2h0M154.2 870h0M154.1 865h0M153.3 859.8h0M153.9 855h0M153.7 849.7h0M162.3 902.5h0M162.4 898.4h0M160.9 890.5h0M161.2 885.5h0M161.1 880.5h0M162.5 872.9h0M161.1 869.2h0M162.1 864.1h0M162 860h0M161.2 853.4h0M162.4 848.4h0M161.6 845h0M161.1 839.9h0M161.3 831.9h0M162.4 826.1h0M162.2 823.6h0M162.5 818h0M161.2 811.4h0M162.3 808.7h0M161.8 804.1h0M161.9 800.4h0M162.4 795h0M162.4 791h0M162.3 787.3h0M162.4 783.5h0M161.7 783.3h0M165.5 895.1h0M166.6 888.2h0M165.8 881.6h0M165.5 877.9h0M165.7 872.5h0M166.3 868.8h0M165.3 865.4h0M165.2 858.1h0M165.6 854.5h0M165.7 847.6h0M165.7 841.7h0M166.4 837.5h0M165.7 834.6h0M166.2 831.9h0M166.6 828h0M166.4 821.6h0M166 816.6h0M165.1 811h0M165.3 803.5h0M166.1 798.5h0M165.5 792.8h0M166.4 788.2h0M166.3 783h0M166.4 776.7h0M166.2 770.9h0M166.1 763.6h0M166.6 759.1h0M166.2 754.6h0M166.4 751.3h0M166 748.4h0M166.4 743.1h0M165.9 741.4h0M171.1 895h0M171.5 887.7h0M171.2 883.5h0M171.8 877.3h0M170.7 871.9h0M171.9 864.4h0M171 860.7h0M171.9 854.2h0M170.5 849.4h0M170.5 844.9h0M170.7 837.9h0M171.5 834.1h0M171.4 829.3h0M171.2 828.7h0M177.4 895h0M178.7 889.7h0M178.8 885.2h0M178.1 880.7h0M177.7 874.3h0M179 868.4h0M178.4 861.8h0M178.6 854h0M177.4 848.4h0M178.4 842.4h0M177.5 834.9h0M177.6 827.9h0M178.2 825.2h0M185.7 889.2h0M184.4 884.9h0M185.2 882.3h0M185.2 878.9h0M185.5 870.9h0M185.6 863.4h0M184.5 859.8h0M185.9 851.9h0M185.3 847.4h0M184.8 839.8h0M185.2 835.2h0M184.5 827.9h0M185.2 822.1h0M184.7 817.5h0M185.3 812.5h0M185.5 809.3h0M184.9 804.2h0M185.4 799.9h0M185.4 796.2h0M184.4 791.2h0M184.4 787.3h0M184.7 784.3h0M185.3 780.8h0M184.9 776.9h0M184.4 770.3h0M184.6 766.5h0M184.5 762.5h0M185.6 758.1h0M184.5 755.6h0M184.7 750.2h0M185.1 745h0M185.1 744.9h0M191.9 882.2h0M191.3 875.9h0M192.2 872.3h0M192.1 869.3h0M191.5 861.4h0M192.3 857.3h0M192.2 853.1h0M192.4 850h0M192.9 845h0M191.6 837.9h0M191.5 834.8h0M191.9 828h0M191.4 824.4h0M192.3 819.9h0M191.8 812h0M192.9 805.1h0M191.6 800.4h0M191.7 797.7h0M192.3 794h0M192.5 789.7h0M192.3 784.1h0M192 778h0M192.1 776.3h0M196.7 885.3h0M197.3 880.3h0M197.8 875.3h0M196.7 869.4h0M197.9 864.1h0M197.1 856.6h0M197.1 849.1h0M197.9 842.1h0M197.6 838.3h0M197.7 833h0M196.9 825.4h0M196.6 817.5h0M197.5 814.9h0M197.1 811.4h0M197.4 806.1h0M196.8 802.1h0M197.7 794.8h0M198.1 787.7h0M197.4 780.5h0M198 777.6h0M197.6 773.3h0M197.2 769.9h0M197.3 763.7h0M197.2 760.6h0M198.1 755.7h0M197.9 748.4h0M198.1 745.9h0M196.6 739.5h0M198 734.4h0M197.4 730.9h0M200.3 888.1h0M200.9 884h0M199.7 879.7h0M200.3 873h0M200.4 865.9h0M200.7 861.5h0M200.2 856.1h0M200 851.8h0M200.6 849.3h0M200 842.8h0M199.6 839.1h0M200.3 836h0M200.2 830.3h0M200 823.4h0M199.9 818.3h0M199.4 813.1h0M200.7 805.7h0M200.5 800.1h0M199.9 792.4h0M199.7 784.7h0M200.4 778.8h0M200.6 775.9h0M199.6 772.8h0M200.4 768.9h0M200.4 761.1h0M200.1 758.3h0M199.5 751.8h0M200.2 745.9h0M200 739.9h0M200.2 734.4h0M205.5 886.7h0M205.5 883.7h0M206.8 879h0M205.7 871.1h0M206.6 867.1h0M206.8 859.2h0M205.9 854h0M205.8 846.8h0M205.5 843h0M205.4 839h0M206.9 834.1h0M205.9 828.6h0M205.7 822h0M206.4 818.2h0M205.6 810.3h0M206.7 807.6h0M206.1 800.4h0M205.4 796.1h0M205.6 790.8h0M206.1 790.3h0M212.5 879.7h0M213.5 871.9h0M213.2 865.4h0M213.1 858.6h0M213.5 854.1h0M212.5 846.5h0M213.4 841.5h0M212.4 835h0M213.4 829h0M212.8 824.3h0M213.1 817.6h0M213.2 813.8h0M212.9 810.7h0M212.7 803.9h0M213.2 800.1h0M213.1 797.3h0M218.4 877.8h0M218 870.6h0M217.5 864.5h0M217.9 860.3h0M217.1 856.2h0M217.3 849.1h0M217.9 841.3h0M217.8 837.9h0M217.3 830.8h0M217.7 823h0M217.2 817.8h0M217.7 814.8h0M217.7 807.2h0M217.7 801.8h0M218 794.5h0M217.2 789.1h0M218.2 786.2h0M217.7 780.2h0M218.1 774.4h0M217.7 770.9h0M218.3 764.3h0M218.1 758.3h0M218.2 752.4h0M218.4 746.1h0M218.4 741.4h0M217.8 736.3h0M217.6 729.5h0M217.5 724.6h0M218 720.4h0M217.8 717.2h0M217.2 713.6h0M217.7 707.9h0M217.1 704.6h0M217.9 698h0M217.4 691.7h0M217.4 686h0M217.3 681.2h0M218.4 677.8h0M217.6 674.9h0M218.3 671.2h0M217.7 668h0M223.3 882.7h0M222.6 878.8h0M223.1 872.9h0M222.4 866.6h0M222.4 860.8h0M223.2 853.9h0M222.1 848.3h0M223.1 843.2h0M222.5 835.7h0M222 829.4h0M223.3 822.4h0M222.4 819.5h0M222.1 814.4h0M221.8 807.3h0M222.6 800h0M221.8 795.8h0M223.1 790.8h0M222.5 786.9h0M223.3 779.2h0M223 772.1h0M222 765.1h0M223.2 757.3h0M222 750.5h0M223.1 747.9h0M222.5 744.9h0M224.6 885.5h0M225.5 882.4h0M224.6 876.1h0M224.9 869.5h0M225.1 862.1h0M226 856.2h0M225.1 850.5h0M225.6 847.6h0M225.1 840h0M225 833.9h0M225.4 827.5h0M224.9 820.7h0M224.8 815.5h0M224.6 809.8h0M224.7 806.1h0M225.1 799.3h0M224.6 794.3h0M226 790.8h0M225.7 787.2h0M225 780.7h0M225.4 774.6h0M224.8 766.8h0M225.4 762.5h0M224.9 756.1h0M225.3 755.3h0M231 890.1h0M229.8 886.5h0M230.6 883.2h0M231.3 878.1h0M230.6 875.4h0M230.2 872.4h0M230.7 868.6h0M231.2 863.3h0M230.8 859.4h0M230.7 853.1h0M230.2 846.3h0M230 842.8h0M231.4 840.2h0M230.6 836.8h0M230.2 831.1h0M230.2 823.8h0M231 816.4h0M230.6 814.8h0M237.8 886.7h0M237.9 883.8h0M236.8 881h0M237.6 873.4h0M237.2 870.8h0M237.2 865.9h0M237.5 861.5h0M237.3 856.8h0M237.7 854.2h0M237.5 848.4h0M238.4 841.8h0M237.6 836.4h0M238.1 830.3h0M237.5 823.2h0M237.5 820.3h0M237 817h0M237 813.7h0M237.7 808h0M237.5 800.9h0M238 798.2h0M237.3 793.1h0M237.1 785.6h0M237.6 783.3h0M243.4 889.1h0M243.4 881.4h0M242.4 878.6h0M243.2 872.8h0M243 866.8h0M243.5 860h0M242.9 854.5h0M242.7 849.2h0M242.3 843.2h0M242.8 842.7h0M247.7 893.3h0M247.5 888.1h0M246.5 881.1h0M246.8 873.8h0M247 868.6h0M247.6 863.9h0M247 860.1h0M246.7 855.1h0M247.4 852.2h0M246.3 845.5h0M247 840.3h0M246.5 834.1h0M247.3 826.5h0M247.8 823.2h0M247.4 817.8h0M246.9 811.5h0M246.3 806.4h0M247.3 799.3h0M247.2 796.4h0M246.5 789.8h0M247.3 782.6h0M247.1 778.3h0M247.6 771.7h0M246.7 764.6h0M247.7 759.2h0M246.5 752.5h0M247.7 749.2h0M247 748.4h0M249.2 891.1h0M250 888.4h0M249.5 885.7h0M249.4 878.1h0M249.6 873.2h0M249 866.4h0M249.1 861.6h0M250.5 853.8h0M249.7 846.5h0M250.2 838.8h0M249.7 835.4h0M249.2 830.1h0M250.2 824.2h0M250 821.3h0M250.4 814.6h0M250.1 807.6h0M250.1 804.5h0M249.6 798.5h0M249.6 795h0M250.1 792h0M250.6 786.6h0M249.5 782.6h0M250.5 779.2h0M250.3 774.2h0M250.4 771.6h0M249.8 764.6h0M249.9 760.7h0M249.3 752.8h0M250.6 747.5h0M249.8 743.1h0M256 866.6h0M256.7 863.4h0M256.4 859.3h0M257.2 853.8h0M257.3 847.9h0M256.3 844.4h0M257 841.5h0M256.3 833.7h0M256.8 829.5h0M257.4 826h0M257.1 822.2h0M257.6 819.1h0M256.7 814.4h0M256.9 809.7h0M256.8 805.6h0M256.2 800h0M257.4 795.3h0M257 790.6h0M257 788.1h0M256.6 785.2h0M256.8 777.5h0M257.2 773.5h0M256.7 768.6h0M256.4 764.8h0M256.8 761.6h0M256.8 756.8h0M257 752.2h0M256.3 748h0M256.5 742.6h0M256.9 740h0M256.6 735h0M257.4 731.6h0M256.8 725.6h0M265 847.4h0M266.2 840.6h0M266.1 837.1h0M265.5 830.6h0M265.3 824.8h0M265.8 820.2h0M265.2 813h0M265.5 809.6h0M265.1 803.3h0M264.8 800.4h0M265.8 796.3h0M266.2 790.2h0M265 786.6h0M265.7 780.4h0M264.8 776.3h0M265.6 770.8h0M265.2 765.7h0M265.7 760.1h0M264.9 754h0M266 748.9h0M265.8 745.6h0M264.8 737.8h0M265.9 734.1h0M265.6 728.6h0M265.2 721.6h0M266.2 716h0M265.3 708.2h0M265.5 706.4h0M268.4 846h0M269.4 840.6h0M269.3 837.4h0M269.2 831.4h0M268.5 826.6h0M269.5 819.8h0M269.3 813.4h0M269.7 810.2h0M269.8 803.9h0M269.7 801h0M268.3 796.4h0M269.2 789.8h0M268.7 787.1h0M269.8 781.8h0M268.3 777.7h0M268.5 769.8h0M268.3 762.9h0M269.2 757.6h0M269.8 751.9h0M268.7 748h0M268.5 742.4h0M269.4 736h0M268.7 731.3h0M269 727h0M268.3 722.1h0M269.5 718.6h0M268.5 710.8h0M268.9 705.9h0M269.1 701.3h0M269.8 698.8h0M269.2 690.8h0M269 684.6h0M269.6 681h0M268.3 677.5h0M269 675h0M274.7 851.2h0M274.7 848.4h0M274.6 844.2h0M274.9 840.9h0M274.4 836h0M273.6 830.5h0M274.3 825.4h0M274.5 822.4h0M274.8 817.2h0M274.4 813.5h0M273.9 809h0M274.2 805.8h0M273.8 802.5h0M274.7 795.7h0M274.7 788.2h0M273.6 783.4h0M274.6 780.5h0M274.8 772.7h0M274.8 768.2h0M274.5 761.5h0M273.8 754.3h0M274.7 748.2h0M274.8 742.8h0M273.9 736.6h0M274.7 730.4h0M273.9 724.4h0M274.2 721.6h0M274.7 715h0M274.3 709.9h0M279 849.3h0M278.2 844.1h0M279.1 838.7h0M278 834.6h0M279.2 827.2h0M279.2 820.7h0M278.7 813.8h0M278.5 807.6h0M278.1 800.3h0M278.8 793.5h0M277.7 788.7h0M279.1 785.8h0M279 779.4h0M278.2 773.9h0M278.3 769.1h0M278.2 765.3h0M277.9 760.5h0M279.1 757.2h0M277.7 749.9h0M278.5 746h0M278.9 741.1h0M278.2 735.9h0M278.8 730.1h0M277.8 724.2h0M278.3 716.3h0M278.2 712.8h0M278 709.6h0M278 702h0M278.9 694.5h0M279.1 690.7h0M278.3 687.8h0M278.2 679.9h0M278.5 672.7h0M279.2 666.6h0M278.1 659.6h0M278.3 653.4h0M278.9 647.5h0M278.5 645.2h0M279.5 846.5h0M279.3 843.2h0M280.4 835.3h0M279.2 831.9h0M280.1 828.9h0M279.9 822.2h0M279.5 818.2h0M279.9 814.4h0M280.5 811.7h0M279.7 805h0M280.5 797.4h0M279.1 791.8h0M279.6 786.2h0M280 779.3h0M279.4 772.5h0M279.4 768.6h0M279.9 764.1h0M280.6 759.1h0M280.1 753.1h0M280.3 749h0M280 746.3h0M279.2 738.4h0M279.5 731.1h0M279.9 727.4h0M279.8 846.3h0M280.7 841.7h0M279.8 836.8h0M280.7 833.8h0M280.8 828.5h0M279.7 824.8h0M280.6 819.2h0M280.5 812.2h0M280 809.3h0M280.4 804h0M279.9 800.6h0M279.2 794.2h0M279.9 789.3h0M280.8 781.7h0M280.2 775.1h0M280.3 767.8h0M280 764.8h0M279.5 762.1h0M280.7 755.4h0M280.3 752.3h0M280.7 745.7h0M280.4 739.5h0M280.7 733.7h0M279.9 730.7h0M280.8 726.3h0M279.7 718.6h0M280.1 715.2h0M280.8 711.3h0M280.4 705h0M280.1 700.6h0M280.4 694.9h0M279.9 689.6h0M279.6 686.1h0M280.3 679.4h0M280.6 673.5h0M280.6 670.2h0M279.8 665.7h0M279.8 657.9h0M280.7 654h0M280 647.5h0M280 644.8h0M285.4 834.5h0M286.1 830.4h0M286.7 823.6h0M286.6 815.9h0M286.3 808.7h0M285.5 802.8h0M286.6 796.6h0M285.5 792h0M286.7 788.4h0M285.7 781.1h0M286.4 777.6h0M285.7 772.9h0M285.5 765.4h0M286.8 759.5h0M286.2 756.4h0M286.3 753.5h0M286.2 750.6h0M286.5 744.8h0M285.5 740.2h0M286.1 733.7h0M297.2 821.5h0M297 815.4h0M297 807.8h0M296.9 804h0M296.9 797.5h0M296.7 792.6h0M296.8 788.6h0M297.3 784.2h0M296.2 778.5h0M296.2 774h0M296.6 767.6h0M297.2 760.4h0M297.4 754.2h0M297.4 748.5h0M296.3 741.7h0M297.5 735.4h0M296.8 731.5h0M297.7 724.3h0M297 720.5h0M297.1 715.3h0M296.8 711.7h0M296.6 704.5h0M297.7 697.2h0M297.6 694.3h0M296.4 690.4h0M297.8 685.2h0M296.6 679.5h0M297.3 673.8h0M297.7 670.3h0M296.4 665.3h0M297 659.2h0M297.6 655.1h0M296.6 652.5h0M296.4 646.7h0M297.4 644h0M296.5 640.7h0M296.9 636.1h0M296.3 631h0M296.2 624.2h0M297.2 618.2h0M296.6 614.5h0M297.4 606.9h0M296.4 602.9h0M296.4 596.2h0M297 594.2h0M304.6 808.9h0M304.6 803.2h0M304 800.2h0M304.6 792.3h0M304 787.8h0M303.9 784.8h0M303.9 778.9h0M304 772.5h0M303.5 770h0M304.5 767.4h0M304.4 760.3h0M304.4 753.5h0M303.8 750.2h0M304.4 745.6h0M304.8 738.6h0M304.8 734h0M304.4 729.8h0M304.6 723.5h0M304.6 717h0M304.8 713.1h0M304.8 706.5h0M304.1 702.5h0M304.8 698.1h0M304.5 692.8h0M304.1 685.5h0M304.2 680.1h0M304.3 675.9h0M303.6 670.2h0M304 664.5h0M304.5 660.9h0M304.6 653.8h0M303.7 646.7h0M303.8 641.9h0M304.5 639h0M304.8 635.8h0M304.2 630.5h0M304 623.3h0M304.6 615.9h0M304.8 609.8h0M304.1 604.5h0M304.3 604.3h0M308.6 840.1h0M308.5 833.6h0M309.8 826.1h0M308.9 821.9h0M309.8 815.7h0M309 810.5h0M308.5 805.2h0M309.4 798h0M309.6 791.5h0M308.8 788.3h0M308.6 782h0M309.1 776.4h0M308.4 772.3h0M308.5 766.6h0M309.7 760h0M309.4 756.7h0M309.3 751h0M308.7 746.8h0M309.5 739.1h0M308.7 736.1h0M309 731.5h0M309.8 728.3h0M308.8 722h0M309.1 721.6h0M313.8 918.7h0M314 914.9h0M314.4 907.6h0M315 904.7h0M313.6 900.4h0M314.8 893.8h0M313.8 886.9h0M313.8 879.5h0M314.4 875.3h0M321.2 977.3h0M320.3 970.9h0M320.5 964.8h0M320.6 958.7h0M320.8 951.2h0M320.8 946.5h0M320.1 940.3h0M320.6 934h0M320.5 930.6h0M320.5 925.1h0M320.8 918.1h0M319.9 910.6h0M320.4 903.6h0M325.9 992.1h0M325.2 989.5h0M324.9 982.2h0M324.6 974.6h0M326.1 967.6h0M325.3 961.7h0M325.1 956.3h0M325.7 952h0M325.5 947.3h0M326.1 944.5h0M325.3 940h0M334.2 989.4h0M334.7 982.8h0M334.1 976.1h0M334.6 969h0M334.8 963.1h0M334.6 960.4h0M334 953.9h0M334.7 949h0M335 945.4h0M334.6 941.5h0M334.6 940h0M340.1 983.3h0M339.9 976.4h0M341.1 973.1h0M341 967h0M341 959.6h0M340.2 952.7h0M340.7 948.1h0M349.9 991.2h0M350 986.7h0M350.1 982.8h0M349 976.5h0M349.9 969.2h0M350 964.2h0M350.2 959.1h0M348.9 956.3h0M349.6 954.1h0M357.6 981.2h0M357.4 975.9h0M358.4 969.7h0M358.1 964.7h0M357.7 962.2h0M366.9 960h0M367.5 954.6h0M366.2 950.3h0M367.6 943.5h0M366.7 935.8h0M366.3 932.4h0M367 928.5h0M366.8 924.3h0M366.9 918h0M366.4 913.5h0M367 907.6h0M372.3 955.1h0M373 949.7h0M372.8 942.2h0M373 936.1h0M373.1 929.2h0M373.1 921.5h0M373.7 918.3h0M372.3 915.3h0M373.3 910.8h0M372.4 904.8h0M373 899.5h0M385.5 948.1h0M385.3 941.8h0M384.5 937.4h0M384.6 934.3h0M385.4 929.1h0M385.4 923.7h0M384.6 919.2h0M385.7 913.5h0M384.6 909h0M384.5 901.4h0M385 895.3h0M385.8 890.4h0M385.2 887.4h0M391.7 945.9h0M391.8 938.3h0M391.7 930.4h0M390.9 927.4h0M390.9 924.4h0M391.1 919.4h0M391.9 911.9h0M391.3 905.5h0M391.2 899.5h0M399.8 945.9h0M401.1 943.1h0M401.1 937.7h0M400.6 931.5h0M400.9 926.9h0M400.6 919.2h0M400.4 915.4h0M401.1 911.2h0M400.6 906.9h0M399.8 902.2h0M400.8 894.6h0M400.5 889.4h0M407.1 942.8h0M407.3 935.1h0M406.7 930.4h0M407.6 924.1h0M406.8 918.1h0M407.3 913.1h0M406.6 910.5h0M406.8 905.1h0M407.4 899.5h0M419.1 914.2h0M419.2 907.3h0M419.3 902.8h0M419.7 896.3h0M419.2 888.9h0M419.1 881.4h0M420.1 874.3h0M419.1 867.9h0M419.3 865h0M420.3 860h0M419.8 856.1h0M418.9 851.3h0M419.1 843.3h0M419 840.2h0M419.7 837.5h0M419.9 834.9h0M419.2 831.3h0M419 824.1h0M420.3 817.3h0M419.2 810.3h0M420.1 806.8h0M419.3 803.9h0M420 798h0M419.5 792.3h0M419.9 788h0M420 781.5h0M420 776.6h0M419 771.9h0M418.8 766.1h0M420.3 762.8h0M420.2 758.3h0M419.3 750.5h0M420.2 743.2h0M419.5 739.8h0M421.2 908.1h0M421.8 903.1h0M422.2 896.7h0M421.9 891.7h0M422.1 888.9h0M421.9 884.7h0M421.4 882.1h0M421.5 877h0M422.3 871.6h0M421.4 864.5h0M421.1 861.7h0M421.9 854.7h0M421.9 849.3h0M421.5 845.6h0M421.3 840.6h0M421.6 838.9h0M429 889.9h0M429.9 884.3h0M429.6 883.4h0M436.2 865.6h0M435.9 858.5h0M435.5 853.5h0M436.4 849.1h0M435.1 846.2h0M435.2 841.6h0M436.4 835.6h0M435.7 834.8h0M443.1 844.1h0M442.8 838.7h0M443.3 833.5h0M442.5 829.1h0M442.2 825.6h0M443.3 820h0M443.1 816.4h0M442.4 811.4h0M443.4 808.1h0M442.7 800.6h0M442.9 794.8h0M442.7 789.4h0M442.4 784h0M442.5 780.1h0M443.2 774.8h0M442.7 769.1h0M442.9 763.1h0M442.8 755.5h0M442.9 752.2h0M443.5 748h0M443.7 741.5h0M443.4 736.4h0M442.3 730.3h0M443.6 727.3h0M442.8 719.6h0M442.5 716.8h0M442.8 709.7h0M443.3 703.2h0M442.3 699.1h0M442.6 695.6h0M443 691.8h0M443 685.5h0M443.6 681.5h0M443.5 678.9h0M443.4 674.1h0M442.2 671.5h0M442.9 663.8h0M442.3 658.6h0M442.8 651.2h0M442.4 643.6h0M443.6 639.1h0M443.6 631.6h0M443 630.6h0M454.3 835.8h0M454.5 828.7h0M453.4 822.2h0M453.3 816.9h0M454 814.3h0M454.5 808.3h0M454.5 805.4h0M454.3 800.2h0M453.9 796.1h0M453.6 789.6h0M453.6 786.9h0M453.2 780.7h0M453.9 772.7h0M453.2 767.2h0M454 760.5h0M454.3 755.8h0M453.5 752.6h0M453.4 745.2h0M454.4 737.5h0M454.4 729.6h0M453.9 725.6h0M459.5 838.8h0M460.4 831.9h0M460.4 824.2h0M460.5 821.4h0M460.1 814.9h0M459.5 812.1h0M459.2 809.3h0M459.2 804.3h0M459.3 797.9h0M460.4 790.2h0M460.2 785.4h0M460.7 782h0M459.6 776.3h0M459.6 773.3h0M460.2 769.4h0M459.6 765h0M460.3 760.2h0M460.4 752.6h0M460.6 749.3h0M459.2 746.3h0M460.1 739.9h0M460.7 736.7h0M459.5 729.9h0M459.4 723.2h0M459.9 717.9h0M459.3 713h0M459.8 706.5h0M459.2 699h0M460.5 694.9h0M459.4 689.6h0M460 683.2h0M459.4 838.8h0M460 833.4h0M459.6 828h0M460 824.2h0M460.6 818.6h0M459.3 812.4h0M460.3 805.6h0M460.7 800.9h0M460 794.3h0M459.4 790.5h0M460.4 783.8h0M459.2 776.6h0M459.9 770.5h0M459.8 767.7h0M459.5 760.1h0M460.1 752.7h0M459.8 746.1h0M459.9 738.8h0M460.2 735.2h0M459.9 729.2h0M460.2 725.4h0M460.4 721.8h0M460.4 718.5h0M460.2 713.4h0M459.8 706.1h0M460.2 700.4h0M460.8 693.1h0M460.6 685.3h0M460 681.2h0M464.2 843.5h0M463.8 840.5h0M463.6 836.8h0M463.8 831.8h0M463.8 828.8h0M464.3 822.8h0M464.2 815.7h0M464.3 811h0M464 803.3h0M464.7 798.6h0M464 791.8h0M463.5 787.3h0M464.6 780.9h0M464.5 776.3h0M463.6 768.6h0M463.6 762h0M464 754.3h0M463.7 751.1h0M464.8 747h0M463.4 741.9h0M464.5 738.1h0M463.6 732.2h0M464.4 727.9h0M463.5 721.2h0M463.7 714.1h0M463.9 709.3h0M463.7 702.2h0M464 697.3h0M470 852.7h0M470.4 847.3h0M470 840h0M469.9 833.3h0M469.6 828.8h0M470.4 824.5h0M469.9 820.7h0M470 817.6h0M469.7 813h0M469.5 810.5h0M470.3 804h0M469.5 796.5h0M470.6 788.7h0M470 784.3h0M470.8 779.8h0M469.5 774.1h0M469.9 770h0M470.1 764.8h0M470.1 762h0M475.9 864.5h0M476.5 857.7h0M476.5 851.8h0M476.7 844.6h0M475.5 838.7h0M475.5 835.7h0M475.7 833h0M476.1 828.3h0M476.2 822.9h0M476 816.6h0M476.8 809.9h0M476.5 806.5h0M476.2 802.5h0M482.8 876.7h0M481.7 871.7h0M482.1 865.8h0M481.7 858h0M482.5 851.5h0M482.4 844.4h0M482.7 841.3h0M481.5 836h0M481.6 828.2h0M482.2 825.1h0M482.6 817.8h0M482.3 810.9h0M481.7 806.1h0M482.1 798.7h0M481.8 793h0M482.6 789.1h0M482.2 785.8h0M482.4 779.7h0M481.8 774.5h0M482.2 770.1h0M488.2 887.2h0M488.1 880.4h0M486.8 872.6h0M487.3 868.9h0M487.7 865.9h0M487.7 859.7h0M487.6 852.4h0M487.9 846.4h0M488.2 839.7h0M487.7 837h0M488 833.4h0M487.9 826.4h0M486.9 823.7h0M488.3 820.2h0M488 813h0M487.6 806.6h0M487.4 799.9h0M487.8 792.4h0M487.1 787.7h0M487.5 781.9h0M486.9 777.9h0M488.2 770.5h0M486.7 766.2h0M487.7 763.3h0M487.9 757.4h0M487.7 750.8h0M488.1 744.6h0M487.8 739.1h0M487.1 734.2h0M486.8 730.1h0M487.5 729.7h0M492.8 893.6h0M492.9 888.5h0M491.6 880.6h0M492.2 874.2h0M491.7 869.1h0M492.7 865.3h0M491.6 858.4h0M492.3 853.4h0M491.6 849.7h0M492.4 843.3h0M491.8 836.1h0M492.3 830h0M492.4 826.7h0M499.5 920.2h0M499.2 916.2h0M500.2 912.3h0M499.2 909.8h0M500.1 906.7h0M499.3 899.2h0M499.5 894.5h0M499.1 890h0M500.2 886.3h0M500.2 882.7h0M500.3 875.9h0M499.3 870.3h0M499.6 865.7h0M500.1 862.9h0M500 858.4h0M499.6 851h0M502.6 965.4h0M503.2 961.5h0M502.5 957.7h0M501.7 951.8h0M503.2 945.3h0M502.8 942.4h0M502.2 938.2h0M502.3 935.6h0M502 929.9h0M502 923.7h0M502.4 919.6h0M502.7 913.7h0M502.3 910.8h0M502.5 907.6h0M510.1 1016.1h0M511.2 1011.4h0M510.6 1005.4h0M510.9 998.4h0M510.8 992.9h0M510.6 989.7h0M510.6 985.6h0M509.9 982.2h0M510.6 980.4h0M516.2 1023.2h0M516.1 1017.4h0M517 1014.8h0M516.6 1008.7h0M731.3 983.8h0M730.1 976.4h0M730.9 976.4h0M750.9 852.6h0M751.5 845.4h0M750.5 839.8h0M750.6 832.4h0M751.3 824.3h0M751 815h0M751.2 811.5h0M750.7 804.8h0M751.6 794.3h0M750.4 785.7h0M751.6 778.9h0M751.3 774.3h0M750.4 766.3h0M751.1 756.2h0M751.2 749.8h0M750.7 741.9h0M750.9 732.3h0M751.7 722.1h0M750.9 713.3h0M750.4 704.7h0M750.6 694.4h0M751.3 690h0M751.2 684.3h0M751 678.3h0M750.8 674.4h0M751.1 671h0M767.9 930.6h0M767.7 922.1h0M768.1 919.8h0M783.1 911.2h0M783.5 905.6h0M789.2 962.6h0M789.4 953.2h0M790.2 946.3h0M789.5 944h0M803.6 964.9h0M802.3 961.6h0M802.9 957.7h0M802.9 954.1h0M814.3 971.9h0M813.8 966.3h0M825.3 984h0M825.1 979.2h0M825.9 978.4h0M904 862.5h0M903.6 856h0M903.2 849h0M903.6 841.7h0M903.7 834.5h0M903.8 825.3h0M903.7 821.7h0M903.4 813.7h0M903.5 805.6h0M903.9 795.3h0M903.4 784.6h0M903.8 779.2h0M903.7 774.4h0M904.4 769.1h0M904.4 763.7h0M903.9 762h0M947.7 948.4h0M948.1 943.7h0M947.3 933.2h0M948 923.3h0M947.6 916.6h0M947.5 905.8h0M948.5 901h0M948.2 896.8h0M948 893.7h0M948 891.5h0M934.1 965.7h0M933.4 958.8h0M933.3 954.1h0M933.8 943.3h0M933.3 940h0M934 935.4h0M933.8 931.9h0M918.1 947.9h0M918.9 946.1h0M910.9 935.8h0M910.8 933.9h0M1015.1 1000h0M1016.1 996.1h0M1015.9 992.6h0M1072.7 945.6h0M1071.3 934.8h0M1072.1 929.9h0M1085.9 963.9h0M1086.6 960.2h0M1110.8 988.2h0M1110.1 984.5h0M1151 1000.2h0M1151.3 994.6h0M1188 992.2h0M1187.7 988.5h0M1206.4 992.2h0M1207.1 988.5h0M1295.9 977h0M1296.4 973.3h0M1295.7 968.8h0M1295.7 964.6h0M1296.4 956.7h0M1295.3 951.7h0M1295.6 946.1h0M1296.5 939.2h0M1295.3 936.7h0M1296.1 929.5h0M1295.5 926h0M1296.2 919.9h0M1295.5 915.6h0M1296.3 912.1h0M1295.9 909h0M1296.4 902.3h0M1295.3 896h0M1295.9 891.6h0M1295.4 885.7h0M1296.8 879.9h0M1295.9 872.1h0M1296 871.2h0M1302.4 993.8h0M1303.3 988.7h0M1302.7 984.1h0M1303.3 977.8h0M1303.5 975.3h0M1303.4 969.7h0M1303.3 963.2h0M1302.3 960h0M1302.5 954.7h0M1303 952.2h0M1302.5 945.3h0M1302.3 937.6h0M1303.3 929.9h0M1303 925.7h0M1302.7 920.3h0M1303.2 913.6h0M1302.9 911.7h0M1223.8 963.6h0M1224 956.2h0M1234.7 955.7h0M1235.4 950.1h0M1256.6 979.1h0M1255.7 972.3h0M1256.4 964.3h0M1275.1 979.3h0M1274.1 971.4h0M1274.6 966.3h0M1338.4 957.9h0M1338.1 950.8h0M1338 945.6h0M1337.8 939.4h0M1338 935.9h0M1337.6 932.8h0M1337.3 925.9h0M1338.4 918.9h0M1338.4 911.5h0M1337.6 905.8h0M1338.7 902.5h0M1337.6 895.5h0M1338.3 887.7h0M1338.5 880.9h0M1337.9 876.5h0M1337.5 872.6h0M1337.9 866.9h0M1337.8 859.9h0M1337.4 856.8h0M1338.9 851.6h0M1338.3 844.3h0M1337.3 837.5h0M1338.2 830.8h0M1337.3 827.1h0M1337.4 820.8h0M1337.3 815.5h0M1337.3 809.6h0M1338.5 801.8h0M1337.3 799h0M1338.6 791.3h0M1338.1 784.5h0M1338.1 784.3h0M1361.9 943.3h0M1361.2 936.3h0M1361.5 933.3h0M1362.2 927.6h0M1361.1 922.1h0M1361 919.5h0M1360.8 911.8h0M1362.2 905.7h0M1362.1 900.5h0M1361.5 895.5h0M1390.5 942.9h0M1390 938.3h0M1390 934.6h0M1390.9 928.3h0M1390.5 925.8h0M1390.8 923.1h0M1390.8 918.9h0M1391.3 915.5h0M1391.1 909.4h0M1390.6 902.3h0M1390.8 899.5h0M1391.1 893.7h0M1390.7 888.1h0M1390.2 884.5h0M1390.4 881.5h0M1390.7 875.3h0M1416.3 935.9h0M1417.1 931h0M1416.3 928h0M1417.4 920.1h0M1417.7 916.9h0M1416.5 911.9h0M1416.8 904.6h0M1417 900.8h0M1416.5 892.9h0M1417 887.2h0M1416.3 884.5h0M1417.4 880.3h0M1416.3 874h0M1417.4 868.1h0M1417 865.2h0M1436 908.1h0M1436.1 902.4h0M1436.3 898.7h0M1436.7 893.2h0M1435.5 889.5h0M1436.2 886.2h0M1436 881.5h0M1435.4 875.2h0M1435.3 869.2h0M1436.5 862.9h0M1436.1 859.5h0M1436.3 856.2h0M1435.5 851.4h0M1436.3 847h0M1435.6 840.1h0M1436 838.9h0M1460 908.9h0M1460.2 902.9h0M1459.7 899.2h0M1460.9 896.6h0M1460.5 892.7h0M1460 885.4h0M1459.8 878.7h0M1460.2 873.3h0M1447.4 925.3h0M1447.8 919.8h0M1447.1 916.8h0M1447.6 910.4h0M1447.1 907.3h0M1447.3 904.6h0M1447.9 901.9h0M1447.8 895.9h0M1447.1 893h0M1447.1 889.6h0M1447.8 883.9h0M1447.3 883.4h0" stroke="#1f77b4" stroke-width="5.3" stroke-linecap="round" fill="none"/>
<path d="M116.1 961.1 L117.2 971.8 L119 985.3 L120.7 985.9 L122.6 974.7 L124.3 965.7 L125.9 966 L127.3 972.7 L128.4 979.7 L129.5 987 L130.5 990.3 L131.7 982.2 L133.2 973.2 L134.6 971.3 L136.3 977.4 L137.9 981.9 L139.3 976.3 L140.7 970 L142.1 955 L143.6 942.3 L145.2 943.8 L146.9 948.3 L148.2 951.3 L149.6 953.9 L151 952.4 L152.6 942.4 L154.2 940.7 L155.6 954 L157 967.2 L158.3 971.4 L159.8 937.6 L161.2 898.8 L162.5 885.2 L164 877.7 L165.3 882.6 L166.8 920.8 L168.2 953.2 L169.9 938.2 L171.5 919.9 L172.4 947.9 L173.5 969.6 L174.7 956.5 L176.2 933.4 L177.6 917.6 L179 922.1 L180.4 932.5 L181.7 939 L183.2 919 L184.6 897.7 L186.2 919.8 L187.8 939.8 L189.5 910 L191.1 879.9 L192.6 901.4 L194 927.5 L194.9 917.9 L196 896.2 L197.3 877.1 L198.7 857.3 L200.1 855 L201.7 905 L203.4 954.3 L205 952.4 L206.7 935.6 L208.3 921.9 L209.7 916.9 L211 914.6 L212.4 908.6 L214 891 L215.7 867.5 L217.3 858.2 L218.7 876.4 L220 910.2 L221.4 935.6 L223.2 939.6 L225 932.4 L226.8 929.2 L228.2 937.3 L229.5 945.6 L230.9 947.1 L232.2 935.5 L233.6 912.8 L234.9 899.3 L236.3 910.4 L237.7 930.4 L239 942.7 L240.4 936.1 L241.8 922.1 L243.1 913.9 L244.5 920.4 L245.9 932.4 L247.2 937.9 L248.6 932.4 L250 922.1 L251.3 914.1 L252.7 923.4 L254.2 938.8 L255.4 944.6 L256.8 931.8 L258.3 908.1 L259.9 891.2 L261.9 870.5 L263.6 857.1 L265.1 849.2 L266.5 844.9 L267.7 845 L269.2 869 L270.6 891 L272.2 877.8 L273.9 865.5 L275.2 885.9 L276.7 917.6 L278 931.6 L279 891.4 L280 852.3 L281.6 885.2 L283.2 922.1 L284.7 890.8 L286.1 856.4 L287.5 881.1 L288.9 905.2 L290.5 869.7 L292.1 837.9 L293.8 869.4 L295.4 896.7 L296.8 863.4 L298.2 832.2 L299.6 862.9 L301 892.6 L302.2 844.7 L303.5 801.2 L304.8 847.6 L306.3 907.7 L307.7 924.9 L309.1 934.8 L310.7 944.5 L312.4 956.3 L313.6 971.7 L315 990.7 L316.4 1002.4 L317.7 999.1 L319.1 981.5 L320.4 969.8 L321.8 973.1 L323.1 985.3 L324.5 999.5 L325.8 1005.8 L327.2 1004.5 L328.5 999.2 L329.9 990.4 L331.2 980.6 L332.6 979.3 L333.9 990.9 L335.3 1005.5 L336.6 1011.7 L338 1002.3 L339.3 988.2 L340.7 981.8 L342 992.4 L343.4 1009.9 L344.7 1019.2 L346.1 1010.4 L347.4 996.2 L348.8 989.6 L350 989.8 L351.3 991.8 L352.8 1000.1 L354.2 1004.2 L355.7 1002.6 L357.3 995.8 L358.9 993.7 L360.4 995.6 L362 994.5 L363.6 991.3 L364.9 991.3 L366.4 984.5 L367.6 973.8 L369 965.8 L370.3 962.5 L371.9 964.3 L373.5 968.1 L375 977.4 L376.6 982.6 L378.2 981.8 L379.7 979.7 L381.1 980.3 L382.6 973.3 L383.9 959.6 L385.2 956 L386.4 964.1 L387.7 974.4 L389.2 983.6 L390.6 987.5 L392.1 985.7 L393.7 981 L395.3 973.6 L396.8 966.2 L398.4 961.5 L400 958.1 L401.3 959.6 L402.8 972.1 L404.1 988.4 L405.4 996.8 L406.7 995.2 L408.1 984.1 L409.4 974.5 L410.7 960.7 L412 940.9 L413.5 929.2 L414.9 927.8 L416.5 927 L418.1 926.8 L419.5 928.2 L421.1 940.4 L422.4 959.4 L423.6 972.9 L425 949.1 L426.4 922.1 L427.7 938 L429.1 971.4 L430.4 991.2 L431.9 962.7 L433.7 924.8 L435.1 925.1 L436.8 932.1 L438.5 938 L439.8 939.2 L440.9 921.4 L441.8 899.6 L443 888.1 L444.4 877 L445.8 875.5 L447.2 883.4 L448.5 889.4 L449.9 892.8 L451.2 895.3 L452.6 890 L453.9 884.5 L455.3 879 L456.7 870.9 L458 867.7 L459 882.6 L460 899.5 L461.6 898.9 L463.2 893.5 L464.7 883.5 L466.1 875.9 L467.1 902.9 L468.1 926.6 L469.1 897.7 L470.1 870.6 L471 897.1 L472.1 930.3 L473.4 931.7 L474.8 920 L476.2 912.3 L477.8 935.3 L479.4 959.7 L480.7 953.1 L482.1 933.2 L483.5 920 L484.8 910.7 L486.2 903.6 L487.5 902.6 L488.9 910.9 L490.3 927.3 L491.5 941.2 L493 948.1 L494.4 953.8 L495.6 955.2 L497 952.6 L498.4 952.5 L499.8 955.2 L501.1 962.5 L502.5 969.4 L503.7 980.1 L505 997.6 L506.5 1005.6 L507.9 1005.5 L509.4 1009 L511 1012.8 L512.6 1013.4 L514 1017.8 L515.5 1021.9 L517 1024.4 L518.6 1025.5 L520.1 1026.4 L521.6 1026.3 L523.3 1026.2 L525 1025.4 L526.7 1025.6 L528.3 1025.7 L530 1026.5 L531.7 1027.5 L533.4 1026.3 L535.1 1025.4 L536.8 1025.1 L538.5 1024.1 L540.1 1022.7 L541.6 1022.9 L543.3 1021.6 L545 1020.9 L547 1021.7 L548.5 1022.1 L550.1 1023.3 L551.7 1024.3 L553.4 1023.8 L555.2 1023.5 L557 1024.9 L559 1026.3 L561.1 1026.3 L562.6 1026.8 L564.1 1026.4 L565.6 1025.2 L567.2 1025.2 L568.8 1024.9 L570.4 1025.6 L572.2 1025.9 L574.2 1025.1 L576.3 1024.3 L578.7 1024.8 L581.3 1025.5 L582.8 1026 L584.4 1026.1 L586.2 1026.1 L587.9 1025.4 L589.8 1024.9 L591.8 1026 L593.8 1026.8 L595.8 1025.7 L597.9 1024.8 L600 1025.2 L602.1 1026.8 L604.2 1026.6 L606.3 1027.1 L608.4 1027 L610.5 1026.8 L612.5 1027.4 L614.5 1028.7 L616.5 1028.9 L618.3 1027.8 L620.1 1027.3 L621.8 1028.1 L624 1028 L626.3 1027.5 L628.5 1027.2 L630.6 1026.9 L632.7 1027.2 L634.8 1027 L636.7 1026.4 L638.7 1026.2 L640.5 1026.8 L642.3 1026.8 L644 1026.2 L645.7 1026.9 L647.2 1027.8 L648.7 1028.4 L650.1 1028 L652.5 1027.4 L654.2 1027.8 L655.5 1027.6 L656.7 1026.8 L658 1026.7 L659.7 1027.5 L662.1 1027.6 L663.5 1027 L665.1 1026.9 L666.7 1026.6 L668.5 1026.2 L670.3 1026.4 L672.2 1027.3 L674.1 1027.5 L676.2 1027.5 L678.2 1027.4 L680.3 1027.5 L682.3 1027.3 L684.4 1026.5 L686.4 1026.8 L688.5 1026.4 L690.4 1026.5 L692.3 1026.9 L694.3 1027 L696.4 1026.9 L698.5 1026.9 L700.7 1028 L702.8 1028.1 L705 1027.6 L707.1 1027.1 L709.2 1025.8 L711.2 1024.5 L713.2 1024.6 L715 1025 L716.7 1024.6 L718.2 1026 L719.6 1025.7 L720.8 1024.2 L724.1 1020 L724.4 1015.7 L724.8 1013.9 L726.2 1013.7 L727.5 1012.2 L728.9 1008.3 L730.2 1007 L731.6 1003.7 L732.9 1000.9 L734.2 1002.6 L735.5 1007.7 L737 1011.8 L738.4 1011.4 L740 1006.9 L741.6 1001.5 L743 1000.4 L744.6 1003.4 L745.9 1003 L747.1 997.5 L748.2 979.9 L749.1 948.6 L750.5 893.8 L751.9 855 L753.2 881.3 L754.3 915.9 L756 903.9 L757.1 932.7 L758.4 961.3 L759.8 964.7 L761.2 965.1 L762.6 980.9 L764 993.8 L765.3 985.6 L766.8 971.6 L768.1 964.9 L769.8 981.2 L771.3 998.1 L772.9 982.8 L774.6 969 L775.8 979.1 L777.2 993.5 L778.6 997 L780.2 983.6 L781.9 959.1 L783.5 948.1 L784.9 962.7 L786.2 987.6 L787.5 999.4 L788.9 995.7 L790.2 988.6 L791.6 986.7 L792.8 994.2 L794 1004.3 L795.6 1009.9 L797.2 1005.4 L799.2 997.3 L801.2 985.7 L802.9 976.6 L804.7 981.1 L806.3 1000.4 L807.7 1013.4 L809.1 1010.7 L810.5 1000.5 L811.8 999.6 L813.1 1006.4 L814.5 1013.6 L815.8 1017.4 L817.1 1015.8 L818.5 1005.6 L819.9 997.7 L821.4 996.1 L823 997.5 L824.7 1001.6 L826.3 1009.2 L827.9 1018 L830 1022.2 L831.5 1022 L833.3 1022.7 L835.3 1022.6 L837.2 1021.4 L838.8 1021.2 L840 1021.8 L840.1 1025.5 L841.2 1025.2 L842.8 1025.6 L844.6 1025.7 L846.5 1025.1 L848.1 1024.5 L849.7 1023.3 L851.1 1019.9 L852.5 1018.6 L854.2 1017.5 L855.7 1015.5 L857.4 1014.6 L859.1 1015 L860.8 1015.6 L862.2 1015.3 L864.3 1013.2 L866 1009.9 L867.5 1007.2 L868.9 1015.9 L870.3 1024.6 L871.6 1023.8 L873.2 1022.9 L874.8 1020.5 L876.4 1018.9 L877.9 1018.3 L879.4 1017.8 L880.9 1015.2 L882.5 1014.2 L884 1015.8 L885.5 1016.7 L887 1017.8 L888.5 1019.6 L890.1 1019.1 L891.8 1014.9 L893.3 1009.2 L894.6 1005.1 L896.2 989.5 L897.4 982.5 L899 1010.2 L900.7 1027.6 L902.4 958.2 L903.9 892.1 L904.9 930.8 L905.9 988.8 L907.3 996.7 L908.8 990.6 L910.4 986.5 L912 979.1 L913.4 985.4 L914.8 995.4 L916.1 1000.5 L917.6 1012.8 L918.9 1018.7 L920.3 1003.1 L921.7 989.5 L923.2 995.1 L924.9 998 L926.2 1000.2 L927.5 1006.4 L929 1009.3 L930.6 1002.2 L932.3 990.6 L933.8 977.5 L935.5 985.7 L937.1 1001.7 L938.4 1005.1 L939.8 1002.2 L941.1 994.2 L942.8 998.3 L944.3 1001.1 L945.7 980.6 L947.2 964.3 L948.4 971.8 L949.8 987.4 L951.2 1000 L952.5 1006.8 L953.8 1007.7 L955.3 1013.9 L956.6 1017.5 L958 1016.9 L959.6 1017.9 L961.3 1019.5 L962.8 1018.5 L964.4 1018.7 L966.1 1019.3 L967.8 1020 L969.4 1019.3 L971 1019.2 L972.7 1019.5 L974.3 1018.5 L975.9 1018.1 L977.5 1017.6 L979.2 1015.1 L980.8 1016.1 L982.5 1019.2 L984.1 1020.9 L985.6 1020.2 L987.3 1021.1 L988.8 1021.9 L990.2 1021.5 L991.7 1021.9 L993.1 1022.5 L994.6 1022.8 L996.1 1023.7 L997.7 1023.7 L999.2 1022.9 L1000.9 1022.9 L1002.6 1022.4 L1004.3 1021.2 L1005.8 1020.7 L1007.5 1021.3 L1009.1 1019.5 L1010.6 1019.5 L1011.9 1018.3 L1013.4 1013 L1014.7 1011.1 L1015.9 1011.1 L1017.2 1014.2 L1018.5 1017.1 L1020 1018.4 L1021.4 1020.4 L1023 1022.7 L1024.6 1023.4 L1026 1023.9 L1027.9 1022.2 L1030 1020.8 L1031.4 1021.4 L1032.9 1022.9 L1034.7 1022.9 L1036.4 1021.8 L1038.1 1022.6 L1039.7 1023.6 L1041.3 1024.2 L1042.9 1024.7 L1044.6 1025.1 L1046.2 1026 L1047.8 1025.9 L1049.4 1024.9 L1051 1024 L1052.6 1023.6 L1054.3 1022.5 L1055.9 1023.2 L1057.6 1022.9 L1059.3 1021.7 L1060.9 1022.8 L1062.4 1023.7 L1064.1 1021.1 L1065.7 1018.4 L1067.2 1017.8 L1068.4 1017.4 L1070.2 1008 L1071.7 997.4 L1073.4 1008 L1075.3 1019.5 L1076.6 1017.8 L1078 1009.4 L1079.3 1003.9 L1081 1014.1 L1082.6 1022 L1084 1009.2 L1085.4 996.2 L1086.8 1004 L1088.6 1016.4 L1089.9 1019.4 L1091.4 1019.1 L1093 1019.6 L1094.7 1017.5 L1096.2 1017.5 L1097.8 1020.4 L1099.5 1022.5 L1101.2 1025.3 L1102.8 1024.9 L1104.7 1020.2 L1106.6 1015.2 L1108.4 1013.4 L1110.1 1013.6 L1111.8 1014.9 L1113.2 1020.1 L1114.9 1025 L1116.3 1024.3 L1117.9 1021.1 L1119.6 1018 L1121.3 1015.8 L1123 1016.9 L1124.6 1018.4 L1126.3 1019.4 L1127.9 1019.3 L1129.5 1019.5 L1131.1 1019.7 L1132.7 1019.1 L1134.3 1018.2 L1136 1017.8 L1137.6 1018.3 L1139.2 1017.5 L1140.8 1017.9 L1142.4 1018.1 L1144 1016.7 L1145.7 1015.9 L1147.3 1017.3 L1148.9 1018.7 L1150.5 1018 L1152.1 1016.3 L1153.8 1016.9 L1155.4 1017 L1157 1017.3 L1158.6 1015.7 L1160.2 1015.5 L1161.8 1019.9 L1163.5 1022.8 L1165.2 1022.9 L1167.1 1019.2 L1169 1016.6 L1170.8 1014 L1172.4 1008.9 L1174.2 1010.3 L1175.6 1016.1 L1177.6 1021.6 L1179 1022.8 L1180.7 1021.8 L1182.5 1018.5 L1184.3 1017.7 L1186.1 1018.2 L1187.7 1017.7 L1189.5 1017.5 L1191.1 1017.2 L1192.7 1014.4 L1194.2 1013.1 L1195.8 1013.7 L1197.4 1014.9 L1199.1 1014.7 L1200.7 1015.2 L1202.3 1015.9 L1203.9 1016.1 L1205.5 1016.7 L1207.1 1014.2 L1208.8 1010.9 L1210.4 1011.3 L1212 1012.8 L1213.7 1013.7 L1215.4 1013.2 L1217 1013.5 L1218.6 1012.5 L1220 1009.5 L1221.9 995.7 L1223.4 981.2 L1224.9 978.8 L1226.2 990.9 L1227.4 1010 L1228.9 1019.8 L1230.4 1013.1 L1232.1 1003.1 L1233.9 994 L1235.4 991.7 L1236.9 995.1 L1238.1 1007.3 L1239.4 1017.9 L1241 1016.9 L1242.6 1015.7 L1244.3 1013.5 L1245.8 1014.6 L1247.3 1018.4 L1249.1 1020.4 L1250.6 1018.2 L1252.3 1013.3 L1254.1 1010.3 L1255.8 1007.9 L1257.2 1006.5 L1258.8 1010.9 L1260 1015.9 L1261.3 1020.8 L1263 1018.6 L1264.8 1011.3 L1266.5 1007.9 L1267.9 1009.7 L1269.3 1013.8 L1270.6 1018 L1271.9 1011.8 L1273.2 1003.5 L1274.6 998.6 L1276.2 1001.8 L1278 1008.4 L1279.9 1016.2 L1281.7 1013.3 L1283.6 1006.8 L1285.5 1003.5 L1287.3 1008.4 L1289 1015.7 L1290.8 1016.3 L1292.6 998.6 L1294.4 973.4 L1296 961 L1297.4 971.8 L1298.7 991.9 L1300.1 1004.4 L1301.7 1011 L1303.3 1014 L1304.9 1011.1 L1306.3 1007.7 L1307.5 1006.4 L1309 1001.6 L1310.4 995 L1312 989 L1313.6 982.1 L1315 979.3 L1316.5 986.6 L1317.8 999 L1319.1 1006.3 L1320.4 999.2 L1321.7 985.4 L1323.1 978.3 L1324.9 984.2 L1326.9 995.3 L1328.4 1004.2 L1330 980.6 L1331.2 987.3 L1332.6 1002.6 L1334 1008.2 L1335.4 995.9 L1336.7 975 L1338.1 959.8 L1339.4 969.7 L1340.8 987.8 L1342.1 997.8 L1343.4 991.2 L1344.7 984.2 L1346.2 978.8 L1347.6 978.7 L1349.2 985.9 L1350.8 990.4 L1352.2 994 L1353.7 1002 L1354.9 1012 L1356.3 1011.3 L1358 992.2 L1359.8 964.4 L1361.5 949.1 L1363 964.3 L1364.2 992.1 L1365.6 1010.8 L1367.1 1004.5 L1368.8 989.9 L1370.4 982.5 L1372 989.9 L1373.6 1000.9 L1375.3 1004.3 L1377 1001.1 L1378.8 998.2 L1380.6 994.8 L1382.3 992.3 L1384.1 987.1 L1385.8 979.9 L1387.5 964.8 L1389.1 945.4 L1390.7 935.7 L1392 946.2 L1393.3 961.4 L1394.7 973.6 L1396.3 985.2 L1397.9 995.1 L1399.6 998.1 L1401.3 988.5 L1403.1 971.1 L1404.8 963.8 L1406.3 972.3 L1407.6 985.3 L1408.9 998.7 L1410.2 1009.3 L1411.6 1012.4 L1412.9 1006.5 L1414.2 983.5 L1415.5 953.9 L1417 938 L1418.6 951 L1420.4 978.9 L1422.2 993.2 L1423.9 988.1 L1425.5 977.6 L1427.1 973.9 L1428.7 979 L1430.4 990.3 L1431.9 992.3 L1433.3 980.1 L1434.6 954.6 L1436 933.8 L1437.7 936.7 L1439.5 948.1 L1441.2 962.7 L1442.6 975 L1443.9 980.1 L1445.3 978.9 L1446.9 967.8 L1448.8 950.1 L1450.5 942 L1452.2 951.4 L1453.9 964.5 L1455.4 976.4 L1456.7 973.7 L1458.6 966 L1460.2 964.6 L1462.2 962.5 L1464.3 965.1 L1466.2 974 L1467.5 972.3" stroke="#ff7f0e" stroke-width="2.08" stroke-linejoin="round" fill="none"/>
</g>
<rect x="1048.4" y="586.6" width="404.9" height="78.6" rx="3.7" fill="#ffffff" fill-opacity="0.8" stroke="#cccccc" stroke-opacity="0.8" stroke-width="1.1"/>
<circle cx="1073.5" cy="600.5" r="2.75" fill="#1f77b4"/>
<path d="M1052.8 638.9H1092.1" stroke="#ff7f0e" stroke-width="2.08"/>
<g style="opacity:0.999">
<text font-size="18.5" transform="matrix(1.1699 0 0 1.0077 1106.03 606.30)">Raw Data</text>
<text font-size="18.5" transform="matrix(1.2140 0 0 0.9769 1105.99 633.20)">Butterworth Filtered Data</text>
<text font-size="18.5" transform="matrix(1.2247 0 0 0.9353 1105.98 652.36)">(N=6, Tc=3.3333 min, Type: low)</text>
</g>
<rect x="116.5" y="576.5" width="1346.0" height="478.0" fill="none" stroke="#000" stroke-width="1.1"/>
<path d="M116.50 1054.5v5.2M284.50 1054.5v5.2M452.50 1054.5v5.2M620.50 1054.5v5.2M789.50 1054.5v5.2M957.50 1054.5v5.2M1125.50 1054.5v5.2M1293.50 1054.5v5.2M116.5 627.50h-5.2M116.5 695.50h-5.2M116.5 763.50h-5.2M116.5 831.50h-5.2M116.5 899.50h-5.2M116.5 966.50h-5.2M116.5 1034.50h-5.2" stroke="#000" stroke-width="1.1"/>
<g style="opacity:0.999">
<text font-size="27.5" transform="matrix(1.1856 0 0 1.0442 634.33 29.90)">10.0 MHz N0000015</text>
<text font-size="27.5" transform="matrix(1.1935 0 0 0.9077 116.71 28.25)">(a)</text>
<text font-size="27.5" transform="matrix(1.1515 0 0 0.9077 116.75 565.45)">(b)</text>
<text font-size="22.5" transform="matrix(1.0591 0 0 1.0533 764.74 1157.70)">UTC</text>
<text font-size="22.5" transform="matrix(1.2083 0 0 1.0533 72.59 517.00)">−2</text>
<text font-size="22.5" transform="matrix(1.2500 0 0 1.0533 72.55 411.00)">−1</text>
<text font-size="22.5" transform="matrix(1.1818 0 0 1.0533 89.62 305.00)">0</text>
<text font-size="22.5" transform="matrix(1.0909 0 0 1.0533 91.71 199.00)">1</text>
<text font-size="22.5" transform="matrix(1.0909 0 0 1.0533 91.71 93.00)">2</text>
<text font-size="22.5" transform="matrix(1.2452 0 0 1.0400 50.25 1043.00)">0.00</text>
<text font-size="22.5" transform="matrix(1.2214 0 0 1.0400 50.28 975.00)">0.02</text>
<text font-size="22.5" transform="matrix(1.2163 0 0 1.0400 50.28 907.00)">0.04</text>
<text font-size="22.5" transform="matrix(1.2452 0 0 1.0400 50.25 839.00)">0.06</text>
<text font-size="22.5" transform="matrix(1.2452 0 0 1.0400 50.25 771.00)">0.08</text>
<text font-size="22.5" transform="matrix(1.2452 0 0 1.0400 50.25 703.00)">0.10</text>
<text font-size="22.5" transform="matrix(1.2214 0 0 1.0400 50.28 635.00)">0.12</text>
<text font-size="22.5" transform="translate(19.33 1133.12) rotate(-30) scale(1.2430 1.1200)">04-11 00</text>
<text font-size="22.5" transform="translate(187.33 1133.12) rotate(-30) scale(1.2430 1.1200)">04-11 03</text>
<text font-size="22.5" transform="translate(356.33 1132.62) rotate(-30) scale(1.2430 1.1200)">04-11 06</text>
<text font-size="22.5" transform="translate(523.83 1133.12) rotate(-30) scale(1.2430 1.1200)">04-11 09</text>
<text font-size="22.5" transform="translate(692.83 1133.12) rotate(-30) scale(1.2430 1.1200)">04-11 12</text>
<text font-size="22.5" transform="translate(859.83 1132.62) rotate(-30) scale(1.2430 1.1200)">04-11 15</text>
<text font-size="22.5" transform="translate(1029.33 1133.12) rotate(-30) scale(1.2430 1.1200)">04-11 18</text>
<text font-size="22.5" transform="translate(1197.83 1133.12) rotate(-30) scale(1.2430 1.1200)">04-11 21</text>
<text font-size="22.5" transform="translate(60.83 390.58) rotate(-90) scale(1.1824 1.0238)">Doppler Shift [Hz]</text>
<text font-size="22.5" transform="translate(39.88 920.34) rotate(-90) scale(1.1884 1.0333)">Peak Voltage [V]</text>
</g>
</svg></body></html>
